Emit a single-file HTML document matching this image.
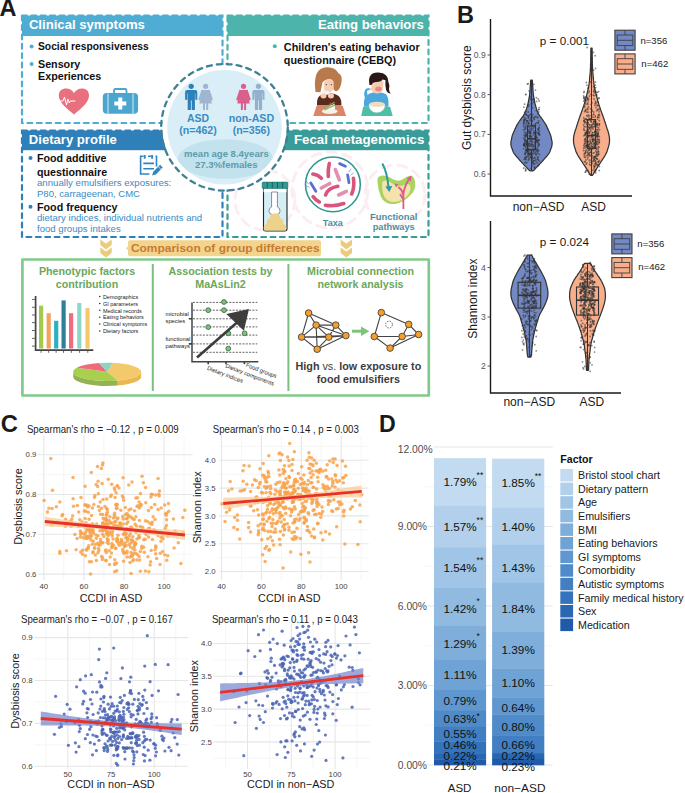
<!DOCTYPE html>
<html><head><meta charset="utf-8"><style>
html,body{margin:0;padding:0;background:#fff;}
svg{display:block;font-family:"Liberation Sans", sans-serif;}
</style></head><body>
<svg width="685" height="793" viewBox="0 0 685 793">
<rect width="685" height="793" fill="#fff"/>
<text x="-0.5" y="15.8" font-size="23.5" fill="#1a1a1a" font-weight="bold" text-anchor="start">A</text>
<rect x="22" y="15.5" width="200.5" height="20.5" fill="#4facd3"/>
<rect x="22" y="15.5" width="200.5" height="107.5" fill="none" stroke="#4facd3" stroke-width="2.2" stroke-dasharray="4.8 4.6" stroke-linecap="round"/>
<text x="28.9" y="29.2" font-size="13.1" fill="#fff" font-weight="bold" text-anchor="start" textLength="116.0" lengthAdjust="spacingAndGlyphs">Clinical symptoms</text>
<rect x="227.5" y="15.5" width="201" height="20.5" fill="#4cb4ab"/>
<rect x="227.5" y="15.5" width="201" height="107.5" fill="none" stroke="#4cb4ab" stroke-width="2.2" stroke-dasharray="4.8 4.6" stroke-linecap="round"/>
<text x="423.8" y="29.4" font-size="13.1" fill="#fff" font-weight="bold" text-anchor="end" textLength="105.8" lengthAdjust="spacingAndGlyphs">Eating behaviors</text>
<rect x="22" y="130.5" width="200.5" height="106.5" fill="none" stroke="#2f7fb8" stroke-width="2.2" stroke-dasharray="4.8 4.6" stroke-linecap="round"/>
<rect x="22" y="130.5" width="150" height="19.7" fill="#2f7fb8"/>
<text x="28.8" y="143.6" font-size="13.1" fill="#fff" font-weight="bold" text-anchor="start" textLength="88.0" lengthAdjust="spacingAndGlyphs">Dietary profile</text>
<rect x="227.5" y="130.5" width="201" height="106.5" fill="none" stroke="#3a9c98" stroke-width="2.2" stroke-dasharray="4.8 4.6" stroke-linecap="round"/>
<rect x="278" y="130.5" width="150.5" height="19.7" fill="#3a9c98"/>
<text x="424.3" y="144.0" font-size="13.1" fill="#fff" font-weight="bold" text-anchor="end" textLength="130.3" lengthAdjust="spacingAndGlyphs">Fecal metagenomics</text>
<clipPath id="fc"><rect x="229" y="151" width="198" height="85"/></clipPath><g fill="none" stroke="#fcedf1" stroke-width="3" stroke-linecap="round" stroke-dasharray="9 7" clip-path="url(#fc)"><circle cx="265" cy="200" r="30"/><circle cx="330" cy="190" r="38"/><circle cx="395" cy="195" r="30"/></g>
<circle cx="224.5" cy="127.3" r="62.3" fill="#fff"/>
<circle cx="224.5" cy="127.3" r="63.3" fill="none" stroke="#3f8095" stroke-width="2.3" stroke-dasharray="5 5" stroke-linecap="round"/>
<circle cx="224.5" cy="127.3" r="57.2" fill="#d9eef6"/>
<clipPath id="cc"><circle cx="224.5" cy="127.3" r="57.2"/></clipPath>
<ellipse cx="225.4" cy="159" rx="47.5" ry="19.8" fill="#c2e2ed" clip-path="url(#cc)"/>
<g fill="#2e80ba"><circle cx="191.2" cy="86.3" r="2.6"/><path d="M185.1,99.7 V92 q0,-2.1 2.1,-2.1 h8 q2.1,0 2.1,2.1 V99.7 h-2 V93.5 h-0.4 V110 h-3.2 V100.5 h-0.8 V110 h-3.2 V93.5 h-0.4 V99.7z"/></g>
<g fill="#9eb6d0"><circle cx="205.6" cy="86.3" r="2.6"/><path d="M201.7,89.9 h7.8 l2.3,13.6 h-12.4z"/><path d="M203.0,103 h2 v7 h-2z M206.2,103 h2 v7 h-2z"/><path d="M202.2,90.8 l-2.8,8.6 M209.0,90.8 l2.8,8.6" stroke="#9eb6d0" stroke-width="1.9" stroke-linecap="round"/></g>
<g fill="#da5f8a"><circle cx="243.5" cy="86.3" r="2.6"/><path d="M239.6,89.9 h7.8 l2.3,13.6 h-12.4z"/><path d="M240.9,103 h2 v7 h-2z M244.1,103 h2 v7 h-2z"/><path d="M240.1,90.8 l-2.8,8.6 M246.9,90.8 l2.8,8.6" stroke="#da5f8a" stroke-width="1.9" stroke-linecap="round"/></g>
<g fill="#94b0cd"><circle cx="258.4" cy="86.3" r="2.6"/><path d="M252.29999999999998,99.7 V92 q0,-2.1 2.1,-2.1 h8 q2.1,0 2.1,2.1 V99.7 h-2 V93.5 h-0.4 V110 h-3.2 V100.5 h-0.8 V110 h-3.2 V93.5 h-0.4 V99.7z"/></g>
<text x="198.0" y="121.9" font-size="10.4" fill="#3a8cc4" font-weight="bold" text-anchor="middle" textLength="22.1" lengthAdjust="spacingAndGlyphs">ASD</text>
<text x="198.0" y="133.5" font-size="10.6" fill="#3a8cc4" font-weight="bold" text-anchor="middle" textLength="37.7" lengthAdjust="spacingAndGlyphs">(n=462)</text>
<text x="251.4" y="121.9" font-size="10.6" fill="#3a8cc4" font-weight="bold" text-anchor="middle" textLength="45.5" lengthAdjust="spacingAndGlyphs">non-ASD</text>
<text x="251.3" y="133.5" font-size="10.6" fill="#3a8cc4" font-weight="bold" text-anchor="middle" textLength="37.3" lengthAdjust="spacingAndGlyphs">(n=356)</text>
<text x="226.4" y="157.2" font-size="9.6" fill="#5d9cae" font-weight="bold" text-anchor="middle" textLength="84.6" lengthAdjust="spacingAndGlyphs">mean age 8.4years</text>
<text x="226.2" y="168.1" font-size="9.6" fill="#5d9cae" font-weight="bold" text-anchor="middle" textLength="62.6" lengthAdjust="spacingAndGlyphs">27.3%females</text>
<circle cx="31.6" cy="46.6" r="2" fill="#4facd3"/><circle cx="31.6" cy="64" r="2" fill="#4facd3"/>
<text x="38.0" y="50.3" font-size="10.5" fill="#111" font-weight="bold" text-anchor="start" textLength="110.8" lengthAdjust="spacingAndGlyphs">Social responsiveness</text>
<text x="38.0" y="67.7" font-size="10.6" fill="#111" font-weight="bold" text-anchor="start" textLength="42.3" lengthAdjust="spacingAndGlyphs">Sensory</text>
<text x="38.0" y="80.3" font-size="10.6" fill="#111" font-weight="bold" text-anchor="start" textLength="63.3" lengthAdjust="spacingAndGlyphs">Experiences</text>
<path d="M74,114.5 C66,108 58.8,102 58.8,95.5 C58.8,91 62,88.5 66,88.5 C69.5,88.5 72.5,90.5 74,93 C75.5,90.5 78.5,88.5 82,88.5 C86,88.5 89,91 89,95.5 C89,102 82,108 74,114.5Z" fill="#e8707f"/>
<path d="M59,101 h4 l1.5,-4 l2,8 l1.5,-6 l1.3,4 l1,-2 h5" fill="none" stroke="#fff" stroke-width="1"/>
<path d="M114,93 v-2.5 q0,-1.5 1.5,-1.5 h9.5 q1.5,0 1.5,1.5 v2.5" fill="none" stroke="#4aa6cf" stroke-width="1.8"/>
<rect x="102.8" y="93" width="35.3" height="20.7" rx="4" fill="#4aa6cf"/>
<path d="M108,93.5 v20 M133,93.5 v20" stroke="#fff" stroke-width="0.8"/>
<path d="M118.3,97.5 h4 v4 h4 v4 h-4 v4 h-4 v-4 h-4 v-4 h4z" fill="#fff"/>
<circle cx="274.8" cy="46.2" r="2" fill="#4cb4ab"/>
<text x="283.8" y="50.9" font-size="10.6" fill="#111" font-weight="bold" text-anchor="start" textLength="135.9" lengthAdjust="spacingAndGlyphs">Children's eating behavior</text>
<text x="283.8" y="63.6" font-size="10.6" fill="#111" font-weight="bold" text-anchor="start" textLength="112.2" lengthAdjust="spacingAndGlyphs">questionnaire (CEBQ)</text>
<g><path d="M317,105.5 q-1,-9 5,-11 q4,-1.5 7,-1 q4,-0.5 7,1 q6,2 5.5,11z" fill="#5b2a1f"/><path d="M315.5,92 q-1.5,-12 1,-18 q3,-7 11,-6.8 q8,0.2 11,6 q4,1.5 3,9 q-1,7 -5,9 q-2,0 -3,-2 l-1,-8 q-6,-4 -10,1 l-2,10 z" fill="#b87a4b"/><path d="M323.8,84 q1,-5 5.5,-5.3 q4.5,0.5 4.5,5 l-0.4,5.5 q-1.8,3 -4.8,3 q-3.6,0 -4.6,-3.5z" fill="#f6cdb0"/><path d="M323,82 q3,-6 10,-3 l-1,-3 q-6,-3 -9.5,2z" fill="#b87a4b"/><circle cx="326.3" cy="84.6" r="0.6" fill="#3a2a2a"/><circle cx="331.3" cy="84.6" r="0.6" fill="#3a2a2a"/><rect x="322.5" y="90.5" width="7.2" height="4.3" rx="1.5" fill="#f2f2f2" stroke="#ccc" stroke-width="0.3"/><ellipse cx="323.5" cy="96" rx="3" ry="2.4" fill="#f6cdb0"/><ellipse cx="331" cy="96" rx="3" ry="2.4" fill="#f6cdb0"/><path d="M316.5,106 h26.3 l3.3,9.9 h-32.8z" fill="#d98669"/><ellipse cx="329.7" cy="111.3" rx="7.9" ry="2.7" fill="#f4f0ea"/><path d="M324,110 l10.5,-6.5 l0.5,5.5z" fill="#fbfaf5"/><path d="M324,108.3 l10.5,-6 M324.5,110 l10.5,-5" stroke="#7ab55c" stroke-width="1.3"/><circle cx="330.5" cy="103.4" r="1" fill="#d23a3a"/></g>
<g><path d="M364,106.7 q-1,-10 5,-13 q5,-2 9,-1.5 q5,0 8,2 q3,3 2.5,12.5z" fill="#4aa8dc"/><path d="M366,100 q-3,-5 -1,-10 q2,-3 6,-1.5 l-1.5,2 q-2,-1 -2.5,1 q0,3 2,7z" fill="#4aa8dc"/><path d="M371.5,82 q0,-3 5,-3.5 q6,0 7,4 l-0.5,7 q-2,4 -6,4 q-4,0 -5.5,-4z" fill="#f6cdb0"/><path d="M369.5,85 q-2.5,-13 9,-12.5 q10,0.5 10,10 q-3,-3 -6,-3 q-1,2 -6,2.5 q-4,0 -5,3z" fill="#2a1818"/><path d="M385.5,80 q5,2 3.5,9 q0,3 2,4.5 q-4,0 -5,-4 q-1,-5 -0.5,-9.5z" fill="#2a1818"/><ellipse cx="378.5" cy="89" rx="3.3" ry="2.5" fill="#e98a86"/><ellipse cx="371" cy="89" rx="2" ry="1.3" fill="#f6cdb0"/><path d="M363.2,106.7 h26.9 l2.6,9.2 h-31.5z" fill="#4dbfa6"/><path d="M369,104.4 h15.9 q0,7.5 -8,8.2 q-7.9,-0.7 -7.9,-8.2z" fill="#fff" stroke="#e8e0d0" stroke-width="0.4"/><ellipse cx="377" cy="104.4" rx="7.9" ry="2.6" fill="#f0dcc0"/></g>
<circle cx="30.5" cy="158" r="2" fill="#2f7fb8"/><circle cx="30.5" cy="206.8" r="2" fill="#2f7fb8"/>
<text x="37.0" y="162.3" font-size="10.7" fill="#111" font-weight="bold" text-anchor="start" textLength="69.5" lengthAdjust="spacingAndGlyphs">Food additive</text>
<text x="37.0" y="175.5" font-size="10.7" fill="#111" font-weight="bold" text-anchor="start" textLength="70.1" lengthAdjust="spacingAndGlyphs">questionnaire</text>
<text x="37.0" y="186.4" font-size="9.6" fill="#3a8cc4" text-anchor="start" textLength="134.3" lengthAdjust="spacingAndGlyphs">annually emulsifiers exposures:</text>
<text x="37.0" y="196.5" font-size="9.6" fill="#3a8cc4" text-anchor="start" textLength="103.0" lengthAdjust="spacingAndGlyphs">P80, carrageenan, CMC</text>
<text x="37.0" y="210.5" font-size="10.7" fill="#111" font-weight="bold" text-anchor="start" textLength="80.4" lengthAdjust="spacingAndGlyphs">Food frequency</text>
<text x="37.0" y="221.0" font-size="9.6" fill="#3a8cc4" text-anchor="start" textLength="165.2" lengthAdjust="spacingAndGlyphs">dietary indices, individual nutrients and</text>
<text x="37.0" y="231.5" font-size="9.6" fill="#3a8cc4" text-anchor="start" textLength="83.7" lengthAdjust="spacingAndGlyphs">food groups intakes</text>
<g fill="none" stroke="#2f86c0" stroke-width="1.6"><path d="M143.5,156.2 H140.6 V174 H149.4 M148,156.2 h3 M155.5,156.2 h1 V166.4"/><path d="M144.7,155 v3.7 M152.1,155 v3.7" stroke-width="1.9"/><path d="M143.3,163.4 H154 M143.3,168.8 H154"/></g>
<path d="M152.1,175.6 l1.2,-3.8 l6.8,-7 l2.6,2.6 l-6.8,7z" fill="#2f86c0"/>
<path d="M158.3,166.6 l2.6,2.6" stroke="#fff" stroke-width="0.7"/>
<g><rect x="263.5" y="187" width="23.5" height="44" rx="2.2" fill="#d5edf5" stroke="#222" stroke-width="1.1"/><rect x="263.5" y="189.2" width="23" height="3" fill="#fff"/><path d="M271.6,192 V207 q-3,1 -2.6,4.5 q0.5,3 3.5,3 h4 q3,0 3.5,-3 q0.4,-3.5 -2.6,-4.5 V192z" fill="#fff" stroke="#444" stroke-width="0.6"/><path d="M264,230.6 q-1.5,-5.5 3,-6.8 q-1.5,-4.5 3,-5.5 q-0.5,-4.5 5,-5 q5.5,0.5 5,5 q4.5,1 3,5.5 q4.5,1.3 3,6.8z" fill="#edd28a"/><rect x="262.1" y="182.1" width="25.8" height="6.3" rx="1.2" fill="#2e9c94" stroke="#1f5e5a" stroke-width="0.5"/><path d="M267.2,182.3 v6 M272.3,182.3 v6 M277.5,182.3 v6 M282.6,182.3 v6" stroke="#174542" stroke-width="0.7"/></g>
<circle cx="332.9" cy="184.4" r="27.4" fill="#fff" stroke="#2e9a94" stroke-width="1.6"/>
<g fill="none" stroke-linecap="round" stroke-width="3.6"><path d="M329.3,163.6 q-1.5,6 -1,12.8" stroke="#d8557e"/><path d="M312.8,174 q5,0.5 8.6,4.3" stroke="#d8557e"/><path d="M335.3,169.5 l4,10.3" stroke="#e48fb1"/><path d="M321.3,188 l8.5,-4.5" stroke="#e48fb1"/><path d="M325.6,195 q2,-7 12.2,-8.8" stroke="#d8557e"/><path d="M353.4,178.3 q1.5,8 -1.7,15.7" stroke="#d8557e"/><path d="M338.7,195 l7.7,-3.6" stroke="#e48fb1"/><path d="M313.1,196.7 q3,4 6.2,5.3" stroke="#d8557e"/><path d="M325.4,205.2 q9,1.5 18.4,-1.7" stroke="#d8557e"/></g>
<g fill="none" stroke-linecap="round" stroke="#5a6fd0"><path d="M339.6,163.6 l5.8,2.6" stroke-width="2.8"/><path d="M347.6,174.8 l1.4,7.9" stroke-width="2.8"/><path d="M310.8,183 l5,8.2" stroke-width="2.8"/><path d="M349,172 l2,-3 M351,175 l2.5,-2 M308.5,184 l-2,-2.5 M309,187 l-2.5,-1" stroke-width="0.6"/></g>
<text x="332.9" y="225.6" font-size="9.7" fill="#4b8fa0" font-weight="bold" text-anchor="middle" textLength="20.1" lengthAdjust="spacingAndGlyphs">Taxa</text>
<path d="M377.5,182 q-1,-7 6,-6.5 q6,1 10,4 q6,3 12,-2 q8,-5 9.5,4 q1.5,9 -6,15 q-6,6 -14,7.5 q-10,1 -14,-7 q-3,-7 -3.5,-15z" fill="#a9d45e"/>
<path d="M382,184 q0,-4 4,-3.5 q5,1.5 8,4 q6,3 11,0 q5,-2 5.5,3 q0,6 -5,10 q-5,4 -11,4.5 q-7,0 -10,-5 q-2.5,-5 -2.5,-13z" fill="#f4e4ac"/>
<path d="M382.3,163.4 q5,9 6.2,24" fill="none" stroke="#2a9aa2" stroke-width="2"/><path d="M385.3,186.5 l4,5.5 l3,-6z" fill="#2a9aa2"/>
<path d="M403.4,209 v-14 q0,-6 5,-15 M403.4,195 q-1,-5 -5,-8 M403,199 l-3,-5" fill="none" stroke="#d95c8f" stroke-width="1.8"/>
<path d="M406.5,178.5 l5,-3 l-0.5,6z M396,187.5 l-1.5,-4 l4,1z" fill="#d95c8f"/>
<text x="393.7" y="220.0" font-size="9.4" fill="#4b8fa0" font-weight="bold" text-anchor="middle" textLength="47.4" lengthAdjust="spacingAndGlyphs">Functional</text>
<text x="393.7" y="230.0" font-size="9.4" fill="#4b8fa0" font-weight="bold" text-anchor="middle" textLength="42.1" lengthAdjust="spacingAndGlyphs">pathways</text>
<path d="M100.3,239.6 l5.7,4 l5.7,-4 v5.5 l-5.7,4.5 l-5.7,-4.5z" fill="#eccc7c"/>
<path d="M100.3,247.6 l5.7,4 l5.7,-4 v5.5 l-5.7,4.5 l-5.7,-4.5z" fill="#eccc7c"/>
<path d="M340.6,239.6 l5.7,4 l5.7,-4 v5.5 l-5.7,4.5 l-5.7,-4.5z" fill="#eccc7c"/>
<path d="M340.6,247.6 l5.7,4 l5.7,-4 v5.5 l-5.7,4.5 l-5.7,-4.5z" fill="#eccc7c"/>
<path d="M130,240.2 h189 q2,0 2,2 v12.1 q0,2 -2,2 h-189 q-2,0 -2,-2 v-4 l-2,-2 l2,-2 v-4 q0,-2 2,-2z" fill="#f3d48d"/>
<text x="130.9" y="251.5" font-size="10.8" fill="#c87a34" font-weight="bold" text-anchor="start" textLength="188.8" lengthAdjust="spacingAndGlyphs">Comparison of group differences</text>
<rect x="22.4" y="259.5" width="406.4" height="136" fill="none" stroke="#82ca8b" stroke-width="2.7" stroke-linejoin="round"/>
<path d="M152.8,264 V391 M288.4,264 V391" stroke="#7cc080" stroke-width="2"/>
<text x="87.0" y="275.4" font-size="10.7" fill="#6aa85a" font-weight="bold" text-anchor="middle">Phenotypic factors</text>
<text x="87.0" y="287.7" font-size="10.7" fill="#6aa85a" font-weight="bold" text-anchor="middle">contribution</text>
<text x="220.5" y="275.4" font-size="10.7" fill="#6aa85a" font-weight="bold" text-anchor="middle">Association tests by</text>
<text x="220.5" y="287.7" font-size="10.7" fill="#6aa85a" font-weight="bold" text-anchor="middle">MaAsLin2</text>
<text x="360.5" y="274.7" font-size="10.7" fill="#6aa85a" font-weight="bold" text-anchor="middle">Microbial connection</text>
<text x="360.5" y="287.8" font-size="10.7" fill="#6aa85a" font-weight="bold" text-anchor="middle">network analysis</text>
<rect x="39" y="305.7" width="4.2" height="42.8" fill="#a5c94a"/>
<rect x="46.6" y="313.2" width="4.2" height="35.3" fill="#f4a261"/>
<rect x="54.1" y="320.8" width="4.2" height="27.7" fill="#2bb0c4"/>
<rect x="61.5" y="300.4" width="4.2" height="48.1" fill="#2d7f9a"/>
<rect x="69" y="313.2" width="4.2" height="35.3" fill="#ef6b7d"/>
<rect x="77.2" y="303" width="4.2" height="45.5" fill="#8fd6c8"/>
<rect x="85.4" y="308.1" width="4.2" height="40.4" fill="#f5c96b"/>
<path d="M35.6,296 V350.2 H93.3" fill="none" stroke="#444" stroke-width="1.7"/>
<path d="M32,299.4 h3.6 M32,307.3 h3.6 M32,315.0 h3.6 M32,322.6 h3.6 M32,330.5 h3.6 M32,338.4 h3.6 M32,346.1 h3.6 M41.1,350.2 v2.6 M48.7,350.2 v2.6 M56.1,350.2 v2.6 M63.5,350.2 v2.6 M71.4,350.2 v2.6 M79.6,350.2 v2.6 M87.8,350.2 v2.6 " stroke="#555" stroke-width="0.9"/>
<circle cx="99.8" cy="296.6" r="0.75" fill="#222"/>
<text x="102.9" y="298.8" font-size="5.5" fill="#222" text-anchor="start">Demographics</text>
<circle cx="99.8" cy="303.5" r="0.75" fill="#222"/>
<text x="102.9" y="305.7" font-size="5.5" fill="#222" text-anchor="start">GI parameters</text>
<circle cx="99.8" cy="310.3" r="0.75" fill="#222"/>
<text x="102.9" y="312.5" font-size="5.5" fill="#222" text-anchor="start">Medical records</text>
<circle cx="99.8" cy="317.2" r="0.75" fill="#222"/>
<text x="102.9" y="319.4" font-size="5.5" fill="#222" text-anchor="start">Eating behaviors</text>
<circle cx="99.8" cy="324.1" r="0.75" fill="#222"/>
<text x="102.9" y="326.3" font-size="5.5" fill="#222" text-anchor="start">Clinical symptoms</text>
<circle cx="99.8" cy="331.0" r="0.75" fill="#222"/>
<text x="102.9" y="333.2" font-size="5.5" fill="#222" text-anchor="start">Dietary factors</text>
<path d="M141.20,371.85 A34,9.15 0 0 1 117.71,380.55 v5 A34,9.15 0 0 0 141.20,376.85 z" fill="#e9b853"/><path d="M117.71,380.55 A34,9.15 0 0 1 73.20,371.85 v5 A34,9.15 0 0 0 117.71,385.55 z" fill="#93b352"/><path d="M107.2,371.85 L112.81,362.83 A34,9.15 0 0 1 117.71,380.55 z" fill="#f3c96b"/><path d="M107.2,371.85 L117.71,380.55 A34,9.15 0 0 1 76.80,367.75 z" fill="#a8cf4e"/><path d="M107.2,371.85 L76.80,367.75 A34,9.15 0 0 1 99.09,362.96 z" fill="#ee6b7c"/><path d="M107.2,371.85 L99.09,362.96 A34,9.15 0 0 1 112.81,362.83 z" fill="#8dd3c4"/>
<path d="M192,302.4 V361.7 H258.3" fill="none" stroke="#444" stroke-width="1.5"/>
<path d="M193,302.4 H257.3 M193,310.2 H257.3 M193,318.8 H257.3 M193,326.9 H257.3 M193,335.1 H257.3 M193,343.9 H257.3 M193,352.3 H257.3 " stroke="#3a3a3a" stroke-width="0.8" stroke-dasharray="2 1.3"/>
<path d="M188.8,318.8 H192 M188.8,343.9 H192 M208.2,361.7 v2.6 M226,361.7 v2.6 M244.4,361.7 v2.6" stroke="#3d3d3d" stroke-width="1.6"/>
<circle cx="224" cy="302" r="2.4" fill="#7cc47a" stroke="#3f5a3f" stroke-width="0.8"/>
<circle cx="208.2" cy="310.2" r="2.4" fill="#7cc47a" stroke="#3f5a3f" stroke-width="0.8"/>
<circle cx="224" cy="310.2" r="2.4" fill="#7cc47a" stroke="#3f5a3f" stroke-width="0.8"/>
<circle cx="208.2" cy="327.1" r="2.4" fill="#7cc47a" stroke="#3f5a3f" stroke-width="0.8"/>
<circle cx="228.3" cy="333.3" r="2.4" fill="#7cc47a" stroke="#3f5a3f" stroke-width="0.8"/>
<circle cx="244.6" cy="333.3" r="2.4" fill="#7cc47a" stroke="#3f5a3f" stroke-width="0.8"/>
<circle cx="228.3" cy="348.6" r="2.4" fill="#7cc47a" stroke="#3f5a3f" stroke-width="0.8"/>
<path d="M197,357.5 L237,322.5" stroke="#3d3d3d" stroke-width="2.6"/>
<path d="M226.4,314 L249,308.9 L243.9,330.8z" fill="#3d3d3d"/>
<text x="165.5" y="316.2" font-size="5.8" fill="#222" text-anchor="start">microbial</text>
<text x="165.5" y="323.0" font-size="5.8" fill="#222" text-anchor="start">species</text>
<text x="165.5" y="341.4" font-size="5.8" fill="#222" text-anchor="start">functional</text>
<text x="165.5" y="348.3" font-size="5.8" fill="#222" text-anchor="start">pathways</text>
<text x="206.7" y="369.5" font-size="5.8" fill="#222" text-anchor="start" transform="rotate(21 206.7 369.5)">Dietary indices</text>
<text x="225.0" y="367.3" font-size="5.8" fill="#222" text-anchor="start" transform="rotate(21 225 367.3)">Dietary components</text>
<text x="245.4" y="366.5" font-size="5.8" fill="#222" text-anchor="start" transform="rotate(21 245.4 366.5)">Food groups</text>
<path d="M308.6,313 L316.1,325.1 M308.6,313 L335.8,325.1 M308.6,313 L301.6,337.1 M316.1,325.1 L335.8,325.1 M316.1,325.1 L301.6,337.1 M316.1,325.1 L328.8,337.1 M316.1,325.1 L317.2,349.2 M316.1,325.1 L345.9,335.6 M335.8,325.1 L328.8,337.1 M335.8,325.1 L345.9,335.6 M301.6,337.1 L328.8,337.1 M301.6,337.1 L317.2,349.2 M328.8,337.1 L317.2,349.2 M328.8,337.1 L345.9,335.6 M317.2,349.2 L345.9,335.6 M301.6,337.1 L345.9,335.6 " stroke="#444" stroke-width="1.1"/>
<circle cx="308.6" cy="313" r="3.3" fill="#f5a02a" stroke="#444" stroke-width="0.9"/>
<circle cx="316.1" cy="325.1" r="3.3" fill="#f5a02a" stroke="#444" stroke-width="0.9"/>
<circle cx="335.8" cy="325.1" r="3.3" fill="#f5a02a" stroke="#444" stroke-width="0.9"/>
<circle cx="301.6" cy="337.1" r="3.3" fill="#f5a02a" stroke="#444" stroke-width="0.9"/>
<circle cx="328.8" cy="337.1" r="3.3" fill="#f5a02a" stroke="#444" stroke-width="0.9"/>
<circle cx="345.9" cy="335.6" r="3.3" fill="#f5a02a" stroke="#444" stroke-width="0.9"/>
<circle cx="317.2" cy="349.2" r="3.3" fill="#f5a02a" stroke="#444" stroke-width="0.9"/>
<path d="M381.3,312.6 L374.3,336.5 M381.3,312.6 L408.7,324.4 M374.3,336.5 L402.1,336.5 M374.3,336.5 L390.1,348.1 M402.1,336.5 L408.7,324.4 M408.7,324.4 L418.6,334.5 M402.1,336.5 L418.6,334.5 M390.1,348.1 L402.1,336.5 M390.1,348.1 L418.6,334.5 " stroke="#444" stroke-width="1.1"/>
<circle cx="381.3" cy="312.6" r="3.3" fill="#f5a02a" stroke="#444" stroke-width="0.9"/>
<circle cx="408.7" cy="324.4" r="3.3" fill="#f5a02a" stroke="#444" stroke-width="0.9"/>
<circle cx="374.3" cy="336.5" r="3.3" fill="#f5a02a" stroke="#444" stroke-width="0.9"/>
<circle cx="402.1" cy="336.5" r="3.3" fill="#f5a02a" stroke="#444" stroke-width="0.9"/>
<circle cx="418.6" cy="334.5" r="3.3" fill="#f5a02a" stroke="#444" stroke-width="0.9"/>
<circle cx="390.1" cy="348.1" r="3.3" fill="#f5a02a" stroke="#444" stroke-width="0.9"/>
<circle cx="389" cy="324.6" r="3.4" fill="none" stroke="#444" stroke-width="0.8" stroke-dasharray="1.5 1.2"/>
<path d="M352,331.2 h10" stroke="#7cc47a" stroke-width="3"/><path d="M361,326.5 l8.3,4.7 l-8.3,4.7z" fill="#7cc47a"/>
<text x="358.4" y="370.2" font-size="10.8" fill="#3d3d3d" font-weight="bold" text-anchor="middle" textLength="125.7" lengthAdjust="spacingAndGlyphs">High <tspan font-weight="normal">vs.</tspan> low exposure to</text>
<text x="358.4" y="382.6" font-size="10.8" fill="#3d3d3d" font-weight="bold" text-anchor="middle" textLength="83.3" lengthAdjust="spacingAndGlyphs">food emulsifiers</text>
<text x="457.0" y="22.8" font-size="23.5" fill="#1a1a1a" font-weight="bold" text-anchor="start">B</text>
<path d="M490.5,19 V196 H632" fill="none" stroke="#1a1a1a" stroke-width="1.4"/>
<path d="M487.5,55 H490.5" stroke="#333" stroke-width="0.8"/>
<text x="485.8" y="58.0" font-size="8.6" fill="#555" text-anchor="end">0.9</text>
<path d="M487.5,94.6 H490.5" stroke="#333" stroke-width="0.8"/>
<text x="485.8" y="97.6" font-size="8.6" fill="#555" text-anchor="end">0.8</text>
<path d="M487.5,134.4 H490.5" stroke="#333" stroke-width="0.8"/>
<text x="485.8" y="137.4" font-size="8.6" fill="#555" text-anchor="end">0.7</text>
<path d="M487.5,174 H490.5" stroke="#333" stroke-width="0.8"/>
<text x="485.8" y="177.0" font-size="8.6" fill="#555" text-anchor="end">0.6</text>
<text x="470.7" y="97.7" font-size="12" fill="#1a1a1a" text-anchor="middle" transform="rotate(-90 470.7 97.7)">Gut dysbiosis score</text>
<text x="564.4" y="45.4" font-size="11.7" fill="#1a1a1a" text-anchor="middle">p = 0.001</text>
<path d="M530.7,80.2 530.6,81.3 530.5,82.5 530.5,83.6 530.4,84.8 530.3,85.9 530.2,87.1 530.1,88.2 530.1,89.4 530.0,90.5 529.9,91.7 529.8,92.8 529.7,94.0 529.6,95.1 529.4,96.3 529.2,97.4 529.0,98.5 528.8,99.7 528.6,100.8 528.4,102.0 528.1,103.1 527.8,104.3 527.5,105.4 527.2,106.6 526.8,107.7 526.5,108.9 526.1,110.0 525.7,111.2 525.2,112.3 524.7,113.5 524.0,114.6 523.3,115.8 522.5,116.9 521.6,118.0 520.8,119.2 520.0,120.3 519.2,121.5 518.4,122.6 517.7,123.8 517.0,124.9 516.4,126.1 515.9,127.2 515.4,128.4 514.8,129.5 514.3,130.7 513.8,131.8 513.3,133.0 512.8,134.1 512.4,135.2 512.1,136.4 511.8,137.5 511.6,138.7 511.4,139.8 511.1,141.0 510.9,142.1 510.9,143.3 510.9,144.4 511.1,145.6 511.3,146.7 511.8,147.9 512.2,149.0 512.6,150.2 513.0,151.3 513.5,152.5 514.2,153.6 515.0,154.7 515.9,155.9 516.9,157.0 518.0,158.2 519.0,159.3 520.0,160.5 521.0,161.6 522.1,162.8 523.2,163.9 524.2,165.1 525.3,166.2 526.4,167.4 527.6,168.5 528.5,169.7 530.0,170.8 L533.0,170.8 534.5,169.7 535.4,168.5 536.6,167.4 537.7,166.2 538.8,165.1 539.8,163.9 540.9,162.8 542.0,161.6 543.0,160.5 544.0,159.3 545.0,158.2 546.1,157.0 547.1,155.9 548.0,154.7 548.8,153.6 549.5,152.5 550.0,151.3 550.4,150.2 550.8,149.0 551.2,147.9 551.7,146.7 551.9,145.6 552.1,144.4 552.1,143.3 552.1,142.1 551.9,141.0 551.6,139.8 551.4,138.7 551.2,137.5 550.9,136.4 550.6,135.2 550.2,134.1 549.7,133.0 549.2,131.8 548.7,130.7 548.2,129.5 547.6,128.4 547.1,127.2 546.6,126.1 546.0,124.9 545.3,123.8 544.6,122.6 543.8,121.5 543.0,120.3 542.2,119.2 541.4,118.0 540.5,116.9 539.7,115.8 539.0,114.6 538.3,113.5 537.8,112.3 537.3,111.2 536.9,110.0 536.5,108.9 536.2,107.7 535.8,106.6 535.5,105.4 535.2,104.3 534.9,103.1 534.6,102.0 534.4,100.8 534.2,99.7 534.0,98.5 533.8,97.4 533.6,96.3 533.4,95.1 533.3,94.0 533.2,92.8 533.1,91.7 533.0,90.5 532.9,89.4 532.9,88.2 532.8,87.1 532.7,85.9 532.6,84.8 532.5,83.6 532.5,82.5 532.4,81.3 532.3,80.2Z" fill="#7389c4" stroke="#333" stroke-width="1.25" stroke-linejoin="round"/>
<g fill="#333" fill-opacity="0.58"><circle cx="532.2" cy="145.2" r="0.9"/><circle cx="535.2" cy="158.1" r="0.9"/><circle cx="529.9" cy="150.6" r="0.9"/><circle cx="527.8" cy="125.3" r="0.9"/><circle cx="529.5" cy="127.8" r="0.9"/><circle cx="532.2" cy="157.1" r="0.9"/><circle cx="533.8" cy="84.3" r="0.9"/><circle cx="532.4" cy="153.6" r="0.9"/><circle cx="525.2" cy="152.7" r="0.9"/><circle cx="536.6" cy="137.6" r="0.9"/><circle cx="538.3" cy="129.3" r="0.9"/><circle cx="525.1" cy="127.9" r="0.9"/><circle cx="527.5" cy="126.9" r="0.9"/><circle cx="526.3" cy="135.7" r="0.9"/><circle cx="537.1" cy="137.9" r="0.9"/><circle cx="538.1" cy="140.1" r="0.9"/><circle cx="525.5" cy="170.8" r="0.9"/><circle cx="528.8" cy="153.5" r="0.9"/><circle cx="526.6" cy="143.8" r="0.9"/><circle cx="531.0" cy="168.4" r="0.9"/><circle cx="538.2" cy="123.1" r="0.9"/><circle cx="524.6" cy="119.2" r="0.9"/><circle cx="526.2" cy="144.4" r="0.9"/><circle cx="531.3" cy="104.1" r="0.9"/><circle cx="531.9" cy="99.8" r="0.9"/><circle cx="535.4" cy="139.4" r="0.9"/><circle cx="530.5" cy="137.8" r="0.9"/><circle cx="525.8" cy="159.5" r="0.9"/><circle cx="529.2" cy="143.8" r="0.9"/><circle cx="539.2" cy="139.8" r="0.9"/><circle cx="535.5" cy="139.6" r="0.9"/><circle cx="525.4" cy="126.7" r="0.9"/><circle cx="535.5" cy="90.1" r="0.9"/><circle cx="528.5" cy="123.2" r="0.9"/><circle cx="536.0" cy="148.3" r="0.9"/><circle cx="523.7" cy="123.4" r="0.9"/><circle cx="537.4" cy="133.4" r="0.9"/><circle cx="527.4" cy="84.2" r="0.9"/><circle cx="530.8" cy="154.3" r="0.9"/><circle cx="534.1" cy="118.4" r="0.9"/><circle cx="531.6" cy="127.8" r="0.9"/><circle cx="526.1" cy="156.3" r="0.9"/><circle cx="525.7" cy="140.8" r="0.9"/><circle cx="528.1" cy="156.1" r="0.9"/><circle cx="524.3" cy="145.2" r="0.9"/><circle cx="527.0" cy="151.2" r="0.9"/><circle cx="525.6" cy="111.5" r="0.9"/><circle cx="530.9" cy="141.0" r="0.9"/><circle cx="529.2" cy="137.8" r="0.9"/><circle cx="532.9" cy="158.1" r="0.9"/><circle cx="528.0" cy="132.0" r="0.9"/><circle cx="524.0" cy="144.0" r="0.9"/><circle cx="528.8" cy="106.1" r="0.9"/><circle cx="535.6" cy="134.8" r="0.9"/><circle cx="527.6" cy="131.1" r="0.9"/><circle cx="530.0" cy="119.5" r="0.9"/><circle cx="535.6" cy="154.6" r="0.9"/><circle cx="530.0" cy="132.8" r="0.9"/><circle cx="537.7" cy="166.0" r="0.9"/><circle cx="538.2" cy="143.7" r="0.9"/><circle cx="528.5" cy="144.0" r="0.9"/><circle cx="535.3" cy="145.2" r="0.9"/><circle cx="527.5" cy="147.1" r="0.9"/><circle cx="525.7" cy="118.5" r="0.9"/><circle cx="530.5" cy="136.5" r="0.9"/><circle cx="533.1" cy="125.5" r="0.9"/><circle cx="538.5" cy="133.1" r="0.9"/><circle cx="525.8" cy="114.0" r="0.9"/><circle cx="534.9" cy="164.0" r="0.9"/><circle cx="531.1" cy="124.8" r="0.9"/><circle cx="525.6" cy="146.6" r="0.9"/><circle cx="539.1" cy="128.2" r="0.9"/><circle cx="534.6" cy="157.5" r="0.9"/><circle cx="525.6" cy="146.8" r="0.9"/><circle cx="538.0" cy="117.4" r="0.9"/><circle cx="525.1" cy="153.8" r="0.9"/><circle cx="525.0" cy="162.9" r="0.9"/><circle cx="528.8" cy="159.5" r="0.9"/><circle cx="538.5" cy="143.1" r="0.9"/><circle cx="524.0" cy="117.0" r="0.9"/><circle cx="538.2" cy="122.5" r="0.9"/><circle cx="533.3" cy="160.8" r="0.9"/><circle cx="524.6" cy="141.1" r="0.9"/><circle cx="532.6" cy="120.5" r="0.9"/><circle cx="530.8" cy="157.3" r="0.9"/><circle cx="532.5" cy="144.9" r="0.9"/><circle cx="535.3" cy="141.4" r="0.9"/><circle cx="534.4" cy="133.8" r="0.9"/><circle cx="539.5" cy="134.6" r="0.9"/><circle cx="526.0" cy="124.8" r="0.9"/><circle cx="536.5" cy="101.4" r="0.9"/><circle cx="530.1" cy="157.5" r="0.9"/><circle cx="536.0" cy="137.7" r="0.9"/><circle cx="537.8" cy="141.7" r="0.9"/><circle cx="539.4" cy="130.6" r="0.9"/><circle cx="527.8" cy="150.4" r="0.9"/><circle cx="530.8" cy="97.0" r="0.9"/><circle cx="538.6" cy="133.4" r="0.9"/><circle cx="538.2" cy="98.9" r="0.9"/><circle cx="529.5" cy="115.5" r="0.9"/><circle cx="538.5" cy="165.2" r="0.9"/><circle cx="530.0" cy="145.3" r="0.9"/><circle cx="529.5" cy="135.8" r="0.9"/><circle cx="535.6" cy="139.6" r="0.9"/><circle cx="531.0" cy="157.0" r="0.9"/><circle cx="530.7" cy="132.4" r="0.9"/><circle cx="529.7" cy="143.3" r="0.9"/><circle cx="530.4" cy="146.3" r="0.9"/><circle cx="525.7" cy="132.6" r="0.9"/><circle cx="524.5" cy="139.6" r="0.9"/><circle cx="535.6" cy="152.1" r="0.9"/><circle cx="532.5" cy="160.0" r="0.9"/><circle cx="534.3" cy="119.1" r="0.9"/><circle cx="536.3" cy="162.1" r="0.9"/><circle cx="528.2" cy="83.7" r="0.9"/><circle cx="527.2" cy="149.9" r="0.9"/><circle cx="527.9" cy="154.4" r="0.9"/><circle cx="528.4" cy="118.2" r="0.9"/><circle cx="535.7" cy="135.4" r="0.9"/><circle cx="529.5" cy="154.0" r="0.9"/><circle cx="529.2" cy="90.9" r="0.9"/><circle cx="533.7" cy="144.6" r="0.9"/><circle cx="526.5" cy="152.3" r="0.9"/><circle cx="525.2" cy="139.1" r="0.9"/><circle cx="534.7" cy="148.5" r="0.9"/><circle cx="535.6" cy="124.5" r="0.9"/><circle cx="528.2" cy="122.5" r="0.9"/><circle cx="533.7" cy="133.0" r="0.9"/><circle cx="524.0" cy="121.1" r="0.9"/><circle cx="530.0" cy="131.7" r="0.9"/><circle cx="532.7" cy="162.5" r="0.9"/><circle cx="527.6" cy="142.3" r="0.9"/><circle cx="529.1" cy="131.7" r="0.9"/><circle cx="533.3" cy="128.1" r="0.9"/><circle cx="532.9" cy="162.5" r="0.9"/><circle cx="526.0" cy="135.9" r="0.9"/><circle cx="534.8" cy="167.1" r="0.9"/><circle cx="524.8" cy="139.8" r="0.9"/><circle cx="539.0" cy="140.3" r="0.9"/><circle cx="526.7" cy="157.2" r="0.9"/><circle cx="527.6" cy="151.0" r="0.9"/><circle cx="526.7" cy="141.7" r="0.9"/><circle cx="539.4" cy="135.2" r="0.9"/><circle cx="528.1" cy="156.3" r="0.9"/><circle cx="533.2" cy="135.1" r="0.9"/><circle cx="539.4" cy="161.2" r="0.9"/><circle cx="538.7" cy="109.6" r="0.9"/><circle cx="524.2" cy="135.2" r="0.9"/><circle cx="531.8" cy="140.4" r="0.9"/><circle cx="533.1" cy="162.7" r="0.9"/><circle cx="534.7" cy="125.8" r="0.9"/><circle cx="528.9" cy="153.7" r="0.9"/><circle cx="528.7" cy="146.0" r="0.9"/><circle cx="523.6" cy="148.6" r="0.9"/><circle cx="524.1" cy="144.9" r="0.9"/><circle cx="532.3" cy="165.7" r="0.9"/><circle cx="524.7" cy="129.6" r="0.9"/><circle cx="526.7" cy="134.6" r="0.9"/><circle cx="528.8" cy="123.4" r="0.9"/><circle cx="524.6" cy="104.2" r="0.9"/><circle cx="524.0" cy="122.8" r="0.9"/><circle cx="538.3" cy="159.8" r="0.9"/><circle cx="530.5" cy="154.2" r="0.9"/><circle cx="526.8" cy="114.9" r="0.9"/><circle cx="534.8" cy="143.0" r="0.9"/><circle cx="523.7" cy="137.9" r="0.9"/><circle cx="527.4" cy="142.7" r="0.9"/><circle cx="538.9" cy="145.5" r="0.9"/><circle cx="537.9" cy="129.6" r="0.9"/><circle cx="533.7" cy="164.2" r="0.9"/><circle cx="525.0" cy="136.9" r="0.9"/><circle cx="528.6" cy="145.5" r="0.9"/><circle cx="523.9" cy="143.9" r="0.9"/><circle cx="527.0" cy="121.0" r="0.9"/><circle cx="523.9" cy="107.2" r="0.9"/><circle cx="525.5" cy="134.3" r="0.9"/><circle cx="533.6" cy="151.1" r="0.9"/><circle cx="525.1" cy="154.2" r="0.9"/><circle cx="526.0" cy="149.5" r="0.9"/><circle cx="537.9" cy="113.9" r="0.9"/><circle cx="528.9" cy="158.5" r="0.9"/><circle cx="528.8" cy="152.0" r="0.9"/><circle cx="524.9" cy="157.7" r="0.9"/><circle cx="536.2" cy="139.8" r="0.9"/><circle cx="534.3" cy="160.3" r="0.9"/><circle cx="532.3" cy="103.5" r="0.9"/><circle cx="533.3" cy="98.8" r="0.9"/><circle cx="526.0" cy="94.6" r="0.9"/><circle cx="527.7" cy="126.6" r="0.9"/><circle cx="532.8" cy="125.7" r="0.9"/><circle cx="538.7" cy="120.9" r="0.9"/><circle cx="536.6" cy="142.0" r="0.9"/><circle cx="533.8" cy="102.0" r="0.9"/><circle cx="531.8" cy="142.5" r="0.9"/><circle cx="523.7" cy="120.2" r="0.9"/><circle cx="537.8" cy="147.0" r="0.9"/><circle cx="525.6" cy="94.3" r="0.9"/><circle cx="525.6" cy="128.7" r="0.9"/><circle cx="534.6" cy="160.9" r="0.9"/><circle cx="536.5" cy="140.5" r="0.9"/><circle cx="536.1" cy="154.7" r="0.9"/><circle cx="530.7" cy="144.5" r="0.9"/><circle cx="526.3" cy="143.7" r="0.9"/><circle cx="524.1" cy="121.9" r="0.9"/><circle cx="537.1" cy="142.1" r="0.9"/><circle cx="539.1" cy="100.9" r="0.9"/><circle cx="527.4" cy="152.4" r="0.9"/><circle cx="537.4" cy="163.1" r="0.9"/><circle cx="529.9" cy="155.4" r="0.9"/><circle cx="528.5" cy="105.0" r="0.9"/><circle cx="531.6" cy="129.9" r="0.9"/><circle cx="523.6" cy="129.8" r="0.9"/><circle cx="530.6" cy="114.4" r="0.9"/><circle cx="526.7" cy="144.2" r="0.9"/><circle cx="534.9" cy="153.2" r="0.9"/><circle cx="531.5" cy="128.7" r="0.9"/><circle cx="537.4" cy="156.9" r="0.9"/><circle cx="537.8" cy="153.4" r="0.9"/><circle cx="528.6" cy="117.3" r="0.9"/><circle cx="528.0" cy="150.3" r="0.9"/><circle cx="538.5" cy="157.4" r="0.9"/><circle cx="531.6" cy="122.9" r="0.9"/><circle cx="525.0" cy="142.8" r="0.9"/><circle cx="524.2" cy="144.9" r="0.9"/><circle cx="539.3" cy="144.3" r="0.9"/><circle cx="532.8" cy="114.3" r="0.9"/><circle cx="524.4" cy="144.7" r="0.9"/><circle cx="531.7" cy="144.0" r="0.9"/><circle cx="531.6" cy="152.5" r="0.9"/><circle cx="530.5" cy="153.2" r="0.9"/><circle cx="538.7" cy="131.6" r="0.9"/><circle cx="538.7" cy="150.1" r="0.9"/><circle cx="525.5" cy="157.3" r="0.9"/><circle cx="525.9" cy="158.6" r="0.9"/><circle cx="530.0" cy="120.7" r="0.9"/><circle cx="536.4" cy="97.6" r="0.9"/><circle cx="533.5" cy="146.6" r="0.9"/><circle cx="535.2" cy="124.0" r="0.9"/><circle cx="532.7" cy="141.8" r="0.9"/><circle cx="526.9" cy="162.8" r="0.9"/><circle cx="536.6" cy="131.9" r="0.9"/><circle cx="523.7" cy="126.6" r="0.9"/><circle cx="534.7" cy="136.8" r="0.9"/><circle cx="526.6" cy="145.4" r="0.9"/><circle cx="531.0" cy="114.3" r="0.9"/><circle cx="539.1" cy="133.5" r="0.9"/><circle cx="532.1" cy="116.5" r="0.9"/><circle cx="524.4" cy="145.7" r="0.9"/><circle cx="530.4" cy="153.9" r="0.9"/><circle cx="534.1" cy="132.2" r="0.9"/><circle cx="524.4" cy="132.5" r="0.9"/><circle cx="527.5" cy="140.9" r="0.9"/><circle cx="523.8" cy="124.8" r="0.9"/><circle cx="532.1" cy="125.6" r="0.9"/><circle cx="529.6" cy="131.6" r="0.9"/><circle cx="531.6" cy="136.8" r="0.9"/><circle cx="528.2" cy="112.0" r="0.9"/><circle cx="534.0" cy="149.9" r="0.9"/><circle cx="526.3" cy="141.0" r="0.9"/><circle cx="538.0" cy="129.0" r="0.9"/><circle cx="538.9" cy="109.4" r="0.9"/><circle cx="531.4" cy="150.5" r="0.9"/><circle cx="530.9" cy="117.6" r="0.9"/><circle cx="537.3" cy="117.3" r="0.9"/><circle cx="528.1" cy="116.2" r="0.9"/><circle cx="536.3" cy="110.6" r="0.9"/><circle cx="528.1" cy="160.3" r="0.9"/><circle cx="535.0" cy="126.7" r="0.9"/><circle cx="528.8" cy="130.0" r="0.9"/><circle cx="533.1" cy="153.9" r="0.9"/><circle cx="538.3" cy="145.1" r="0.9"/><circle cx="524.4" cy="120.6" r="0.9"/><circle cx="536.4" cy="136.4" r="0.9"/><circle cx="532.2" cy="156.0" r="0.9"/><circle cx="529.6" cy="133.1" r="0.9"/><circle cx="529.1" cy="148.7" r="0.9"/><circle cx="524.6" cy="112.5" r="0.9"/><circle cx="527.6" cy="148.5" r="0.9"/><circle cx="533.5" cy="151.9" r="0.9"/><circle cx="525.1" cy="153.8" r="0.9"/><circle cx="534.2" cy="146.3" r="0.9"/><circle cx="538.9" cy="133.3" r="0.9"/><circle cx="539.2" cy="107.6" r="0.9"/><circle cx="537.7" cy="140.7" r="0.9"/><circle cx="536.4" cy="149.7" r="0.9"/><circle cx="526.3" cy="123.2" r="0.9"/><circle cx="539.0" cy="127.5" r="0.9"/><circle cx="526.7" cy="141.5" r="0.9"/><circle cx="537.4" cy="149.9" r="0.9"/><circle cx="537.5" cy="158.7" r="0.9"/><circle cx="533.5" cy="117.4" r="0.9"/><circle cx="531.8" cy="121.2" r="0.9"/><circle cx="526.7" cy="151.4" r="0.9"/><circle cx="531.8" cy="146.6" r="0.9"/><circle cx="528.1" cy="149.5" r="0.9"/><circle cx="525.5" cy="169.0" r="0.9"/><circle cx="525.6" cy="162.2" r="0.9"/><circle cx="536.3" cy="154.2" r="0.9"/><circle cx="538.3" cy="151.2" r="0.9"/><circle cx="525.8" cy="134.9" r="0.9"/><circle cx="523.7" cy="145.5" r="0.9"/><circle cx="527.7" cy="121.0" r="0.9"/><circle cx="525.7" cy="150.9" r="0.9"/><circle cx="526.5" cy="149.2" r="0.9"/><circle cx="532.8" cy="148.4" r="0.9"/><circle cx="530.3" cy="135.9" r="0.9"/><circle cx="530.4" cy="132.2" r="0.9"/><circle cx="526.8" cy="134.2" r="0.9"/><circle cx="534.0" cy="99.6" r="0.9"/><circle cx="528.1" cy="154.1" r="0.9"/><circle cx="529.9" cy="141.5" r="0.9"/><circle cx="530.9" cy="133.9" r="0.9"/><circle cx="538.0" cy="140.5" r="0.9"/><circle cx="527.4" cy="149.2" r="0.9"/><circle cx="535.0" cy="133.0" r="0.9"/><circle cx="528.4" cy="153.8" r="0.9"/><circle cx="537.8" cy="159.6" r="0.9"/><circle cx="529.8" cy="133.8" r="0.9"/><circle cx="531.6" cy="118.0" r="0.9"/><circle cx="537.5" cy="152.0" r="0.9"/><circle cx="534.3" cy="167.5" r="0.9"/><circle cx="525.0" cy="119.4" r="0.9"/><circle cx="525.7" cy="149.8" r="0.9"/><circle cx="539.4" cy="154.4" r="0.9"/><circle cx="524.0" cy="159.3" r="0.9"/><circle cx="528.3" cy="115.8" r="0.9"/><circle cx="538.8" cy="112.0" r="0.9"/><circle cx="523.7" cy="168.0" r="0.9"/><circle cx="526.1" cy="114.8" r="0.9"/><circle cx="526.9" cy="120.9" r="0.9"/><circle cx="524.9" cy="142.8" r="0.9"/><circle cx="531.1" cy="136.3" r="0.9"/><circle cx="533.0" cy="150.0" r="0.9"/><circle cx="528.6" cy="123.7" r="0.9"/><circle cx="525.2" cy="158.9" r="0.9"/><circle cx="536.5" cy="122.7" r="0.9"/><circle cx="536.4" cy="151.1" r="0.9"/><circle cx="532.5" cy="108.1" r="0.9"/><circle cx="525.7" cy="136.6" r="0.9"/><circle cx="532.1" cy="99.9" r="0.9"/><circle cx="533.6" cy="130.6" r="0.9"/><circle cx="530.4" cy="129.7" r="0.9"/><circle cx="537.3" cy="149.3" r="0.9"/><circle cx="529.7" cy="136.0" r="0.9"/><circle cx="531.7" cy="106.7" r="0.9"/><circle cx="525.9" cy="170.2" r="0.9"/><circle cx="532.5" cy="158.4" r="0.9"/><circle cx="535.8" cy="160.0" r="0.9"/><circle cx="535.2" cy="126.2" r="0.9"/><circle cx="527.6" cy="133.4" r="0.9"/><circle cx="539.4" cy="125.1" r="0.9"/><circle cx="535.0" cy="116.9" r="0.9"/><circle cx="530.3" cy="98.9" r="0.9"/><circle cx="530.1" cy="139.0" r="0.9"/><circle cx="536.0" cy="116.5" r="0.9"/><circle cx="526.3" cy="120.6" r="0.9"/></g>
<path d="M531.5,80.2 V126 M531.5,149.7 V170.8" stroke="#333" stroke-width="1"/>
<rect x="527.5" y="126" width="8" height="23.7" fill="none" stroke="#333" stroke-width="1.1"/>
<path d="M527.5,138.8 h8" stroke="#333" stroke-width="1.6"/>
<path d="M590.9,48.2 590.9,49.8 590.8,51.4 590.8,53.0 590.8,54.6 590.8,56.3 590.7,57.9 590.7,59.5 590.7,61.1 590.7,62.7 590.6,64.3 590.6,65.9 590.5,67.5 590.4,69.1 590.3,70.7 590.2,72.4 590.0,74.0 589.9,75.6 589.7,77.2 589.6,78.8 589.5,80.4 589.3,82.0 589.1,83.6 588.9,85.2 588.6,86.8 588.3,88.5 587.9,90.1 587.5,91.7 587.1,93.3 586.7,94.9 586.3,96.5 585.9,98.1 585.5,99.7 585.1,101.3 584.6,102.9 584.1,104.6 583.6,106.2 583.0,107.8 582.5,109.4 581.9,111.0 581.3,112.6 580.7,114.2 580.1,115.8 579.6,117.4 579.0,119.0 578.5,120.7 577.9,122.3 577.4,123.9 576.9,125.5 576.4,127.1 575.9,128.7 575.3,130.3 574.8,131.9 574.4,133.5 574.0,135.1 573.7,136.8 573.5,138.4 573.5,140.0 573.5,141.6 573.7,143.2 574.0,144.8 574.4,146.4 574.9,148.0 575.4,149.6 575.9,151.2 576.6,152.9 577.4,154.5 578.3,156.1 579.3,157.7 580.4,159.3 581.4,160.9 582.5,162.5 583.5,164.1 584.6,165.7 585.6,167.3 586.7,169.0 587.7,170.6 588.7,172.2 589.5,173.8 590.7,175.4 L592.3,175.4 593.5,173.8 594.3,172.2 595.3,170.6 596.3,169.0 597.4,167.3 598.4,165.7 599.5,164.1 600.5,162.5 601.6,160.9 602.6,159.3 603.7,157.7 604.7,156.1 605.6,154.5 606.4,152.9 607.1,151.2 607.6,149.6 608.1,148.0 608.6,146.4 609.0,144.8 609.3,143.2 609.5,141.6 609.5,140.0 609.5,138.4 609.3,136.8 609.0,135.1 608.6,133.5 608.2,131.9 607.7,130.3 607.1,128.7 606.6,127.1 606.1,125.5 605.6,123.9 605.1,122.3 604.5,120.7 604.0,119.0 603.4,117.4 602.9,115.8 602.3,114.2 601.7,112.6 601.1,111.0 600.5,109.4 600.0,107.8 599.4,106.2 598.9,104.6 598.4,102.9 597.9,101.3 597.5,99.7 597.1,98.1 596.7,96.5 596.3,94.9 595.9,93.3 595.5,91.7 595.1,90.1 594.7,88.5 594.4,86.8 594.1,85.2 593.9,83.6 593.7,82.0 593.5,80.4 593.4,78.8 593.3,77.2 593.1,75.6 593.0,74.0 592.8,72.4 592.7,70.7 592.6,69.1 592.5,67.5 592.4,65.9 592.4,64.3 592.3,62.7 592.3,61.1 592.3,59.5 592.3,57.9 592.2,56.3 592.2,54.6 592.2,53.0 592.2,51.4 592.1,49.8 592.1,48.2Z" fill="#f8ae8b" stroke="#333" stroke-width="1.25" stroke-linejoin="round"/>
<g fill="#333" fill-opacity="0.58"><circle cx="592.7" cy="141.3" r="0.9"/><circle cx="594.7" cy="146.9" r="0.9"/><circle cx="595.9" cy="135.8" r="0.9"/><circle cx="589.6" cy="155.9" r="0.9"/><circle cx="587.0" cy="130.9" r="0.9"/><circle cx="597.1" cy="133.4" r="0.9"/><circle cx="585.5" cy="118.9" r="0.9"/><circle cx="584.5" cy="161.6" r="0.9"/><circle cx="587.2" cy="122.4" r="0.9"/><circle cx="591.4" cy="143.5" r="0.9"/><circle cx="598.6" cy="127.9" r="0.9"/><circle cx="595.2" cy="161.1" r="0.9"/><circle cx="592.5" cy="163.1" r="0.9"/><circle cx="591.8" cy="77.8" r="0.9"/><circle cx="594.6" cy="171.9" r="0.9"/><circle cx="593.5" cy="139.4" r="0.9"/><circle cx="588.9" cy="92.8" r="0.9"/><circle cx="585.0" cy="134.6" r="0.9"/><circle cx="587.0" cy="85.3" r="0.9"/><circle cx="596.0" cy="135.5" r="0.9"/><circle cx="593.7" cy="112.0" r="0.9"/><circle cx="596.3" cy="125.6" r="0.9"/><circle cx="584.2" cy="120.5" r="0.9"/><circle cx="597.9" cy="139.2" r="0.9"/><circle cx="589.6" cy="153.0" r="0.9"/><circle cx="598.3" cy="161.6" r="0.9"/><circle cx="593.0" cy="123.4" r="0.9"/><circle cx="592.3" cy="139.4" r="0.9"/><circle cx="595.1" cy="55.7" r="0.9"/><circle cx="593.5" cy="124.0" r="0.9"/><circle cx="594.3" cy="167.0" r="0.9"/><circle cx="586.0" cy="100.7" r="0.9"/><circle cx="593.2" cy="156.6" r="0.9"/><circle cx="589.2" cy="144.4" r="0.9"/><circle cx="584.7" cy="121.6" r="0.9"/><circle cx="585.6" cy="150.8" r="0.9"/><circle cx="591.2" cy="119.0" r="0.9"/><circle cx="587.7" cy="158.8" r="0.9"/><circle cx="595.7" cy="94.8" r="0.9"/><circle cx="585.5" cy="100.6" r="0.9"/><circle cx="583.7" cy="148.0" r="0.9"/><circle cx="599.5" cy="129.8" r="0.9"/><circle cx="588.5" cy="107.0" r="0.9"/><circle cx="591.7" cy="136.2" r="0.9"/><circle cx="586.9" cy="119.5" r="0.9"/><circle cx="586.8" cy="135.7" r="0.9"/><circle cx="589.9" cy="147.7" r="0.9"/><circle cx="596.1" cy="156.0" r="0.9"/><circle cx="584.1" cy="91.5" r="0.9"/><circle cx="596.9" cy="141.4" r="0.9"/><circle cx="599.3" cy="170.5" r="0.9"/><circle cx="592.4" cy="132.7" r="0.9"/><circle cx="589.3" cy="150.2" r="0.9"/><circle cx="587.2" cy="97.4" r="0.9"/><circle cx="586.4" cy="155.7" r="0.9"/><circle cx="588.7" cy="136.8" r="0.9"/><circle cx="597.1" cy="158.8" r="0.9"/><circle cx="583.6" cy="150.5" r="0.9"/><circle cx="596.1" cy="154.7" r="0.9"/><circle cx="594.2" cy="89.5" r="0.9"/><circle cx="583.8" cy="145.8" r="0.9"/><circle cx="584.6" cy="111.7" r="0.9"/><circle cx="595.3" cy="115.8" r="0.9"/><circle cx="594.3" cy="121.4" r="0.9"/><circle cx="588.5" cy="141.3" r="0.9"/><circle cx="597.3" cy="142.7" r="0.9"/><circle cx="586.9" cy="162.9" r="0.9"/><circle cx="590.6" cy="64.5" r="0.9"/><circle cx="585.3" cy="110.1" r="0.9"/><circle cx="593.8" cy="126.7" r="0.9"/><circle cx="584.9" cy="153.7" r="0.9"/><circle cx="586.4" cy="136.8" r="0.9"/><circle cx="595.8" cy="134.1" r="0.9"/><circle cx="591.5" cy="148.7" r="0.9"/><circle cx="594.1" cy="142.8" r="0.9"/><circle cx="595.2" cy="120.1" r="0.9"/><circle cx="593.2" cy="95.1" r="0.9"/><circle cx="586.7" cy="131.6" r="0.9"/><circle cx="594.7" cy="157.5" r="0.9"/><circle cx="585.4" cy="139.3" r="0.9"/><circle cx="587.8" cy="88.1" r="0.9"/><circle cx="590.7" cy="129.8" r="0.9"/><circle cx="585.3" cy="126.7" r="0.9"/><circle cx="585.2" cy="138.8" r="0.9"/><circle cx="593.9" cy="138.4" r="0.9"/><circle cx="595.4" cy="163.2" r="0.9"/><circle cx="589.4" cy="124.8" r="0.9"/><circle cx="589.7" cy="128.7" r="0.9"/><circle cx="586.8" cy="139.8" r="0.9"/><circle cx="591.8" cy="158.4" r="0.9"/><circle cx="592.8" cy="147.2" r="0.9"/><circle cx="598.4" cy="133.1" r="0.9"/><circle cx="584.1" cy="153.9" r="0.9"/><circle cx="598.0" cy="134.1" r="0.9"/><circle cx="599.4" cy="166.5" r="0.9"/><circle cx="589.0" cy="117.9" r="0.9"/><circle cx="595.1" cy="103.6" r="0.9"/><circle cx="596.7" cy="152.1" r="0.9"/><circle cx="593.9" cy="119.9" r="0.9"/><circle cx="588.1" cy="153.2" r="0.9"/><circle cx="593.5" cy="139.6" r="0.9"/><circle cx="597.5" cy="133.6" r="0.9"/><circle cx="585.2" cy="97.0" r="0.9"/><circle cx="591.2" cy="152.0" r="0.9"/><circle cx="583.9" cy="92.6" r="0.9"/><circle cx="597.0" cy="164.5" r="0.9"/><circle cx="596.0" cy="158.1" r="0.9"/><circle cx="584.2" cy="121.7" r="0.9"/><circle cx="595.4" cy="101.5" r="0.9"/><circle cx="594.6" cy="156.7" r="0.9"/><circle cx="585.5" cy="132.8" r="0.9"/><circle cx="591.9" cy="102.8" r="0.9"/><circle cx="594.5" cy="132.5" r="0.9"/><circle cx="588.9" cy="116.0" r="0.9"/><circle cx="591.6" cy="128.2" r="0.9"/><circle cx="599.1" cy="142.1" r="0.9"/><circle cx="593.7" cy="161.0" r="0.9"/><circle cx="591.5" cy="151.8" r="0.9"/><circle cx="584.6" cy="107.0" r="0.9"/><circle cx="585.4" cy="132.6" r="0.9"/><circle cx="597.1" cy="134.3" r="0.9"/><circle cx="595.4" cy="171.3" r="0.9"/><circle cx="596.9" cy="95.1" r="0.9"/><circle cx="592.7" cy="136.6" r="0.9"/><circle cx="592.7" cy="161.2" r="0.9"/><circle cx="592.0" cy="126.4" r="0.9"/><circle cx="595.3" cy="117.2" r="0.9"/><circle cx="588.8" cy="136.8" r="0.9"/><circle cx="591.4" cy="122.3" r="0.9"/><circle cx="591.0" cy="160.1" r="0.9"/><circle cx="594.1" cy="95.7" r="0.9"/><circle cx="587.0" cy="112.2" r="0.9"/><circle cx="583.9" cy="97.4" r="0.9"/><circle cx="584.9" cy="146.2" r="0.9"/><circle cx="586.4" cy="119.2" r="0.9"/><circle cx="597.2" cy="159.1" r="0.9"/><circle cx="595.0" cy="156.7" r="0.9"/><circle cx="595.5" cy="160.9" r="0.9"/><circle cx="590.6" cy="119.0" r="0.9"/><circle cx="587.1" cy="47.5" r="0.9"/><circle cx="590.9" cy="127.2" r="0.9"/><circle cx="597.3" cy="165.3" r="0.9"/><circle cx="591.6" cy="148.2" r="0.9"/><circle cx="593.6" cy="91.4" r="0.9"/><circle cx="589.5" cy="146.2" r="0.9"/><circle cx="585.9" cy="159.9" r="0.9"/><circle cx="593.5" cy="165.5" r="0.9"/><circle cx="591.3" cy="146.0" r="0.9"/><circle cx="589.0" cy="155.0" r="0.9"/><circle cx="587.6" cy="155.0" r="0.9"/><circle cx="594.6" cy="126.4" r="0.9"/><circle cx="588.6" cy="99.0" r="0.9"/><circle cx="592.7" cy="147.0" r="0.9"/><circle cx="587.7" cy="103.0" r="0.9"/><circle cx="595.6" cy="126.2" r="0.9"/><circle cx="589.8" cy="173.8" r="0.9"/><circle cx="591.2" cy="137.4" r="0.9"/><circle cx="598.3" cy="134.8" r="0.9"/><circle cx="595.0" cy="164.0" r="0.9"/><circle cx="595.3" cy="120.1" r="0.9"/><circle cx="589.3" cy="173.9" r="0.9"/><circle cx="596.9" cy="158.6" r="0.9"/><circle cx="589.7" cy="124.8" r="0.9"/><circle cx="599.3" cy="123.9" r="0.9"/><circle cx="597.8" cy="102.1" r="0.9"/><circle cx="594.0" cy="159.5" r="0.9"/><circle cx="596.8" cy="110.7" r="0.9"/><circle cx="592.0" cy="61.6" r="0.9"/><circle cx="595.2" cy="156.6" r="0.9"/><circle cx="585.5" cy="141.1" r="0.9"/><circle cx="599.3" cy="142.2" r="0.9"/><circle cx="596.3" cy="148.7" r="0.9"/><circle cx="586.3" cy="82.5" r="0.9"/><circle cx="587.4" cy="99.3" r="0.9"/><circle cx="592.7" cy="132.6" r="0.9"/><circle cx="595.7" cy="87.6" r="0.9"/><circle cx="585.9" cy="134.6" r="0.9"/><circle cx="598.9" cy="147.2" r="0.9"/><circle cx="589.0" cy="141.9" r="0.9"/><circle cx="599.4" cy="140.3" r="0.9"/><circle cx="595.3" cy="85.2" r="0.9"/><circle cx="591.3" cy="115.8" r="0.9"/><circle cx="589.3" cy="160.2" r="0.9"/><circle cx="585.0" cy="102.8" r="0.9"/><circle cx="584.9" cy="135.1" r="0.9"/><circle cx="593.5" cy="86.8" r="0.9"/><circle cx="595.9" cy="162.4" r="0.9"/><circle cx="598.0" cy="109.1" r="0.9"/><circle cx="589.3" cy="127.6" r="0.9"/><circle cx="598.5" cy="136.1" r="0.9"/><circle cx="588.3" cy="145.7" r="0.9"/><circle cx="598.5" cy="161.7" r="0.9"/><circle cx="598.2" cy="148.9" r="0.9"/><circle cx="586.0" cy="122.6" r="0.9"/><circle cx="597.3" cy="92.3" r="0.9"/><circle cx="594.8" cy="146.5" r="0.9"/><circle cx="594.7" cy="166.7" r="0.9"/><circle cx="595.6" cy="68.3" r="0.9"/><circle cx="592.1" cy="149.2" r="0.9"/><circle cx="591.6" cy="109.4" r="0.9"/><circle cx="589.4" cy="132.5" r="0.9"/><circle cx="597.3" cy="136.7" r="0.9"/><circle cx="597.9" cy="141.1" r="0.9"/><circle cx="586.1" cy="170.3" r="0.9"/><circle cx="595.9" cy="144.7" r="0.9"/><circle cx="587.9" cy="126.8" r="0.9"/><circle cx="586.4" cy="145.6" r="0.9"/><circle cx="586.7" cy="133.4" r="0.9"/><circle cx="592.7" cy="127.3" r="0.9"/><circle cx="588.0" cy="124.5" r="0.9"/><circle cx="587.4" cy="134.1" r="0.9"/><circle cx="585.1" cy="119.3" r="0.9"/><circle cx="588.7" cy="115.1" r="0.9"/><circle cx="595.9" cy="107.6" r="0.9"/><circle cx="583.8" cy="130.0" r="0.9"/><circle cx="591.2" cy="121.0" r="0.9"/><circle cx="593.1" cy="153.2" r="0.9"/><circle cx="584.3" cy="155.7" r="0.9"/><circle cx="588.2" cy="122.6" r="0.9"/><circle cx="598.0" cy="139.6" r="0.9"/><circle cx="599.4" cy="160.5" r="0.9"/><circle cx="597.1" cy="126.9" r="0.9"/><circle cx="586.2" cy="138.1" r="0.9"/><circle cx="595.7" cy="131.4" r="0.9"/><circle cx="590.7" cy="142.3" r="0.9"/><circle cx="586.2" cy="164.2" r="0.9"/><circle cx="591.2" cy="104.4" r="0.9"/><circle cx="598.3" cy="164.3" r="0.9"/><circle cx="597.5" cy="144.7" r="0.9"/><circle cx="589.8" cy="149.7" r="0.9"/><circle cx="584.5" cy="141.0" r="0.9"/><circle cx="597.9" cy="155.1" r="0.9"/><circle cx="599.3" cy="120.7" r="0.9"/><circle cx="591.7" cy="146.4" r="0.9"/><circle cx="587.1" cy="116.1" r="0.9"/><circle cx="592.2" cy="136.4" r="0.9"/><circle cx="594.6" cy="145.4" r="0.9"/><circle cx="591.2" cy="112.2" r="0.9"/><circle cx="589.1" cy="91.2" r="0.9"/><circle cx="587.5" cy="152.2" r="0.9"/><circle cx="588.2" cy="150.7" r="0.9"/><circle cx="584.3" cy="144.3" r="0.9"/><circle cx="587.6" cy="123.6" r="0.9"/><circle cx="598.8" cy="143.6" r="0.9"/><circle cx="583.6" cy="96.0" r="0.9"/><circle cx="595.1" cy="144.5" r="0.9"/><circle cx="596.1" cy="139.8" r="0.9"/><circle cx="590.0" cy="139.5" r="0.9"/><circle cx="593.0" cy="129.0" r="0.9"/><circle cx="587.0" cy="115.4" r="0.9"/><circle cx="594.2" cy="146.9" r="0.9"/><circle cx="594.8" cy="131.1" r="0.9"/><circle cx="595.3" cy="148.2" r="0.9"/><circle cx="591.4" cy="124.9" r="0.9"/><circle cx="599.0" cy="97.9" r="0.9"/><circle cx="597.4" cy="136.2" r="0.9"/><circle cx="592.7" cy="140.6" r="0.9"/><circle cx="594.4" cy="159.4" r="0.9"/><circle cx="587.9" cy="157.2" r="0.9"/><circle cx="598.6" cy="91.6" r="0.9"/><circle cx="593.8" cy="148.7" r="0.9"/><circle cx="597.8" cy="117.3" r="0.9"/><circle cx="588.1" cy="146.3" r="0.9"/><circle cx="599.2" cy="125.5" r="0.9"/><circle cx="585.2" cy="121.6" r="0.9"/><circle cx="592.0" cy="134.6" r="0.9"/><circle cx="585.3" cy="133.8" r="0.9"/><circle cx="586.5" cy="146.2" r="0.9"/><circle cx="595.7" cy="142.7" r="0.9"/><circle cx="584.6" cy="143.7" r="0.9"/><circle cx="589.6" cy="127.4" r="0.9"/><circle cx="586.6" cy="145.0" r="0.9"/><circle cx="597.1" cy="124.5" r="0.9"/><circle cx="584.8" cy="139.4" r="0.9"/><circle cx="588.9" cy="131.6" r="0.9"/><circle cx="597.2" cy="137.5" r="0.9"/><circle cx="593.8" cy="70.1" r="0.9"/><circle cx="594.8" cy="132.5" r="0.9"/><circle cx="599.4" cy="115.5" r="0.9"/><circle cx="583.9" cy="128.3" r="0.9"/><circle cx="594.1" cy="92.8" r="0.9"/><circle cx="595.4" cy="143.8" r="0.9"/><circle cx="595.5" cy="157.7" r="0.9"/><circle cx="594.9" cy="124.8" r="0.9"/><circle cx="584.7" cy="99.2" r="0.9"/><circle cx="584.8" cy="143.1" r="0.9"/><circle cx="595.9" cy="102.4" r="0.9"/><circle cx="593.3" cy="157.9" r="0.9"/><circle cx="587.7" cy="104.4" r="0.9"/><circle cx="583.6" cy="124.8" r="0.9"/><circle cx="592.0" cy="134.5" r="0.9"/><circle cx="584.9" cy="100.1" r="0.9"/><circle cx="595.5" cy="123.0" r="0.9"/><circle cx="589.0" cy="120.0" r="0.9"/><circle cx="596.4" cy="147.5" r="0.9"/><circle cx="585.2" cy="172.1" r="0.9"/><circle cx="591.4" cy="126.2" r="0.9"/><circle cx="585.1" cy="152.8" r="0.9"/><circle cx="596.0" cy="103.8" r="0.9"/><circle cx="592.5" cy="138.4" r="0.9"/><circle cx="587.3" cy="129.4" r="0.9"/><circle cx="598.9" cy="117.7" r="0.9"/><circle cx="594.4" cy="152.7" r="0.9"/><circle cx="588.9" cy="148.7" r="0.9"/><circle cx="597.2" cy="105.5" r="0.9"/><circle cx="589.6" cy="119.1" r="0.9"/><circle cx="598.6" cy="154.3" r="0.9"/><circle cx="588.3" cy="171.4" r="0.9"/><circle cx="599.2" cy="139.3" r="0.9"/><circle cx="584.5" cy="157.1" r="0.9"/><circle cx="595.3" cy="170.2" r="0.9"/><circle cx="588.2" cy="148.8" r="0.9"/><circle cx="590.3" cy="141.0" r="0.9"/><circle cx="593.7" cy="114.1" r="0.9"/><circle cx="584.2" cy="126.6" r="0.9"/><circle cx="587.1" cy="141.1" r="0.9"/><circle cx="585.2" cy="161.9" r="0.9"/><circle cx="595.3" cy="121.6" r="0.9"/><circle cx="587.0" cy="127.0" r="0.9"/><circle cx="591.5" cy="75.2" r="0.9"/><circle cx="588.8" cy="144.4" r="0.9"/><circle cx="587.3" cy="131.1" r="0.9"/><circle cx="598.5" cy="151.7" r="0.9"/><circle cx="591.6" cy="115.3" r="0.9"/><circle cx="593.9" cy="143.3" r="0.9"/><circle cx="594.8" cy="143.5" r="0.9"/><circle cx="596.6" cy="132.0" r="0.9"/><circle cx="587.7" cy="109.7" r="0.9"/><circle cx="584.8" cy="130.3" r="0.9"/><circle cx="591.0" cy="149.5" r="0.9"/><circle cx="586.2" cy="109.5" r="0.9"/><circle cx="583.8" cy="97.9" r="0.9"/><circle cx="598.2" cy="132.0" r="0.9"/><circle cx="593.5" cy="114.6" r="0.9"/><circle cx="590.1" cy="152.3" r="0.9"/><circle cx="585.7" cy="152.6" r="0.9"/><circle cx="595.7" cy="164.8" r="0.9"/><circle cx="592.0" cy="155.5" r="0.9"/><circle cx="586.3" cy="141.7" r="0.9"/><circle cx="599.2" cy="109.5" r="0.9"/><circle cx="598.7" cy="153.9" r="0.9"/><circle cx="598.3" cy="147.0" r="0.9"/><circle cx="596.7" cy="149.3" r="0.9"/><circle cx="592.0" cy="144.1" r="0.9"/><circle cx="588.3" cy="153.8" r="0.9"/><circle cx="593.9" cy="121.9" r="0.9"/><circle cx="585.9" cy="142.7" r="0.9"/><circle cx="593.4" cy="134.9" r="0.9"/><circle cx="584.6" cy="123.3" r="0.9"/><circle cx="583.7" cy="120.7" r="0.9"/><circle cx="594.9" cy="105.3" r="0.9"/><circle cx="589.0" cy="133.0" r="0.9"/><circle cx="594.7" cy="124.2" r="0.9"/><circle cx="596.0" cy="129.6" r="0.9"/><circle cx="596.9" cy="154.2" r="0.9"/><circle cx="593.4" cy="145.0" r="0.9"/><circle cx="597.0" cy="144.1" r="0.9"/><circle cx="594.0" cy="168.5" r="0.9"/><circle cx="598.3" cy="115.0" r="0.9"/><circle cx="597.8" cy="135.0" r="0.9"/><circle cx="584.2" cy="98.4" r="0.9"/><circle cx="587.8" cy="126.8" r="0.9"/><circle cx="589.7" cy="164.3" r="0.9"/><circle cx="587.5" cy="97.8" r="0.9"/><circle cx="586.3" cy="147.3" r="0.9"/><circle cx="597.5" cy="156.1" r="0.9"/><circle cx="583.9" cy="135.7" r="0.9"/><circle cx="586.4" cy="149.9" r="0.9"/><circle cx="595.7" cy="131.8" r="0.9"/><circle cx="587.1" cy="123.9" r="0.9"/><circle cx="587.6" cy="132.7" r="0.9"/><circle cx="599.0" cy="111.8" r="0.9"/><circle cx="595.7" cy="121.7" r="0.9"/><circle cx="590.7" cy="121.1" r="0.9"/><circle cx="585.7" cy="171.9" r="0.9"/><circle cx="587.8" cy="122.6" r="0.9"/><circle cx="599.2" cy="114.3" r="0.9"/><circle cx="596.2" cy="163.3" r="0.9"/><circle cx="584.6" cy="105.9" r="0.9"/><circle cx="594.8" cy="166.2" r="0.9"/><circle cx="589.5" cy="154.8" r="0.9"/><circle cx="595.0" cy="141.2" r="0.9"/><circle cx="588.2" cy="130.5" r="0.9"/><circle cx="585.6" cy="111.2" r="0.9"/><circle cx="583.8" cy="101.0" r="0.9"/><circle cx="588.2" cy="100.8" r="0.9"/><circle cx="597.3" cy="124.6" r="0.9"/><circle cx="597.8" cy="130.1" r="0.9"/><circle cx="594.4" cy="159.5" r="0.9"/><circle cx="595.5" cy="137.6" r="0.9"/><circle cx="586.6" cy="170.5" r="0.9"/><circle cx="589.2" cy="147.2" r="0.9"/><circle cx="597.9" cy="105.5" r="0.9"/><circle cx="599.3" cy="136.7" r="0.9"/><circle cx="590.6" cy="108.8" r="0.9"/><circle cx="595.5" cy="82.1" r="0.9"/><circle cx="598.4" cy="161.8" r="0.9"/><circle cx="599.5" cy="123.8" r="0.9"/><circle cx="588.2" cy="112.1" r="0.9"/><circle cx="594.0" cy="99.0" r="0.9"/><circle cx="589.7" cy="144.2" r="0.9"/><circle cx="590.9" cy="131.1" r="0.9"/><circle cx="591.1" cy="63.7" r="0.9"/><circle cx="588.0" cy="146.6" r="0.9"/><circle cx="583.8" cy="117.9" r="0.9"/><circle cx="595.8" cy="150.9" r="0.9"/><circle cx="594.6" cy="134.8" r="0.9"/><circle cx="596.9" cy="136.0" r="0.9"/><circle cx="586.0" cy="132.7" r="0.9"/><circle cx="587.3" cy="143.6" r="0.9"/><circle cx="593.0" cy="170.2" r="0.9"/><circle cx="598.5" cy="152.1" r="0.9"/><circle cx="591.0" cy="94.6" r="0.9"/><circle cx="586.7" cy="133.5" r="0.9"/><circle cx="593.0" cy="117.2" r="0.9"/><circle cx="598.8" cy="98.5" r="0.9"/><circle cx="597.4" cy="109.9" r="0.9"/><circle cx="597.9" cy="116.7" r="0.9"/><circle cx="590.1" cy="165.1" r="0.9"/><circle cx="587.7" cy="148.3" r="0.9"/><circle cx="597.4" cy="154.5" r="0.9"/><circle cx="596.1" cy="143.7" r="0.9"/><circle cx="597.1" cy="123.1" r="0.9"/><circle cx="589.8" cy="127.9" r="0.9"/><circle cx="588.1" cy="129.2" r="0.9"/><circle cx="587.3" cy="119.9" r="0.9"/><circle cx="597.4" cy="129.7" r="0.9"/><circle cx="598.2" cy="151.0" r="0.9"/><circle cx="589.4" cy="96.1" r="0.9"/><circle cx="597.5" cy="119.1" r="0.9"/><circle cx="589.6" cy="133.1" r="0.9"/><circle cx="590.7" cy="143.0" r="0.9"/><circle cx="592.6" cy="140.5" r="0.9"/><circle cx="587.0" cy="146.4" r="0.9"/><circle cx="587.8" cy="98.9" r="0.9"/><circle cx="587.8" cy="108.3" r="0.9"/><circle cx="587.7" cy="120.3" r="0.9"/><circle cx="591.7" cy="117.6" r="0.9"/><circle cx="585.1" cy="147.9" r="0.9"/><circle cx="595.7" cy="172.8" r="0.9"/><circle cx="586.3" cy="145.3" r="0.9"/><circle cx="590.7" cy="81.9" r="0.9"/><circle cx="593.8" cy="121.9" r="0.9"/><circle cx="585.7" cy="151.7" r="0.9"/><circle cx="590.0" cy="162.2" r="0.9"/><circle cx="592.5" cy="139.8" r="0.9"/><circle cx="592.3" cy="124.8" r="0.9"/><circle cx="597.8" cy="124.8" r="0.9"/><circle cx="596.1" cy="141.7" r="0.9"/><circle cx="585.4" cy="157.6" r="0.9"/><circle cx="596.8" cy="124.2" r="0.9"/><circle cx="592.3" cy="111.0" r="0.9"/><circle cx="593.5" cy="52.3" r="0.9"/><circle cx="586.1" cy="104.0" r="0.9"/><circle cx="591.1" cy="155.5" r="0.9"/><circle cx="594.7" cy="140.0" r="0.9"/><circle cx="596.3" cy="169.7" r="0.9"/><circle cx="596.4" cy="92.2" r="0.9"/><circle cx="587.0" cy="124.7" r="0.9"/><circle cx="596.8" cy="152.7" r="0.9"/><circle cx="592.6" cy="141.7" r="0.9"/><circle cx="594.2" cy="91.0" r="0.9"/></g>
<path d="M591.5,48.2 V119.6 M591.5,148.3 V175.4" stroke="#333" stroke-width="1"/>
<rect x="587.5" y="119.6" width="8" height="28.7" fill="none" stroke="#333" stroke-width="1.1"/>
<path d="M587.5,135.5 h8" stroke="#333" stroke-width="1.6"/>
<rect x="614.9" y="30.2" width="20.2" height="20" fill="#7389c4" stroke="#404040" stroke-width="1.1"/>
<rect x="617.1999999999999" y="35.0" width="15.6" height="10.6" fill="#7389c4" stroke="#404040" stroke-width="0.9"/>
<path d="M625.0,30.2 v4.8 M625.0,45.6 v4.6 M617.1999999999999,40.3 h15.6" stroke="#404040" stroke-width="0.9"/>
<text x="640.4" y="43.5" font-size="9.6" fill="#1a1a1a" text-anchor="start">n=356</text>
<rect x="614.9" y="53.9" width="20.2" height="20" fill="#f8ae8b" stroke="#404040" stroke-width="1.1"/>
<rect x="617.1999999999999" y="58.7" width="15.6" height="10.6" fill="#f8ae8b" stroke="#404040" stroke-width="0.9"/>
<path d="M625.0,53.9 v4.8 M625.0,69.3 v4.6 M617.1999999999999,64.0 h15.6" stroke="#404040" stroke-width="0.9"/>
<text x="641.3" y="66.5" font-size="9.6" fill="#1a1a1a" text-anchor="start">n=462</text>
<text x="538.5" y="210.6" font-size="12" fill="#1a1a1a" text-anchor="middle">non−ASD</text>
<text x="593.5" y="210.6" font-size="12" fill="#1a1a1a" text-anchor="middle">ASD</text>
<path d="M490.5,221 V393 H621" fill="none" stroke="#1a1a1a" stroke-width="1.4"/>
<path d="M487.5,267.5 H490.5" stroke="#333" stroke-width="0.8"/>
<text x="485.8" y="270.5" font-size="8.6" fill="#555" text-anchor="end">4</text>
<path d="M487.5,317 H490.5" stroke="#333" stroke-width="0.8"/>
<text x="485.8" y="320.0" font-size="8.6" fill="#555" text-anchor="end">3</text>
<path d="M487.5,366 H490.5" stroke="#333" stroke-width="0.8"/>
<text x="485.8" y="369.0" font-size="8.6" fill="#555" text-anchor="end">2</text>
<text x="477.1" y="298.6" font-size="12" fill="#1a1a1a" text-anchor="middle" transform="rotate(-90 477.1 298.6)">Shannon index</text>
<text x="564.4" y="245.8" font-size="11.7" fill="#1a1a1a" text-anchor="middle">p = 0.024</text>
<path d="M527.2,255.2 526.3,256.5 525.8,257.8 525.0,259.1 524.3,260.4 523.6,261.6 522.8,262.9 522.1,264.2 521.3,265.5 520.5,266.8 519.7,268.1 519.0,269.4 518.2,270.7 517.5,272.0 516.8,273.3 516.2,274.5 515.5,275.8 514.9,277.1 514.3,278.4 513.7,279.7 513.2,281.0 512.8,282.3 512.5,283.6 512.2,284.9 511.9,286.2 511.6,287.4 511.3,288.7 511.1,290.0 510.9,291.3 510.9,292.6 510.9,293.9 510.9,295.2 511.1,296.5 511.3,297.8 511.7,299.1 512.1,300.3 512.6,301.6 513.1,302.9 513.7,304.2 514.3,305.5 514.9,306.8 515.6,308.1 516.3,309.4 517.0,310.7 517.7,312.0 518.4,313.2 519.1,314.5 519.6,315.8 520.1,317.1 520.5,318.4 520.9,319.7 521.3,321.0 521.7,322.3 522.1,323.6 522.5,324.9 522.8,326.1 523.2,327.4 523.5,328.7 523.9,330.0 524.2,331.3 524.5,332.6 524.8,333.9 525.1,335.2 525.3,336.5 525.6,337.8 525.8,339.0 526.1,340.3 526.2,341.6 526.4,342.9 526.5,344.2 526.6,345.5 526.7,346.8 526.8,348.1 526.9,349.4 527.0,350.7 527.1,351.9 527.2,353.2 527.4,354.5 527.6,355.8 527.9,357.1 L530.9,357.1 531.2,355.8 531.4,354.5 531.6,353.2 531.7,351.9 531.8,350.7 531.9,349.4 532.0,348.1 532.1,346.8 532.2,345.5 532.3,344.2 532.4,342.9 532.6,341.6 532.7,340.3 533.0,339.0 533.2,337.8 533.5,336.5 533.7,335.2 534.0,333.9 534.3,332.6 534.6,331.3 534.9,330.0 535.3,328.7 535.6,327.4 536.0,326.1 536.3,324.9 536.7,323.6 537.1,322.3 537.5,321.0 537.9,319.7 538.3,318.4 538.7,317.1 539.2,315.8 539.7,314.5 540.4,313.2 541.1,312.0 541.8,310.7 542.5,309.4 543.2,308.1 543.9,306.8 544.5,305.5 545.1,304.2 545.7,302.9 546.2,301.6 546.7,300.3 547.1,299.1 547.5,297.8 547.7,296.5 547.9,295.2 547.9,293.9 547.9,292.6 547.9,291.3 547.7,290.0 547.5,288.7 547.2,287.4 546.9,286.2 546.6,284.9 546.3,283.6 546.0,282.3 545.6,281.0 545.1,279.7 544.5,278.4 543.9,277.1 543.3,275.8 542.6,274.5 542.0,273.3 541.3,272.0 540.6,270.7 539.8,269.4 539.1,268.1 538.3,266.8 537.5,265.5 536.7,264.2 536.0,262.9 535.2,261.6 534.5,260.4 533.8,259.1 533.0,257.8 532.5,256.5 531.6,255.2Z" fill="#7389c4" stroke="#333" stroke-width="1.25" stroke-linejoin="round"/>
<g fill="#333" fill-opacity="0.58"><circle cx="535.1" cy="320.7" r="0.9"/><circle cx="526.7" cy="289.4" r="0.9"/><circle cx="536.9" cy="330.7" r="0.9"/><circle cx="534.2" cy="324.2" r="0.9"/><circle cx="534.6" cy="314.8" r="0.9"/><circle cx="525.3" cy="288.9" r="0.9"/><circle cx="525.2" cy="296.3" r="0.9"/><circle cx="533.2" cy="276.4" r="0.9"/><circle cx="534.3" cy="312.3" r="0.9"/><circle cx="525.3" cy="327.3" r="0.9"/><circle cx="525.0" cy="275.4" r="0.9"/><circle cx="525.6" cy="311.7" r="0.9"/><circle cx="524.0" cy="306.5" r="0.9"/><circle cx="528.2" cy="263.4" r="0.9"/><circle cx="529.4" cy="332.1" r="0.9"/><circle cx="531.3" cy="293.6" r="0.9"/><circle cx="522.7" cy="282.1" r="0.9"/><circle cx="524.8" cy="262.0" r="0.9"/><circle cx="523.7" cy="312.2" r="0.9"/><circle cx="526.0" cy="286.2" r="0.9"/><circle cx="524.7" cy="295.4" r="0.9"/><circle cx="535.9" cy="276.4" r="0.9"/><circle cx="527.5" cy="302.0" r="0.9"/><circle cx="524.0" cy="291.2" r="0.9"/><circle cx="531.9" cy="317.1" r="0.9"/><circle cx="536.5" cy="303.6" r="0.9"/><circle cx="533.8" cy="307.2" r="0.9"/><circle cx="531.6" cy="281.0" r="0.9"/><circle cx="527.6" cy="266.7" r="0.9"/><circle cx="527.9" cy="324.5" r="0.9"/><circle cx="526.4" cy="335.9" r="0.9"/><circle cx="534.0" cy="303.5" r="0.9"/><circle cx="534.0" cy="331.5" r="0.9"/><circle cx="529.2" cy="308.4" r="0.9"/><circle cx="534.8" cy="301.8" r="0.9"/><circle cx="531.7" cy="291.8" r="0.9"/><circle cx="532.2" cy="288.6" r="0.9"/><circle cx="525.9" cy="296.3" r="0.9"/><circle cx="525.5" cy="280.9" r="0.9"/><circle cx="525.3" cy="292.2" r="0.9"/><circle cx="535.6" cy="294.2" r="0.9"/><circle cx="533.9" cy="261.5" r="0.9"/><circle cx="535.4" cy="290.8" r="0.9"/><circle cx="534.2" cy="283.0" r="0.9"/><circle cx="534.0" cy="303.2" r="0.9"/><circle cx="528.4" cy="316.0" r="0.9"/><circle cx="533.4" cy="300.9" r="0.9"/><circle cx="524.4" cy="304.0" r="0.9"/><circle cx="531.7" cy="300.5" r="0.9"/><circle cx="522.5" cy="280.8" r="0.9"/><circle cx="536.4" cy="288.0" r="0.9"/><circle cx="535.1" cy="320.6" r="0.9"/><circle cx="524.4" cy="337.3" r="0.9"/><circle cx="533.4" cy="276.8" r="0.9"/><circle cx="534.3" cy="258.6" r="0.9"/><circle cx="522.5" cy="341.8" r="0.9"/><circle cx="530.4" cy="321.1" r="0.9"/><circle cx="528.2" cy="300.9" r="0.9"/><circle cx="531.2" cy="317.4" r="0.9"/><circle cx="535.2" cy="299.6" r="0.9"/><circle cx="532.7" cy="328.1" r="0.9"/><circle cx="525.1" cy="281.3" r="0.9"/><circle cx="530.2" cy="292.6" r="0.9"/><circle cx="530.3" cy="304.9" r="0.9"/><circle cx="522.1" cy="278.6" r="0.9"/><circle cx="523.9" cy="308.4" r="0.9"/><circle cx="527.3" cy="281.1" r="0.9"/><circle cx="524.6" cy="307.5" r="0.9"/><circle cx="525.5" cy="315.3" r="0.9"/><circle cx="532.0" cy="292.3" r="0.9"/><circle cx="536.2" cy="350.8" r="0.9"/><circle cx="528.8" cy="302.5" r="0.9"/><circle cx="531.6" cy="311.2" r="0.9"/><circle cx="533.3" cy="260.9" r="0.9"/><circle cx="532.0" cy="272.8" r="0.9"/><circle cx="531.8" cy="306.9" r="0.9"/><circle cx="521.9" cy="337.4" r="0.9"/><circle cx="534.9" cy="303.4" r="0.9"/><circle cx="524.3" cy="329.3" r="0.9"/><circle cx="524.6" cy="266.6" r="0.9"/><circle cx="529.5" cy="325.6" r="0.9"/><circle cx="530.7" cy="325.6" r="0.9"/><circle cx="533.2" cy="301.8" r="0.9"/><circle cx="526.3" cy="291.2" r="0.9"/><circle cx="536.1" cy="306.8" r="0.9"/><circle cx="531.3" cy="282.0" r="0.9"/><circle cx="534.6" cy="306.4" r="0.9"/><circle cx="529.1" cy="306.9" r="0.9"/><circle cx="523.0" cy="296.6" r="0.9"/><circle cx="522.1" cy="282.1" r="0.9"/><circle cx="531.4" cy="254.9" r="0.9"/><circle cx="528.3" cy="278.4" r="0.9"/><circle cx="528.5" cy="318.9" r="0.9"/><circle cx="526.8" cy="278.2" r="0.9"/><circle cx="524.6" cy="267.7" r="0.9"/><circle cx="529.0" cy="281.7" r="0.9"/><circle cx="525.7" cy="295.4" r="0.9"/><circle cx="535.3" cy="301.2" r="0.9"/><circle cx="524.6" cy="325.3" r="0.9"/><circle cx="536.4" cy="320.8" r="0.9"/><circle cx="534.8" cy="344.7" r="0.9"/><circle cx="527.7" cy="324.6" r="0.9"/><circle cx="533.5" cy="291.7" r="0.9"/><circle cx="530.6" cy="273.0" r="0.9"/><circle cx="528.9" cy="339.2" r="0.9"/><circle cx="534.1" cy="278.6" r="0.9"/><circle cx="534.4" cy="301.5" r="0.9"/><circle cx="524.9" cy="283.1" r="0.9"/><circle cx="535.5" cy="316.3" r="0.9"/><circle cx="522.4" cy="278.4" r="0.9"/><circle cx="522.0" cy="292.6" r="0.9"/><circle cx="529.2" cy="280.6" r="0.9"/><circle cx="526.4" cy="323.3" r="0.9"/><circle cx="528.2" cy="302.1" r="0.9"/><circle cx="529.1" cy="303.2" r="0.9"/><circle cx="528.9" cy="285.1" r="0.9"/><circle cx="535.5" cy="276.1" r="0.9"/><circle cx="535.7" cy="322.2" r="0.9"/><circle cx="527.1" cy="311.6" r="0.9"/><circle cx="526.2" cy="308.7" r="0.9"/><circle cx="531.5" cy="354.7" r="0.9"/><circle cx="524.9" cy="298.7" r="0.9"/><circle cx="527.9" cy="277.8" r="0.9"/><circle cx="532.7" cy="301.8" r="0.9"/><circle cx="522.0" cy="282.7" r="0.9"/><circle cx="533.5" cy="297.3" r="0.9"/><circle cx="532.9" cy="291.4" r="0.9"/><circle cx="527.7" cy="300.2" r="0.9"/><circle cx="525.6" cy="331.7" r="0.9"/><circle cx="530.0" cy="316.0" r="0.9"/><circle cx="526.3" cy="289.8" r="0.9"/><circle cx="534.2" cy="318.0" r="0.9"/><circle cx="530.8" cy="321.0" r="0.9"/><circle cx="526.5" cy="312.0" r="0.9"/><circle cx="534.0" cy="297.8" r="0.9"/><circle cx="531.0" cy="326.9" r="0.9"/><circle cx="523.9" cy="294.9" r="0.9"/><circle cx="528.1" cy="270.8" r="0.9"/><circle cx="529.2" cy="281.1" r="0.9"/><circle cx="536.1" cy="305.5" r="0.9"/><circle cx="526.7" cy="289.2" r="0.9"/><circle cx="528.6" cy="290.3" r="0.9"/><circle cx="536.6" cy="290.6" r="0.9"/><circle cx="528.3" cy="277.2" r="0.9"/><circle cx="534.3" cy="269.9" r="0.9"/><circle cx="523.4" cy="264.8" r="0.9"/><circle cx="527.8" cy="306.8" r="0.9"/><circle cx="524.7" cy="285.2" r="0.9"/><circle cx="535.2" cy="293.9" r="0.9"/><circle cx="530.2" cy="335.1" r="0.9"/><circle cx="525.2" cy="302.2" r="0.9"/><circle cx="523.3" cy="315.5" r="0.9"/><circle cx="528.2" cy="311.6" r="0.9"/><circle cx="523.3" cy="340.1" r="0.9"/><circle cx="529.2" cy="266.9" r="0.9"/><circle cx="532.8" cy="287.6" r="0.9"/><circle cx="526.6" cy="338.3" r="0.9"/><circle cx="524.4" cy="293.9" r="0.9"/><circle cx="527.3" cy="338.6" r="0.9"/><circle cx="524.4" cy="276.0" r="0.9"/><circle cx="534.6" cy="267.8" r="0.9"/><circle cx="523.3" cy="328.4" r="0.9"/><circle cx="533.0" cy="288.8" r="0.9"/><circle cx="526.9" cy="295.1" r="0.9"/><circle cx="532.8" cy="334.2" r="0.9"/><circle cx="533.5" cy="279.8" r="0.9"/><circle cx="523.9" cy="343.1" r="0.9"/><circle cx="533.2" cy="291.0" r="0.9"/><circle cx="536.1" cy="280.2" r="0.9"/><circle cx="530.4" cy="280.1" r="0.9"/><circle cx="531.6" cy="296.9" r="0.9"/><circle cx="526.7" cy="293.4" r="0.9"/><circle cx="524.5" cy="325.4" r="0.9"/><circle cx="533.1" cy="266.6" r="0.9"/><circle cx="534.2" cy="263.0" r="0.9"/><circle cx="525.0" cy="273.9" r="0.9"/><circle cx="523.6" cy="301.2" r="0.9"/><circle cx="527.2" cy="313.5" r="0.9"/><circle cx="531.3" cy="293.6" r="0.9"/><circle cx="527.4" cy="300.6" r="0.9"/><circle cx="536.4" cy="303.1" r="0.9"/><circle cx="533.8" cy="260.9" r="0.9"/><circle cx="535.6" cy="281.5" r="0.9"/><circle cx="530.8" cy="355.8" r="0.9"/><circle cx="533.2" cy="285.7" r="0.9"/><circle cx="536.2" cy="336.5" r="0.9"/><circle cx="522.4" cy="295.3" r="0.9"/><circle cx="530.5" cy="280.0" r="0.9"/><circle cx="524.9" cy="255.0" r="0.9"/><circle cx="533.8" cy="280.9" r="0.9"/><circle cx="525.4" cy="284.1" r="0.9"/><circle cx="533.0" cy="292.1" r="0.9"/><circle cx="526.9" cy="293.2" r="0.9"/><circle cx="531.7" cy="298.8" r="0.9"/><circle cx="532.1" cy="295.0" r="0.9"/><circle cx="535.5" cy="262.3" r="0.9"/><circle cx="535.0" cy="283.4" r="0.9"/><circle cx="528.5" cy="341.4" r="0.9"/><circle cx="532.2" cy="262.1" r="0.9"/><circle cx="524.6" cy="310.5" r="0.9"/><circle cx="523.4" cy="294.1" r="0.9"/><circle cx="532.6" cy="308.3" r="0.9"/><circle cx="535.5" cy="285.0" r="0.9"/><circle cx="533.1" cy="289.0" r="0.9"/><circle cx="529.7" cy="295.8" r="0.9"/><circle cx="531.3" cy="329.7" r="0.9"/><circle cx="532.9" cy="285.8" r="0.9"/><circle cx="530.4" cy="270.6" r="0.9"/><circle cx="527.3" cy="263.3" r="0.9"/><circle cx="534.7" cy="325.4" r="0.9"/><circle cx="527.4" cy="284.0" r="0.9"/><circle cx="535.5" cy="271.5" r="0.9"/><circle cx="533.9" cy="301.3" r="0.9"/><circle cx="533.8" cy="318.7" r="0.9"/><circle cx="534.4" cy="301.5" r="0.9"/><circle cx="536.7" cy="274.4" r="0.9"/><circle cx="536.7" cy="289.7" r="0.9"/><circle cx="529.4" cy="282.3" r="0.9"/><circle cx="527.6" cy="258.9" r="0.9"/><circle cx="532.9" cy="342.8" r="0.9"/><circle cx="536.4" cy="292.4" r="0.9"/><circle cx="531.4" cy="273.8" r="0.9"/><circle cx="522.3" cy="325.6" r="0.9"/><circle cx="522.5" cy="349.8" r="0.9"/><circle cx="528.9" cy="316.9" r="0.9"/><circle cx="533.7" cy="279.9" r="0.9"/><circle cx="535.2" cy="277.0" r="0.9"/><circle cx="527.5" cy="296.5" r="0.9"/><circle cx="529.7" cy="301.1" r="0.9"/><circle cx="529.6" cy="323.8" r="0.9"/><circle cx="523.3" cy="343.9" r="0.9"/><circle cx="521.9" cy="330.7" r="0.9"/><circle cx="529.8" cy="285.7" r="0.9"/><circle cx="529.5" cy="301.2" r="0.9"/><circle cx="534.9" cy="272.5" r="0.9"/><circle cx="524.6" cy="295.3" r="0.9"/><circle cx="534.7" cy="266.5" r="0.9"/><circle cx="526.0" cy="271.4" r="0.9"/><circle cx="530.0" cy="272.0" r="0.9"/><circle cx="532.5" cy="285.3" r="0.9"/><circle cx="524.1" cy="286.1" r="0.9"/><circle cx="536.1" cy="307.2" r="0.9"/><circle cx="536.3" cy="268.2" r="0.9"/><circle cx="536.4" cy="271.6" r="0.9"/><circle cx="521.9" cy="304.0" r="0.9"/><circle cx="531.6" cy="304.2" r="0.9"/><circle cx="532.0" cy="307.5" r="0.9"/><circle cx="535.1" cy="308.3" r="0.9"/><circle cx="524.9" cy="305.4" r="0.9"/><circle cx="523.8" cy="298.0" r="0.9"/><circle cx="534.0" cy="310.1" r="0.9"/><circle cx="525.8" cy="269.4" r="0.9"/><circle cx="522.9" cy="278.2" r="0.9"/><circle cx="523.3" cy="310.0" r="0.9"/><circle cx="531.6" cy="277.3" r="0.9"/><circle cx="529.9" cy="296.1" r="0.9"/><circle cx="533.1" cy="281.3" r="0.9"/><circle cx="534.0" cy="291.9" r="0.9"/><circle cx="521.9" cy="318.9" r="0.9"/><circle cx="535.9" cy="305.4" r="0.9"/><circle cx="535.1" cy="291.7" r="0.9"/><circle cx="535.9" cy="283.3" r="0.9"/><circle cx="533.4" cy="316.6" r="0.9"/><circle cx="527.7" cy="303.6" r="0.9"/><circle cx="525.6" cy="291.3" r="0.9"/><circle cx="535.6" cy="323.9" r="0.9"/><circle cx="528.2" cy="306.3" r="0.9"/><circle cx="529.2" cy="347.1" r="0.9"/><circle cx="532.4" cy="305.1" r="0.9"/><circle cx="532.2" cy="326.6" r="0.9"/><circle cx="532.3" cy="297.7" r="0.9"/><circle cx="531.3" cy="307.9" r="0.9"/><circle cx="529.5" cy="320.7" r="0.9"/><circle cx="533.4" cy="269.5" r="0.9"/><circle cx="527.8" cy="293.7" r="0.9"/><circle cx="525.8" cy="302.9" r="0.9"/><circle cx="535.5" cy="265.1" r="0.9"/><circle cx="534.6" cy="315.1" r="0.9"/><circle cx="532.7" cy="307.4" r="0.9"/><circle cx="524.4" cy="335.8" r="0.9"/><circle cx="522.6" cy="289.4" r="0.9"/><circle cx="535.7" cy="294.7" r="0.9"/><circle cx="536.0" cy="330.0" r="0.9"/><circle cx="526.0" cy="289.3" r="0.9"/><circle cx="531.3" cy="318.7" r="0.9"/><circle cx="522.2" cy="292.4" r="0.9"/><circle cx="527.8" cy="285.7" r="0.9"/><circle cx="532.5" cy="281.0" r="0.9"/><circle cx="527.3" cy="277.6" r="0.9"/><circle cx="534.0" cy="292.4" r="0.9"/><circle cx="535.6" cy="274.6" r="0.9"/><circle cx="524.0" cy="317.3" r="0.9"/><circle cx="532.2" cy="345.7" r="0.9"/><circle cx="527.5" cy="271.7" r="0.9"/><circle cx="524.5" cy="265.2" r="0.9"/><circle cx="527.1" cy="257.0" r="0.9"/><circle cx="529.1" cy="334.4" r="0.9"/><circle cx="535.3" cy="267.9" r="0.9"/><circle cx="533.4" cy="306.1" r="0.9"/><circle cx="522.0" cy="284.8" r="0.9"/><circle cx="522.7" cy="278.5" r="0.9"/><circle cx="536.8" cy="280.5" r="0.9"/><circle cx="530.2" cy="305.5" r="0.9"/><circle cx="531.1" cy="260.6" r="0.9"/><circle cx="527.2" cy="321.7" r="0.9"/><circle cx="534.4" cy="298.5" r="0.9"/><circle cx="530.3" cy="280.7" r="0.9"/><circle cx="530.8" cy="278.1" r="0.9"/><circle cx="525.6" cy="303.2" r="0.9"/><circle cx="533.6" cy="303.3" r="0.9"/><circle cx="525.1" cy="285.0" r="0.9"/><circle cx="524.0" cy="285.0" r="0.9"/><circle cx="530.9" cy="292.2" r="0.9"/><circle cx="534.4" cy="330.3" r="0.9"/><circle cx="526.3" cy="297.2" r="0.9"/><circle cx="526.4" cy="320.9" r="0.9"/><circle cx="524.1" cy="303.7" r="0.9"/><circle cx="530.9" cy="299.1" r="0.9"/><circle cx="533.5" cy="296.3" r="0.9"/><circle cx="523.8" cy="304.3" r="0.9"/><circle cx="529.9" cy="294.5" r="0.9"/><circle cx="530.0" cy="310.4" r="0.9"/><circle cx="523.5" cy="277.2" r="0.9"/><circle cx="529.9" cy="284.0" r="0.9"/><circle cx="526.0" cy="323.7" r="0.9"/><circle cx="524.9" cy="290.6" r="0.9"/><circle cx="536.7" cy="320.0" r="0.9"/><circle cx="523.3" cy="334.0" r="0.9"/><circle cx="527.1" cy="297.9" r="0.9"/><circle cx="531.2" cy="270.4" r="0.9"/><circle cx="528.0" cy="310.7" r="0.9"/><circle cx="522.2" cy="303.1" r="0.9"/><circle cx="534.9" cy="283.9" r="0.9"/><circle cx="525.5" cy="322.1" r="0.9"/><circle cx="528.1" cy="292.8" r="0.9"/><circle cx="535.5" cy="266.5" r="0.9"/><circle cx="536.4" cy="266.5" r="0.9"/><circle cx="535.6" cy="280.7" r="0.9"/><circle cx="528.1" cy="301.9" r="0.9"/><circle cx="533.1" cy="317.4" r="0.9"/><circle cx="534.6" cy="270.5" r="0.9"/><circle cx="524.9" cy="260.8" r="0.9"/><circle cx="536.4" cy="301.0" r="0.9"/><circle cx="523.4" cy="289.4" r="0.9"/><circle cx="531.8" cy="293.6" r="0.9"/><circle cx="525.5" cy="316.3" r="0.9"/><circle cx="525.1" cy="331.0" r="0.9"/><circle cx="524.0" cy="344.8" r="0.9"/><circle cx="536.0" cy="312.8" r="0.9"/><circle cx="523.8" cy="256.1" r="0.9"/><circle cx="535.6" cy="275.6" r="0.9"/><circle cx="524.4" cy="299.6" r="0.9"/><circle cx="526.8" cy="339.7" r="0.9"/><circle cx="525.1" cy="269.1" r="0.9"/><circle cx="536.7" cy="295.9" r="0.9"/><circle cx="523.3" cy="289.6" r="0.9"/></g>
<path d="M529.4,255.2 V282.3 M529.4,308.1 V357.1" stroke="#333" stroke-width="1"/>
<rect x="518.1" y="282.3" width="22.6" height="25.8" fill="none" stroke="#333" stroke-width="1.1"/>
<path d="M518.1,295.3 h22.6" stroke="#333" stroke-width="1.6"/>
<path d="M584.5,263.4 583.6,264.8 583.0,266.1 582.2,267.5 581.5,268.8 580.7,270.2 579.8,271.5 578.9,272.9 578.0,274.2 577.1,275.6 576.1,276.9 575.2,278.3 574.3,279.6 573.6,281.0 572.9,282.3 572.3,283.7 571.7,285.1 571.1,286.4 570.6,287.8 570.2,289.1 570.0,290.5 569.8,291.8 569.7,293.2 569.6,294.5 569.6,295.9 569.6,297.2 569.7,298.6 569.9,299.9 570.2,301.3 570.5,302.6 570.8,304.0 571.2,305.3 571.6,306.7 572.0,308.1 572.5,309.4 573.0,310.8 573.5,312.1 574.0,313.5 574.5,314.8 575.0,316.2 575.6,317.5 576.1,318.9 576.7,320.2 577.2,321.6 577.7,322.9 578.2,324.3 578.7,325.6 579.2,327.0 579.7,328.4 580.1,329.7 580.6,331.1 581.0,332.4 581.4,333.8 581.8,335.1 582.2,336.5 582.5,337.8 582.9,339.2 583.3,340.5 583.6,341.9 583.9,343.2 584.2,344.6 584.4,345.9 584.5,347.3 584.7,348.6 584.9,350.0 585.0,351.4 585.2,352.7 585.4,354.1 585.6,355.4 585.7,356.8 585.9,358.1 586.0,359.5 586.1,360.8 586.1,362.2 586.2,363.5 586.3,364.9 586.3,366.2 586.4,367.6 586.4,368.9 586.5,370.3 L588.5,370.3 588.6,368.9 588.6,367.6 588.7,366.2 588.7,364.9 588.8,363.5 588.9,362.2 588.9,360.8 589.0,359.5 589.1,358.1 589.3,356.8 589.4,355.4 589.6,354.1 589.8,352.7 590.0,351.4 590.1,350.0 590.3,348.6 590.5,347.3 590.6,345.9 590.8,344.6 591.1,343.2 591.4,341.9 591.7,340.5 592.1,339.2 592.5,337.8 592.8,336.5 593.2,335.1 593.6,333.8 594.0,332.4 594.4,331.1 594.9,329.7 595.3,328.4 595.8,327.0 596.3,325.6 596.8,324.3 597.3,322.9 597.8,321.6 598.3,320.2 598.9,318.9 599.4,317.5 600.0,316.2 600.5,314.8 601.0,313.5 601.5,312.1 602.0,310.8 602.5,309.4 603.0,308.1 603.4,306.7 603.8,305.3 604.2,304.0 604.5,302.6 604.8,301.3 605.1,299.9 605.3,298.6 605.4,297.2 605.4,295.9 605.4,294.5 605.3,293.2 605.2,291.8 605.0,290.5 604.8,289.1 604.4,287.8 603.9,286.4 603.3,285.1 602.7,283.7 602.1,282.3 601.4,281.0 600.7,279.6 599.8,278.3 598.9,276.9 597.9,275.6 597.0,274.2 596.1,272.9 595.2,271.5 594.3,270.2 593.5,268.8 592.8,267.5 592.0,266.1 591.4,264.8 590.5,263.4Z" fill="#f8ae8b" stroke="#333" stroke-width="1.25" stroke-linejoin="round"/>
<g fill="#333" fill-opacity="0.58"><circle cx="584.7" cy="327.8" r="0.9"/><circle cx="594.0" cy="289.8" r="0.9"/><circle cx="588.8" cy="345.0" r="0.9"/><circle cx="588.6" cy="317.1" r="0.9"/><circle cx="583.3" cy="287.1" r="0.9"/><circle cx="589.6" cy="301.3" r="0.9"/><circle cx="585.7" cy="282.1" r="0.9"/><circle cx="588.2" cy="297.1" r="0.9"/><circle cx="586.0" cy="267.9" r="0.9"/><circle cx="581.2" cy="312.3" r="0.9"/><circle cx="593.2" cy="307.2" r="0.9"/><circle cx="590.4" cy="288.2" r="0.9"/><circle cx="594.4" cy="266.2" r="0.9"/><circle cx="584.6" cy="341.1" r="0.9"/><circle cx="584.2" cy="279.3" r="0.9"/><circle cx="582.0" cy="291.3" r="0.9"/><circle cx="584.6" cy="269.7" r="0.9"/><circle cx="584.9" cy="293.8" r="0.9"/><circle cx="582.8" cy="296.0" r="0.9"/><circle cx="584.0" cy="302.9" r="0.9"/><circle cx="584.4" cy="291.4" r="0.9"/><circle cx="592.9" cy="288.9" r="0.9"/><circle cx="586.7" cy="319.8" r="0.9"/><circle cx="592.3" cy="288.6" r="0.9"/><circle cx="580.7" cy="292.3" r="0.9"/><circle cx="582.8" cy="299.9" r="0.9"/><circle cx="594.3" cy="289.7" r="0.9"/><circle cx="580.8" cy="315.2" r="0.9"/><circle cx="581.0" cy="274.6" r="0.9"/><circle cx="587.8" cy="292.5" r="0.9"/><circle cx="584.3" cy="296.9" r="0.9"/><circle cx="582.9" cy="288.7" r="0.9"/><circle cx="589.1" cy="324.9" r="0.9"/><circle cx="589.1" cy="292.5" r="0.9"/><circle cx="582.8" cy="298.2" r="0.9"/><circle cx="588.1" cy="299.6" r="0.9"/><circle cx="586.8" cy="323.2" r="0.9"/><circle cx="592.7" cy="284.3" r="0.9"/><circle cx="581.0" cy="325.0" r="0.9"/><circle cx="583.5" cy="344.0" r="0.9"/><circle cx="588.5" cy="287.9" r="0.9"/><circle cx="580.5" cy="283.2" r="0.9"/><circle cx="592.7" cy="320.5" r="0.9"/><circle cx="594.5" cy="291.1" r="0.9"/><circle cx="584.9" cy="287.7" r="0.9"/><circle cx="591.6" cy="275.0" r="0.9"/><circle cx="583.7" cy="309.1" r="0.9"/><circle cx="594.2" cy="342.0" r="0.9"/><circle cx="583.2" cy="330.3" r="0.9"/><circle cx="580.1" cy="305.7" r="0.9"/><circle cx="581.0" cy="296.8" r="0.9"/><circle cx="586.9" cy="353.1" r="0.9"/><circle cx="580.6" cy="311.5" r="0.9"/><circle cx="594.7" cy="347.5" r="0.9"/><circle cx="589.5" cy="310.9" r="0.9"/><circle cx="588.5" cy="314.5" r="0.9"/><circle cx="589.4" cy="313.7" r="0.9"/><circle cx="586.3" cy="279.5" r="0.9"/><circle cx="593.3" cy="286.8" r="0.9"/><circle cx="590.7" cy="274.1" r="0.9"/><circle cx="586.5" cy="341.7" r="0.9"/><circle cx="584.8" cy="366.5" r="0.9"/><circle cx="582.2" cy="306.6" r="0.9"/><circle cx="584.7" cy="281.3" r="0.9"/><circle cx="585.3" cy="279.8" r="0.9"/><circle cx="581.2" cy="298.9" r="0.9"/><circle cx="593.9" cy="293.7" r="0.9"/><circle cx="583.9" cy="282.7" r="0.9"/><circle cx="588.1" cy="274.3" r="0.9"/><circle cx="581.0" cy="310.3" r="0.9"/><circle cx="588.3" cy="320.2" r="0.9"/><circle cx="589.7" cy="272.2" r="0.9"/><circle cx="581.2" cy="290.7" r="0.9"/><circle cx="594.6" cy="290.5" r="0.9"/><circle cx="582.4" cy="305.1" r="0.9"/><circle cx="583.9" cy="305.9" r="0.9"/><circle cx="591.0" cy="294.8" r="0.9"/><circle cx="585.1" cy="328.8" r="0.9"/><circle cx="593.2" cy="294.5" r="0.9"/><circle cx="583.6" cy="289.9" r="0.9"/><circle cx="584.7" cy="318.8" r="0.9"/><circle cx="590.4" cy="326.2" r="0.9"/><circle cx="592.9" cy="330.6" r="0.9"/><circle cx="593.3" cy="282.8" r="0.9"/><circle cx="584.3" cy="282.4" r="0.9"/><circle cx="588.0" cy="298.7" r="0.9"/><circle cx="586.2" cy="352.5" r="0.9"/><circle cx="590.1" cy="309.2" r="0.9"/><circle cx="583.4" cy="308.2" r="0.9"/><circle cx="592.6" cy="293.1" r="0.9"/><circle cx="590.2" cy="362.8" r="0.9"/><circle cx="582.6" cy="283.1" r="0.9"/><circle cx="584.7" cy="303.9" r="0.9"/><circle cx="585.0" cy="312.1" r="0.9"/><circle cx="594.0" cy="323.8" r="0.9"/><circle cx="586.8" cy="322.8" r="0.9"/><circle cx="589.2" cy="293.3" r="0.9"/><circle cx="594.0" cy="289.7" r="0.9"/><circle cx="586.1" cy="356.0" r="0.9"/><circle cx="594.2" cy="305.0" r="0.9"/><circle cx="584.4" cy="288.3" r="0.9"/><circle cx="580.2" cy="279.1" r="0.9"/><circle cx="581.5" cy="320.6" r="0.9"/><circle cx="590.4" cy="326.5" r="0.9"/><circle cx="585.7" cy="305.6" r="0.9"/><circle cx="592.5" cy="293.9" r="0.9"/><circle cx="588.0" cy="309.5" r="0.9"/><circle cx="590.0" cy="357.0" r="0.9"/><circle cx="585.3" cy="306.0" r="0.9"/><circle cx="588.8" cy="319.2" r="0.9"/><circle cx="590.5" cy="330.9" r="0.9"/><circle cx="585.7" cy="316.4" r="0.9"/><circle cx="587.4" cy="298.6" r="0.9"/><circle cx="592.7" cy="282.0" r="0.9"/><circle cx="593.9" cy="312.9" r="0.9"/><circle cx="585.3" cy="326.7" r="0.9"/><circle cx="581.0" cy="347.3" r="0.9"/><circle cx="592.6" cy="281.4" r="0.9"/><circle cx="586.7" cy="278.9" r="0.9"/><circle cx="594.5" cy="309.2" r="0.9"/><circle cx="591.4" cy="324.3" r="0.9"/><circle cx="585.5" cy="273.5" r="0.9"/><circle cx="592.8" cy="307.4" r="0.9"/><circle cx="588.2" cy="286.5" r="0.9"/><circle cx="590.1" cy="371.4" r="0.9"/><circle cx="593.3" cy="291.9" r="0.9"/><circle cx="588.7" cy="274.6" r="0.9"/><circle cx="594.2" cy="320.8" r="0.9"/><circle cx="586.0" cy="290.3" r="0.9"/><circle cx="585.7" cy="297.3" r="0.9"/><circle cx="589.6" cy="279.1" r="0.9"/><circle cx="586.1" cy="290.9" r="0.9"/><circle cx="590.6" cy="280.4" r="0.9"/><circle cx="588.0" cy="286.7" r="0.9"/><circle cx="591.1" cy="304.8" r="0.9"/><circle cx="592.4" cy="291.1" r="0.9"/><circle cx="588.5" cy="310.2" r="0.9"/><circle cx="593.7" cy="335.0" r="0.9"/><circle cx="591.7" cy="304.5" r="0.9"/><circle cx="592.9" cy="268.9" r="0.9"/><circle cx="580.3" cy="347.4" r="0.9"/><circle cx="580.2" cy="283.7" r="0.9"/><circle cx="589.5" cy="293.9" r="0.9"/><circle cx="585.0" cy="301.4" r="0.9"/><circle cx="593.1" cy="308.2" r="0.9"/><circle cx="585.9" cy="292.6" r="0.9"/><circle cx="591.2" cy="296.0" r="0.9"/><circle cx="583.7" cy="308.2" r="0.9"/><circle cx="589.4" cy="298.4" r="0.9"/><circle cx="593.5" cy="288.9" r="0.9"/><circle cx="592.9" cy="296.0" r="0.9"/><circle cx="585.5" cy="294.9" r="0.9"/><circle cx="587.2" cy="289.7" r="0.9"/><circle cx="588.0" cy="307.8" r="0.9"/><circle cx="585.2" cy="301.7" r="0.9"/><circle cx="587.3" cy="297.2" r="0.9"/><circle cx="594.5" cy="315.3" r="0.9"/><circle cx="593.2" cy="322.3" r="0.9"/><circle cx="584.7" cy="308.5" r="0.9"/><circle cx="590.3" cy="290.7" r="0.9"/><circle cx="594.2" cy="341.3" r="0.9"/><circle cx="585.4" cy="275.9" r="0.9"/><circle cx="592.7" cy="323.4" r="0.9"/><circle cx="592.0" cy="297.7" r="0.9"/><circle cx="593.3" cy="296.2" r="0.9"/><circle cx="581.3" cy="326.7" r="0.9"/><circle cx="593.8" cy="310.7" r="0.9"/><circle cx="594.6" cy="352.1" r="0.9"/><circle cx="583.6" cy="332.2" r="0.9"/><circle cx="589.5" cy="277.0" r="0.9"/><circle cx="581.4" cy="300.8" r="0.9"/><circle cx="589.0" cy="319.1" r="0.9"/><circle cx="590.6" cy="274.7" r="0.9"/><circle cx="591.2" cy="305.0" r="0.9"/><circle cx="592.0" cy="364.8" r="0.9"/><circle cx="584.4" cy="286.1" r="0.9"/><circle cx="581.7" cy="277.1" r="0.9"/><circle cx="592.3" cy="288.5" r="0.9"/><circle cx="580.4" cy="293.4" r="0.9"/><circle cx="583.5" cy="288.5" r="0.9"/><circle cx="583.6" cy="296.0" r="0.9"/><circle cx="591.6" cy="325.9" r="0.9"/><circle cx="586.6" cy="302.1" r="0.9"/><circle cx="592.6" cy="307.6" r="0.9"/><circle cx="590.0" cy="278.8" r="0.9"/><circle cx="592.6" cy="274.8" r="0.9"/><circle cx="591.8" cy="345.6" r="0.9"/><circle cx="593.2" cy="294.0" r="0.9"/><circle cx="584.1" cy="344.1" r="0.9"/><circle cx="585.3" cy="292.0" r="0.9"/><circle cx="589.4" cy="308.8" r="0.9"/><circle cx="588.7" cy="310.0" r="0.9"/><circle cx="591.7" cy="274.8" r="0.9"/><circle cx="592.1" cy="273.2" r="0.9"/><circle cx="584.6" cy="296.5" r="0.9"/><circle cx="581.8" cy="278.9" r="0.9"/><circle cx="591.1" cy="290.9" r="0.9"/><circle cx="590.3" cy="283.0" r="0.9"/><circle cx="584.2" cy="289.2" r="0.9"/><circle cx="580.9" cy="298.4" r="0.9"/><circle cx="580.3" cy="289.7" r="0.9"/><circle cx="583.7" cy="292.3" r="0.9"/><circle cx="584.1" cy="299.2" r="0.9"/><circle cx="583.1" cy="312.3" r="0.9"/><circle cx="580.8" cy="270.6" r="0.9"/><circle cx="583.5" cy="368.9" r="0.9"/><circle cx="585.2" cy="298.2" r="0.9"/><circle cx="581.4" cy="337.3" r="0.9"/><circle cx="583.1" cy="264.8" r="0.9"/><circle cx="586.6" cy="272.7" r="0.9"/><circle cx="592.7" cy="275.8" r="0.9"/><circle cx="593.1" cy="335.2" r="0.9"/><circle cx="586.1" cy="296.8" r="0.9"/><circle cx="581.9" cy="326.6" r="0.9"/><circle cx="584.0" cy="314.0" r="0.9"/><circle cx="590.1" cy="275.3" r="0.9"/><circle cx="586.1" cy="294.1" r="0.9"/><circle cx="588.6" cy="291.0" r="0.9"/><circle cx="591.1" cy="298.5" r="0.9"/><circle cx="589.9" cy="317.7" r="0.9"/><circle cx="592.9" cy="276.4" r="0.9"/><circle cx="581.3" cy="337.9" r="0.9"/><circle cx="584.5" cy="299.6" r="0.9"/><circle cx="580.5" cy="293.1" r="0.9"/><circle cx="587.8" cy="313.7" r="0.9"/><circle cx="589.2" cy="288.1" r="0.9"/><circle cx="583.8" cy="314.9" r="0.9"/><circle cx="580.8" cy="296.4" r="0.9"/><circle cx="587.0" cy="300.6" r="0.9"/><circle cx="582.5" cy="283.0" r="0.9"/><circle cx="582.9" cy="284.9" r="0.9"/><circle cx="585.7" cy="327.8" r="0.9"/><circle cx="594.2" cy="305.0" r="0.9"/><circle cx="585.4" cy="296.9" r="0.9"/><circle cx="590.6" cy="321.4" r="0.9"/><circle cx="585.6" cy="335.2" r="0.9"/><circle cx="586.1" cy="282.2" r="0.9"/><circle cx="583.1" cy="367.7" r="0.9"/><circle cx="582.8" cy="265.0" r="0.9"/><circle cx="591.6" cy="307.3" r="0.9"/><circle cx="586.4" cy="287.2" r="0.9"/><circle cx="584.3" cy="288.7" r="0.9"/><circle cx="594.8" cy="302.2" r="0.9"/><circle cx="593.2" cy="307.9" r="0.9"/><circle cx="584.0" cy="296.9" r="0.9"/><circle cx="586.5" cy="313.5" r="0.9"/><circle cx="588.5" cy="344.9" r="0.9"/><circle cx="582.5" cy="283.4" r="0.9"/><circle cx="586.4" cy="285.3" r="0.9"/><circle cx="584.3" cy="308.9" r="0.9"/><circle cx="592.2" cy="294.5" r="0.9"/><circle cx="581.4" cy="291.1" r="0.9"/><circle cx="594.9" cy="301.3" r="0.9"/><circle cx="583.5" cy="314.6" r="0.9"/><circle cx="585.0" cy="336.1" r="0.9"/><circle cx="581.1" cy="340.7" r="0.9"/><circle cx="593.7" cy="324.3" r="0.9"/><circle cx="592.4" cy="292.5" r="0.9"/><circle cx="581.0" cy="330.9" r="0.9"/><circle cx="587.9" cy="313.6" r="0.9"/><circle cx="585.9" cy="282.0" r="0.9"/><circle cx="589.1" cy="345.7" r="0.9"/><circle cx="585.0" cy="285.1" r="0.9"/><circle cx="594.3" cy="312.0" r="0.9"/><circle cx="583.3" cy="314.5" r="0.9"/><circle cx="592.3" cy="333.9" r="0.9"/><circle cx="584.0" cy="312.0" r="0.9"/><circle cx="589.5" cy="358.1" r="0.9"/><circle cx="586.4" cy="272.1" r="0.9"/><circle cx="587.9" cy="271.4" r="0.9"/><circle cx="587.8" cy="283.6" r="0.9"/><circle cx="589.4" cy="305.2" r="0.9"/><circle cx="581.0" cy="296.9" r="0.9"/><circle cx="580.9" cy="276.6" r="0.9"/><circle cx="594.6" cy="282.7" r="0.9"/><circle cx="583.8" cy="304.6" r="0.9"/><circle cx="585.4" cy="295.3" r="0.9"/><circle cx="583.6" cy="317.7" r="0.9"/><circle cx="589.7" cy="299.5" r="0.9"/><circle cx="594.8" cy="331.0" r="0.9"/><circle cx="586.0" cy="317.8" r="0.9"/><circle cx="584.8" cy="302.3" r="0.9"/><circle cx="585.2" cy="293.2" r="0.9"/><circle cx="580.4" cy="284.4" r="0.9"/><circle cx="581.3" cy="289.2" r="0.9"/><circle cx="580.7" cy="293.2" r="0.9"/><circle cx="584.9" cy="292.6" r="0.9"/><circle cx="594.8" cy="281.6" r="0.9"/><circle cx="582.1" cy="299.6" r="0.9"/><circle cx="588.2" cy="278.9" r="0.9"/><circle cx="583.1" cy="328.8" r="0.9"/><circle cx="580.6" cy="305.3" r="0.9"/><circle cx="592.6" cy="276.2" r="0.9"/><circle cx="581.9" cy="291.2" r="0.9"/><circle cx="582.0" cy="286.7" r="0.9"/><circle cx="592.3" cy="280.7" r="0.9"/><circle cx="583.7" cy="299.6" r="0.9"/><circle cx="583.0" cy="284.2" r="0.9"/><circle cx="594.1" cy="282.1" r="0.9"/><circle cx="582.9" cy="312.8" r="0.9"/><circle cx="592.5" cy="298.1" r="0.9"/><circle cx="584.6" cy="311.6" r="0.9"/><circle cx="588.5" cy="299.7" r="0.9"/><circle cx="584.7" cy="300.3" r="0.9"/><circle cx="585.1" cy="291.5" r="0.9"/><circle cx="594.0" cy="296.9" r="0.9"/><circle cx="593.6" cy="300.5" r="0.9"/><circle cx="582.6" cy="290.5" r="0.9"/><circle cx="590.9" cy="324.8" r="0.9"/><circle cx="582.1" cy="285.7" r="0.9"/><circle cx="584.5" cy="284.9" r="0.9"/><circle cx="581.1" cy="293.6" r="0.9"/><circle cx="589.7" cy="319.3" r="0.9"/><circle cx="590.9" cy="327.1" r="0.9"/><circle cx="591.2" cy="306.3" r="0.9"/><circle cx="591.6" cy="292.3" r="0.9"/><circle cx="585.9" cy="309.3" r="0.9"/><circle cx="582.7" cy="323.4" r="0.9"/><circle cx="580.1" cy="285.4" r="0.9"/><circle cx="586.6" cy="310.7" r="0.9"/><circle cx="594.0" cy="314.7" r="0.9"/><circle cx="586.7" cy="294.9" r="0.9"/><circle cx="589.2" cy="282.0" r="0.9"/><circle cx="593.8" cy="308.6" r="0.9"/><circle cx="592.9" cy="284.6" r="0.9"/><circle cx="591.1" cy="293.1" r="0.9"/><circle cx="588.9" cy="304.5" r="0.9"/><circle cx="583.5" cy="349.6" r="0.9"/><circle cx="591.2" cy="281.5" r="0.9"/><circle cx="586.3" cy="274.2" r="0.9"/><circle cx="590.6" cy="301.6" r="0.9"/><circle cx="583.4" cy="344.2" r="0.9"/><circle cx="594.1" cy="270.9" r="0.9"/><circle cx="582.5" cy="309.2" r="0.9"/><circle cx="591.9" cy="269.9" r="0.9"/><circle cx="593.4" cy="303.2" r="0.9"/><circle cx="582.3" cy="279.4" r="0.9"/><circle cx="593.0" cy="310.0" r="0.9"/><circle cx="589.7" cy="292.1" r="0.9"/><circle cx="589.1" cy="310.8" r="0.9"/><circle cx="583.8" cy="288.6" r="0.9"/><circle cx="584.9" cy="274.0" r="0.9"/><circle cx="583.5" cy="284.6" r="0.9"/><circle cx="586.6" cy="288.8" r="0.9"/><circle cx="589.7" cy="283.2" r="0.9"/><circle cx="590.9" cy="282.6" r="0.9"/><circle cx="590.6" cy="303.4" r="0.9"/><circle cx="585.2" cy="296.2" r="0.9"/><circle cx="585.0" cy="324.9" r="0.9"/><circle cx="591.5" cy="301.2" r="0.9"/><circle cx="594.6" cy="304.4" r="0.9"/><circle cx="583.3" cy="314.1" r="0.9"/><circle cx="586.2" cy="327.6" r="0.9"/><circle cx="584.1" cy="308.0" r="0.9"/><circle cx="594.6" cy="269.0" r="0.9"/><circle cx="580.2" cy="298.1" r="0.9"/><circle cx="593.4" cy="271.2" r="0.9"/><circle cx="591.5" cy="307.7" r="0.9"/><circle cx="585.0" cy="275.2" r="0.9"/><circle cx="590.2" cy="303.3" r="0.9"/><circle cx="585.5" cy="281.2" r="0.9"/><circle cx="589.6" cy="327.2" r="0.9"/><circle cx="586.4" cy="276.7" r="0.9"/><circle cx="593.7" cy="311.0" r="0.9"/><circle cx="586.9" cy="312.8" r="0.9"/><circle cx="592.2" cy="288.9" r="0.9"/><circle cx="588.6" cy="306.3" r="0.9"/><circle cx="585.6" cy="290.7" r="0.9"/><circle cx="594.5" cy="286.6" r="0.9"/><circle cx="582.9" cy="288.5" r="0.9"/><circle cx="593.6" cy="266.1" r="0.9"/><circle cx="594.7" cy="313.4" r="0.9"/><circle cx="592.7" cy="275.3" r="0.9"/><circle cx="589.2" cy="285.0" r="0.9"/><circle cx="589.3" cy="276.4" r="0.9"/><circle cx="593.9" cy="321.6" r="0.9"/><circle cx="586.5" cy="301.6" r="0.9"/><circle cx="592.4" cy="299.4" r="0.9"/><circle cx="591.6" cy="304.5" r="0.9"/><circle cx="592.9" cy="321.7" r="0.9"/><circle cx="586.6" cy="309.2" r="0.9"/><circle cx="589.8" cy="302.4" r="0.9"/><circle cx="581.4" cy="291.2" r="0.9"/><circle cx="581.1" cy="302.0" r="0.9"/><circle cx="582.5" cy="361.8" r="0.9"/><circle cx="591.0" cy="306.2" r="0.9"/><circle cx="585.3" cy="299.5" r="0.9"/><circle cx="593.6" cy="331.4" r="0.9"/><circle cx="581.2" cy="271.9" r="0.9"/><circle cx="582.6" cy="272.6" r="0.9"/><circle cx="592.5" cy="321.1" r="0.9"/><circle cx="586.3" cy="342.1" r="0.9"/><circle cx="583.3" cy="271.3" r="0.9"/><circle cx="591.7" cy="268.4" r="0.9"/><circle cx="583.5" cy="267.2" r="0.9"/><circle cx="594.6" cy="304.4" r="0.9"/><circle cx="584.1" cy="280.1" r="0.9"/><circle cx="592.9" cy="303.5" r="0.9"/><circle cx="587.2" cy="311.2" r="0.9"/><circle cx="594.0" cy="267.0" r="0.9"/><circle cx="584.4" cy="330.6" r="0.9"/><circle cx="593.9" cy="288.7" r="0.9"/><circle cx="584.5" cy="303.4" r="0.9"/><circle cx="586.7" cy="292.6" r="0.9"/><circle cx="589.5" cy="290.8" r="0.9"/><circle cx="588.3" cy="295.2" r="0.9"/><circle cx="590.1" cy="262.4" r="0.9"/><circle cx="590.4" cy="298.0" r="0.9"/><circle cx="584.0" cy="286.5" r="0.9"/><circle cx="580.1" cy="292.3" r="0.9"/><circle cx="590.9" cy="283.1" r="0.9"/><circle cx="589.0" cy="292.5" r="0.9"/><circle cx="588.5" cy="314.7" r="0.9"/><circle cx="587.4" cy="357.8" r="0.9"/><circle cx="593.9" cy="282.5" r="0.9"/><circle cx="584.5" cy="330.5" r="0.9"/><circle cx="593.7" cy="307.5" r="0.9"/><circle cx="582.5" cy="277.7" r="0.9"/><circle cx="590.4" cy="264.8" r="0.9"/><circle cx="594.1" cy="329.8" r="0.9"/><circle cx="582.3" cy="286.7" r="0.9"/><circle cx="591.6" cy="277.4" r="0.9"/><circle cx="584.1" cy="310.9" r="0.9"/><circle cx="580.9" cy="313.6" r="0.9"/><circle cx="586.5" cy="334.0" r="0.9"/><circle cx="590.5" cy="300.3" r="0.9"/><circle cx="584.3" cy="289.3" r="0.9"/><circle cx="594.3" cy="290.1" r="0.9"/><circle cx="580.0" cy="285.2" r="0.9"/><circle cx="584.0" cy="308.7" r="0.9"/><circle cx="585.1" cy="342.4" r="0.9"/><circle cx="585.6" cy="275.4" r="0.9"/><circle cx="584.5" cy="294.3" r="0.9"/><circle cx="580.3" cy="292.5" r="0.9"/><circle cx="583.1" cy="276.7" r="0.9"/><circle cx="583.9" cy="307.9" r="0.9"/><circle cx="589.8" cy="356.9" r="0.9"/><circle cx="585.7" cy="289.1" r="0.9"/><circle cx="590.8" cy="315.5" r="0.9"/><circle cx="586.6" cy="333.3" r="0.9"/><circle cx="585.1" cy="286.5" r="0.9"/><circle cx="582.4" cy="336.7" r="0.9"/><circle cx="583.4" cy="316.3" r="0.9"/><circle cx="593.5" cy="308.4" r="0.9"/><circle cx="586.8" cy="284.1" r="0.9"/><circle cx="584.7" cy="288.0" r="0.9"/><circle cx="583.3" cy="278.0" r="0.9"/><circle cx="593.1" cy="334.6" r="0.9"/><circle cx="590.6" cy="322.3" r="0.9"/><circle cx="590.4" cy="276.1" r="0.9"/><circle cx="592.1" cy="303.9" r="0.9"/><circle cx="583.6" cy="284.0" r="0.9"/><circle cx="591.0" cy="319.0" r="0.9"/><circle cx="581.1" cy="305.3" r="0.9"/><circle cx="590.0" cy="342.7" r="0.9"/><circle cx="584.8" cy="315.6" r="0.9"/><circle cx="589.9" cy="275.8" r="0.9"/><circle cx="583.4" cy="294.9" r="0.9"/><circle cx="585.3" cy="304.5" r="0.9"/><circle cx="590.1" cy="336.3" r="0.9"/><circle cx="594.1" cy="295.7" r="0.9"/><circle cx="585.1" cy="283.3" r="0.9"/></g>
<path d="M587.5,263.4 V287 M587.5,315.1 V370.3" stroke="#333" stroke-width="1"/>
<rect x="576.5" y="287" width="22" height="28.1" fill="none" stroke="#333" stroke-width="1.1"/>
<path d="M576.5,300.2 h22" stroke="#333" stroke-width="1.6"/>
<rect x="611.8" y="233.9" width="20.2" height="20" fill="#7389c4" stroke="#404040" stroke-width="1.1"/>
<rect x="614.0999999999999" y="238.7" width="15.6" height="10.6" fill="#7389c4" stroke="#404040" stroke-width="0.9"/>
<path d="M621.9,233.9 v4.8 M621.9,249.3 v4.6 M614.0999999999999,244.0 h15.6" stroke="#404040" stroke-width="0.9"/>
<text x="637.3" y="247.2" font-size="9.6" fill="#1a1a1a" text-anchor="start">n=356</text>
<rect x="611.8" y="257.6" width="20.2" height="20" fill="#f8ae8b" stroke="#404040" stroke-width="1.1"/>
<rect x="614.0999999999999" y="262.4" width="15.6" height="10.6" fill="#f8ae8b" stroke="#404040" stroke-width="0.9"/>
<path d="M621.9,257.6 v4.8 M621.9,273.0 v4.6 M614.0999999999999,267.7 h15.6" stroke="#404040" stroke-width="0.9"/>
<text x="638.2" y="270.2" font-size="9.6" fill="#1a1a1a" text-anchor="start">n=462</text>
<text x="529.3" y="406.0" font-size="12" fill="#1a1a1a" text-anchor="middle">non−ASD</text>
<text x="591.9" y="406.0" font-size="12" fill="#1a1a1a" text-anchor="middle">ASD</text>
<text x="0.8" y="432.3" font-size="23.8" fill="#1a1a1a" font-weight="bold" text-anchor="start">C</text>
<path d="M63.8,435.3 V580 M103.9,435.3 V580 M144.1,435.3 V580 M184.1,435.3 V580 M37.7,554.2 H192.7 M37.7,514.4 H192.7 M37.7,474.6 H192.7 " stroke="#f2f2f2" stroke-width="0.7"/>
<path d="M43.8,435.3 V580 M83.9,435.3 V580 M124.0,435.3 V580 M164.1,435.3 V580 M37.7,574.1 H192.7 M37.7,534.3 H192.7 M37.7,494.5 H192.7 M37.7,454.7 H192.7 " stroke="#e6e6e6" stroke-width="1.1"/>
<g fill="#f7a34c" fill-opacity="0.85"><circle cx="136.4" cy="526.1" r="1.75"/><circle cx="124.5" cy="545.0" r="1.75"/><circle cx="120.2" cy="525.3" r="1.75"/><circle cx="86.8" cy="549.9" r="1.75"/><circle cx="97.5" cy="466.6" r="1.75"/><circle cx="135.1" cy="524.2" r="1.75"/><circle cx="117.3" cy="519.1" r="1.75"/><circle cx="168.8" cy="511.2" r="1.75"/><circle cx="103.0" cy="499.6" r="1.75"/><circle cx="103.0" cy="522.7" r="1.75"/><circle cx="121.4" cy="539.4" r="1.75"/><circle cx="124.6" cy="546.8" r="1.75"/><circle cx="115.1" cy="497.4" r="1.75"/><circle cx="88.3" cy="512.3" r="1.75"/><circle cx="158.1" cy="478.6" r="1.75"/><circle cx="93.1" cy="551.8" r="1.75"/><circle cx="134.5" cy="545.3" r="1.75"/><circle cx="104.5" cy="519.5" r="1.75"/><circle cx="77.1" cy="538.5" r="1.75"/><circle cx="155.7" cy="553.8" r="1.75"/><circle cx="87.5" cy="505.2" r="1.75"/><circle cx="126.2" cy="545.6" r="1.75"/><circle cx="102.4" cy="559.4" r="1.75"/><circle cx="135.8" cy="532.0" r="1.75"/><circle cx="110.2" cy="557.1" r="1.75"/><circle cx="99.6" cy="526.4" r="1.75"/><circle cx="178.3" cy="542.8" r="1.75"/><circle cx="106.6" cy="515.3" r="1.75"/><circle cx="108.5" cy="543.8" r="1.75"/><circle cx="80.7" cy="551.9" r="1.75"/><circle cx="90.8" cy="530.8" r="1.75"/><circle cx="132.8" cy="560.7" r="1.75"/><circle cx="130.3" cy="547.1" r="1.75"/><circle cx="113.4" cy="545.2" r="1.75"/><circle cx="92.2" cy="528.9" r="1.75"/><circle cx="134.0" cy="547.3" r="1.75"/><circle cx="62.1" cy="515.7" r="1.75"/><circle cx="103.1" cy="518.3" r="1.75"/><circle cx="105.8" cy="518.2" r="1.75"/><circle cx="87.9" cy="548.0" r="1.75"/><circle cx="118.0" cy="535.3" r="1.75"/><circle cx="93.3" cy="529.9" r="1.75"/><circle cx="89.3" cy="538.0" r="1.75"/><circle cx="167.7" cy="536.3" r="1.75"/><circle cx="135.8" cy="553.4" r="1.75"/><circle cx="149.6" cy="528.2" r="1.75"/><circle cx="115.1" cy="563.4" r="1.75"/><circle cx="142.5" cy="527.3" r="1.75"/><circle cx="137.0" cy="506.5" r="1.75"/><circle cx="150.1" cy="565.1" r="1.75"/><circle cx="184.8" cy="510.3" r="1.75"/><circle cx="106.8" cy="513.9" r="1.75"/><circle cx="121.4" cy="541.3" r="1.75"/><circle cx="112.1" cy="545.7" r="1.75"/><circle cx="71.7" cy="519.3" r="1.75"/><circle cx="114.3" cy="488.1" r="1.75"/><circle cx="132.8" cy="518.8" r="1.75"/><circle cx="96.4" cy="560.4" r="1.75"/><circle cx="147.9" cy="556.8" r="1.75"/><circle cx="152.4" cy="539.4" r="1.75"/><circle cx="101.3" cy="468.4" r="1.75"/><circle cx="156.6" cy="558.5" r="1.75"/><circle cx="166.5" cy="525.5" r="1.75"/><circle cx="127.8" cy="539.1" r="1.75"/><circle cx="84.3" cy="511.1" r="1.75"/><circle cx="158.0" cy="509.4" r="1.75"/><circle cx="108.9" cy="533.0" r="1.75"/><circle cx="102.5" cy="465.0" r="1.75"/><circle cx="117.4" cy="539.6" r="1.75"/><circle cx="97.7" cy="486.6" r="1.75"/><circle cx="146.2" cy="534.5" r="1.75"/><circle cx="137.3" cy="554.6" r="1.75"/><circle cx="150.6" cy="561.7" r="1.75"/><circle cx="131.4" cy="517.2" r="1.75"/><circle cx="90.1" cy="532.8" r="1.75"/><circle cx="109.2" cy="550.8" r="1.75"/><circle cx="140.3" cy="551.6" r="1.75"/><circle cx="101.7" cy="556.5" r="1.75"/><circle cx="106.7" cy="499.1" r="1.75"/><circle cx="96.3" cy="538.2" r="1.75"/><circle cx="148.5" cy="537.1" r="1.75"/><circle cx="136.5" cy="532.1" r="1.75"/><circle cx="113.1" cy="539.0" r="1.75"/><circle cx="107.1" cy="527.7" r="1.75"/><circle cx="126.8" cy="537.9" r="1.75"/><circle cx="139.1" cy="501.9" r="1.75"/><circle cx="136.9" cy="539.0" r="1.75"/><circle cx="104.9" cy="530.1" r="1.75"/><circle cx="127.0" cy="551.2" r="1.75"/><circle cx="139.4" cy="508.1" r="1.75"/><circle cx="137.0" cy="560.0" r="1.75"/><circle cx="87.2" cy="536.9" r="1.75"/><circle cx="90.6" cy="574.1" r="1.75"/><circle cx="107.0" cy="524.3" r="1.75"/><circle cx="119.4" cy="545.2" r="1.75"/><circle cx="141.7" cy="548.2" r="1.75"/><circle cx="132.6" cy="540.2" r="1.75"/><circle cx="110.2" cy="528.8" r="1.75"/><circle cx="114.7" cy="559.7" r="1.75"/><circle cx="166.9" cy="513.0" r="1.75"/><circle cx="95.5" cy="544.3" r="1.75"/><circle cx="123.1" cy="524.1" r="1.75"/><circle cx="161.1" cy="537.3" r="1.75"/><circle cx="124.4" cy="552.8" r="1.75"/><circle cx="52.5" cy="490.2" r="1.75"/><circle cx="125.3" cy="534.7" r="1.75"/><circle cx="102.3" cy="557.4" r="1.75"/><circle cx="110.6" cy="522.9" r="1.75"/><circle cx="145.6" cy="487.6" r="1.75"/><circle cx="128.1" cy="515.6" r="1.75"/><circle cx="106.0" cy="525.1" r="1.75"/><circle cx="140.8" cy="504.6" r="1.75"/><circle cx="127.1" cy="537.8" r="1.75"/><circle cx="117.1" cy="508.3" r="1.75"/><circle cx="123.0" cy="551.5" r="1.75"/><circle cx="121.6" cy="541.6" r="1.75"/><circle cx="103.8" cy="523.5" r="1.75"/><circle cx="100.2" cy="502.0" r="1.75"/><circle cx="114.7" cy="571.7" r="1.75"/><circle cx="85.3" cy="505.2" r="1.75"/><circle cx="76.1" cy="549.7" r="1.75"/><circle cx="153.1" cy="516.8" r="1.75"/><circle cx="106.8" cy="534.1" r="1.75"/><circle cx="113.3" cy="517.9" r="1.75"/><circle cx="109.9" cy="516.8" r="1.75"/><circle cx="114.7" cy="564.6" r="1.75"/><circle cx="114.7" cy="521.8" r="1.75"/><circle cx="115.9" cy="504.4" r="1.75"/><circle cx="89.8" cy="537.3" r="1.75"/><circle cx="142.0" cy="476.2" r="1.75"/><circle cx="93.2" cy="541.2" r="1.75"/><circle cx="145.1" cy="539.3" r="1.75"/><circle cx="56.3" cy="506.8" r="1.75"/><circle cx="82.0" cy="522.1" r="1.75"/><circle cx="143.8" cy="539.8" r="1.75"/><circle cx="109.5" cy="564.5" r="1.75"/><circle cx="93.8" cy="504.5" r="1.75"/><circle cx="125.3" cy="507.4" r="1.75"/><circle cx="82.5" cy="550.3" r="1.75"/><circle cx="116.3" cy="508.5" r="1.75"/><circle cx="47.4" cy="512.0" r="1.75"/><circle cx="100.4" cy="542.1" r="1.75"/><circle cx="94.4" cy="547.9" r="1.75"/><circle cx="130.2" cy="533.7" r="1.75"/><circle cx="140.3" cy="571.3" r="1.75"/><circle cx="88.3" cy="547.9" r="1.75"/><circle cx="162.4" cy="536.3" r="1.75"/><circle cx="96.2" cy="484.5" r="1.75"/><circle cx="52.1" cy="508.6" r="1.75"/><circle cx="160.3" cy="553.2" r="1.75"/><circle cx="111.3" cy="494.9" r="1.75"/><circle cx="94.5" cy="497.3" r="1.75"/><circle cx="91.5" cy="535.9" r="1.75"/><circle cx="81.1" cy="532.7" r="1.75"/><circle cx="154.6" cy="530.8" r="1.75"/><circle cx="111.5" cy="553.1" r="1.75"/><circle cx="167.8" cy="555.8" r="1.75"/><circle cx="108.0" cy="539.7" r="1.75"/><circle cx="139.4" cy="520.4" r="1.75"/><circle cx="102.9" cy="542.7" r="1.75"/><circle cx="106.8" cy="521.4" r="1.75"/><circle cx="161.1" cy="508.1" r="1.75"/><circle cx="106.1" cy="560.7" r="1.75"/><circle cx="148.9" cy="532.6" r="1.75"/><circle cx="113.8" cy="524.9" r="1.75"/><circle cx="91.4" cy="561.8" r="1.75"/><circle cx="129.2" cy="544.5" r="1.75"/><circle cx="95.9" cy="535.1" r="1.75"/><circle cx="150.9" cy="496.9" r="1.75"/><circle cx="142.8" cy="529.7" r="1.75"/><circle cx="115.9" cy="548.0" r="1.75"/><circle cx="132.3" cy="541.6" r="1.75"/><circle cx="131.0" cy="552.5" r="1.75"/><circle cx="105.7" cy="530.0" r="1.75"/><circle cx="140.9" cy="504.4" r="1.75"/><circle cx="107.1" cy="542.5" r="1.75"/><circle cx="132.5" cy="555.3" r="1.75"/><circle cx="85.4" cy="555.8" r="1.75"/><circle cx="117.0" cy="505.0" r="1.75"/><circle cx="126.5" cy="518.8" r="1.75"/><circle cx="90.3" cy="528.0" r="1.75"/><circle cx="101.5" cy="508.3" r="1.75"/><circle cx="98.0" cy="535.8" r="1.75"/><circle cx="135.9" cy="498.1" r="1.75"/><circle cx="92.4" cy="523.8" r="1.75"/><circle cx="127.3" cy="541.2" r="1.75"/><circle cx="160.0" cy="564.4" r="1.75"/><circle cx="124.8" cy="543.3" r="1.75"/><circle cx="65.6" cy="519.3" r="1.75"/><circle cx="117.9" cy="518.0" r="1.75"/><circle cx="145.5" cy="520.7" r="1.75"/><circle cx="105.6" cy="550.8" r="1.75"/><circle cx="147.5" cy="521.5" r="1.75"/><circle cx="132.8" cy="536.8" r="1.75"/><circle cx="126.9" cy="528.5" r="1.75"/><circle cx="106.3" cy="552.5" r="1.75"/><circle cx="98.8" cy="550.6" r="1.75"/><circle cx="106.5" cy="520.2" r="1.75"/><circle cx="116.1" cy="492.7" r="1.75"/><circle cx="130.0" cy="562.6" r="1.75"/><circle cx="126.9" cy="556.9" r="1.75"/><circle cx="105.2" cy="524.9" r="1.75"/><circle cx="116.2" cy="505.6" r="1.75"/><circle cx="125.9" cy="537.7" r="1.75"/><circle cx="65.4" cy="526.3" r="1.75"/><circle cx="91.2" cy="539.9" r="1.75"/><circle cx="90.3" cy="531.7" r="1.75"/><circle cx="108.2" cy="540.6" r="1.75"/><circle cx="106.1" cy="519.3" r="1.75"/><circle cx="106.6" cy="508.6" r="1.75"/><circle cx="88.1" cy="529.9" r="1.75"/><circle cx="134.6" cy="543.6" r="1.75"/><circle cx="122.7" cy="516.6" r="1.75"/><circle cx="65.0" cy="522.9" r="1.75"/><circle cx="114.8" cy="489.9" r="1.75"/><circle cx="80.5" cy="537.0" r="1.75"/><circle cx="165.6" cy="513.7" r="1.75"/><circle cx="100.7" cy="514.3" r="1.75"/><circle cx="102.6" cy="534.2" r="1.75"/><circle cx="117.0" cy="540.9" r="1.75"/><circle cx="108.4" cy="523.9" r="1.75"/><circle cx="112.7" cy="531.7" r="1.75"/><circle cx="161.0" cy="541.2" r="1.75"/><circle cx="121.3" cy="527.6" r="1.75"/><circle cx="139.6" cy="559.9" r="1.75"/><circle cx="148.4" cy="528.7" r="1.75"/><circle cx="85.2" cy="504.7" r="1.75"/><circle cx="165.3" cy="528.3" r="1.75"/><circle cx="135.2" cy="544.2" r="1.75"/><circle cx="143.3" cy="482.8" r="1.75"/><circle cx="88.5" cy="536.6" r="1.75"/><circle cx="139.1" cy="556.4" r="1.75"/><circle cx="126.9" cy="553.1" r="1.75"/><circle cx="98.4" cy="506.5" r="1.75"/><circle cx="183.2" cy="532.6" r="1.75"/><circle cx="131.6" cy="527.4" r="1.75"/><circle cx="107.3" cy="512.3" r="1.75"/><circle cx="120.4" cy="542.6" r="1.75"/><circle cx="141.9" cy="546.2" r="1.75"/><circle cx="148.5" cy="510.4" r="1.75"/><circle cx="132.0" cy="482.0" r="1.75"/><circle cx="151.2" cy="494.2" r="1.75"/><circle cx="158.8" cy="494.3" r="1.75"/><circle cx="77.4" cy="505.5" r="1.75"/><circle cx="99.9" cy="530.8" r="1.75"/><circle cx="86.3" cy="549.7" r="1.75"/><circle cx="117.5" cy="540.9" r="1.75"/><circle cx="158.0" cy="535.4" r="1.75"/><circle cx="134.2" cy="519.4" r="1.75"/><circle cx="83.1" cy="537.8" r="1.75"/><circle cx="105.7" cy="560.3" r="1.75"/><circle cx="145.5" cy="571.0" r="1.75"/><circle cx="98.6" cy="545.1" r="1.75"/><circle cx="111.7" cy="484.3" r="1.75"/><circle cx="123.7" cy="500.2" r="1.75"/><circle cx="59.8" cy="502.0" r="1.75"/><circle cx="138.0" cy="505.7" r="1.75"/><circle cx="124.9" cy="532.7" r="1.75"/><circle cx="131.7" cy="555.5" r="1.75"/><circle cx="85.1" cy="486.2" r="1.75"/><circle cx="91.5" cy="515.6" r="1.75"/><circle cx="96.6" cy="524.1" r="1.75"/><circle cx="122.1" cy="544.3" r="1.75"/><circle cx="116.7" cy="570.7" r="1.75"/><circle cx="118.4" cy="528.6" r="1.75"/><circle cx="168.5" cy="503.5" r="1.75"/><circle cx="153.8" cy="529.7" r="1.75"/><circle cx="93.0" cy="552.7" r="1.75"/><circle cx="94.9" cy="547.9" r="1.75"/><circle cx="166.2" cy="515.2" r="1.75"/><circle cx="105.0" cy="506.5" r="1.75"/><circle cx="156.0" cy="547.3" r="1.75"/><circle cx="162.7" cy="551.6" r="1.75"/><circle cx="98.3" cy="493.7" r="1.75"/><circle cx="106.5" cy="533.3" r="1.75"/><circle cx="117.1" cy="538.3" r="1.75"/><circle cx="88.6" cy="529.7" r="1.75"/><circle cx="85.2" cy="518.6" r="1.75"/><circle cx="102.5" cy="529.2" r="1.75"/><circle cx="140.2" cy="526.4" r="1.75"/><circle cx="101.1" cy="542.2" r="1.75"/><circle cx="108.4" cy="534.3" r="1.75"/><circle cx="100.6" cy="539.4" r="1.75"/><circle cx="73.5" cy="506.3" r="1.75"/><circle cx="159.2" cy="496.0" r="1.75"/><circle cx="44.1" cy="500.6" r="1.75"/><circle cx="94.9" cy="495.4" r="1.75"/><circle cx="131.4" cy="527.2" r="1.75"/><circle cx="72.6" cy="515.9" r="1.75"/><circle cx="132.8" cy="548.7" r="1.75"/><circle cx="152.2" cy="522.3" r="1.75"/><circle cx="88.7" cy="545.8" r="1.75"/><circle cx="120.8" cy="510.2" r="1.75"/><circle cx="81.2" cy="533.0" r="1.75"/><circle cx="129.8" cy="557.1" r="1.75"/><circle cx="117.2" cy="541.4" r="1.75"/><circle cx="121.0" cy="527.0" r="1.75"/><circle cx="155.6" cy="546.0" r="1.75"/><circle cx="128.7" cy="485.0" r="1.75"/><circle cx="155.0" cy="549.7" r="1.75"/><circle cx="133.6" cy="559.8" r="1.75"/><circle cx="78.5" cy="526.6" r="1.75"/><circle cx="122.4" cy="496.0" r="1.75"/><circle cx="129.3" cy="536.0" r="1.75"/><circle cx="71.1" cy="526.2" r="1.75"/><circle cx="154.7" cy="504.5" r="1.75"/><circle cx="116.6" cy="563.0" r="1.75"/><circle cx="125.6" cy="514.6" r="1.75"/><circle cx="87.6" cy="507.1" r="1.75"/><circle cx="116.7" cy="525.8" r="1.75"/><circle cx="123.6" cy="561.3" r="1.75"/><circle cx="104.7" cy="524.7" r="1.75"/><circle cx="117.0" cy="504.3" r="1.75"/><circle cx="50.8" cy="458.4" r="1.75"/><circle cx="155.5" cy="530.6" r="1.75"/><circle cx="81.0" cy="497.6" r="1.75"/><circle cx="48.9" cy="508.2" r="1.75"/><circle cx="85.7" cy="538.3" r="1.75"/><circle cx="89.4" cy="561.7" r="1.75"/><circle cx="130.9" cy="509.0" r="1.75"/><circle cx="87.1" cy="526.7" r="1.75"/><circle cx="123.1" cy="477.8" r="1.75"/><circle cx="85.7" cy="536.1" r="1.75"/><circle cx="180.9" cy="563.6" r="1.75"/><circle cx="130.9" cy="543.1" r="1.75"/><circle cx="173.4" cy="518.9" r="1.75"/><circle cx="84.0" cy="534.1" r="1.75"/><circle cx="134.5" cy="510.8" r="1.75"/><circle cx="85.8" cy="511.3" r="1.75"/><circle cx="131.9" cy="556.8" r="1.75"/><circle cx="134.9" cy="542.4" r="1.75"/><circle cx="66.5" cy="550.7" r="1.75"/><circle cx="80.3" cy="531.1" r="1.75"/><circle cx="79.4" cy="524.6" r="1.75"/><circle cx="69.3" cy="521.9" r="1.75"/><circle cx="92.5" cy="507.9" r="1.75"/><circle cx="85.6" cy="532.5" r="1.75"/><circle cx="71.0" cy="521.6" r="1.75"/><circle cx="117.4" cy="485.8" r="1.75"/><circle cx="130.8" cy="539.8" r="1.75"/><circle cx="74.9" cy="534.5" r="1.75"/><circle cx="97.7" cy="543.3" r="1.75"/><circle cx="114.6" cy="513.3" r="1.75"/><circle cx="107.4" cy="509.4" r="1.75"/><circle cx="93.3" cy="532.8" r="1.75"/><circle cx="138.7" cy="538.0" r="1.75"/><circle cx="139.8" cy="531.6" r="1.75"/><circle cx="134.8" cy="550.1" r="1.75"/><circle cx="108.1" cy="535.4" r="1.75"/><circle cx="174.1" cy="547.9" r="1.75"/><circle cx="166.7" cy="560.3" r="1.75"/><circle cx="102.2" cy="542.7" r="1.75"/><circle cx="110.7" cy="496.4" r="1.75"/><circle cx="150.1" cy="523.2" r="1.75"/><circle cx="90.3" cy="535.5" r="1.75"/><circle cx="126.3" cy="533.4" r="1.75"/><circle cx="115.7" cy="521.7" r="1.75"/><circle cx="93.1" cy="533.0" r="1.75"/><circle cx="107.3" cy="531.6" r="1.75"/><circle cx="67.0" cy="522.8" r="1.75"/><circle cx="98.0" cy="552.8" r="1.75"/><circle cx="54.3" cy="522.9" r="1.75"/><circle cx="182.8" cy="517.4" r="1.75"/><circle cx="159.5" cy="490.9" r="1.75"/><circle cx="151.2" cy="550.5" r="1.75"/><circle cx="123.3" cy="534.3" r="1.75"/><circle cx="144.3" cy="552.2" r="1.75"/><circle cx="152.5" cy="494.5" r="1.75"/><circle cx="144.8" cy="532.5" r="1.75"/><circle cx="141.8" cy="530.2" r="1.75"/><circle cx="86.8" cy="538.5" r="1.75"/><circle cx="127.1" cy="513.6" r="1.75"/><circle cx="98.1" cy="481.2" r="1.75"/><circle cx="78.7" cy="512.0" r="1.75"/><circle cx="79.8" cy="519.8" r="1.75"/><circle cx="127.0" cy="518.3" r="1.75"/><circle cx="145.8" cy="502.7" r="1.75"/><circle cx="73.0" cy="477.5" r="1.75"/><circle cx="166.6" cy="519.7" r="1.75"/><circle cx="158.3" cy="532.3" r="1.75"/><circle cx="102.7" cy="514.5" r="1.75"/><circle cx="100.2" cy="544.9" r="1.75"/><circle cx="111.9" cy="543.5" r="1.75"/><circle cx="143.6" cy="547.3" r="1.75"/><circle cx="102.6" cy="530.7" r="1.75"/><circle cx="80.8" cy="534.3" r="1.75"/><circle cx="124.4" cy="533.4" r="1.75"/><circle cx="51.9" cy="524.9" r="1.75"/><circle cx="118.3" cy="526.3" r="1.75"/><circle cx="148.9" cy="571.8" r="1.75"/><circle cx="123.2" cy="497.6" r="1.75"/><circle cx="137.5" cy="497.8" r="1.75"/><circle cx="128.9" cy="509.9" r="1.75"/><circle cx="135.9" cy="516.8" r="1.75"/><circle cx="118.4" cy="543.8" r="1.75"/><circle cx="89.0" cy="506.0" r="1.75"/><circle cx="107.2" cy="538.8" r="1.75"/><circle cx="111.8" cy="523.1" r="1.75"/><circle cx="151.8" cy="524.4" r="1.75"/><circle cx="162.9" cy="538.7" r="1.75"/><circle cx="126.6" cy="523.7" r="1.75"/><circle cx="91.3" cy="472.5" r="1.75"/><circle cx="92.0" cy="531.0" r="1.75"/><circle cx="108.3" cy="479.2" r="1.75"/><circle cx="155.7" cy="495.0" r="1.75"/><circle cx="124.0" cy="553.3" r="1.75"/><circle cx="112.3" cy="536.0" r="1.75"/><circle cx="91.0" cy="526.2" r="1.75"/><circle cx="140.5" cy="493.5" r="1.75"/><circle cx="122.7" cy="549.5" r="1.75"/><circle cx="112.4" cy="546.7" r="1.75"/><circle cx="117.1" cy="486.1" r="1.75"/><circle cx="164.7" cy="505.1" r="1.75"/><circle cx="109.2" cy="520.6" r="1.75"/><circle cx="164.8" cy="554.7" r="1.75"/><circle cx="151.3" cy="507.6" r="1.75"/><circle cx="115.5" cy="548.6" r="1.75"/><circle cx="140.6" cy="506.0" r="1.75"/><circle cx="110.3" cy="532.3" r="1.75"/><circle cx="89.1" cy="519.3" r="1.75"/><circle cx="105.9" cy="549.9" r="1.75"/><circle cx="86.7" cy="529.9" r="1.75"/><circle cx="129.4" cy="516.4" r="1.75"/><circle cx="114.4" cy="515.2" r="1.75"/><circle cx="131.1" cy="573.6" r="1.75"/><circle cx="138.8" cy="535.6" r="1.75"/><circle cx="123.3" cy="519.1" r="1.75"/><circle cx="59.8" cy="553.2" r="1.75"/><circle cx="119.0" cy="487.9" r="1.75"/><circle cx="87.6" cy="537.3" r="1.75"/><circle cx="117.1" cy="539.5" r="1.75"/><circle cx="155.0" cy="519.4" r="1.75"/><circle cx="62.6" cy="514.5" r="1.75"/><circle cx="119.7" cy="523.1" r="1.75"/><circle cx="111.6" cy="547.7" r="1.75"/><circle cx="57.1" cy="522.0" r="1.75"/><circle cx="133.5" cy="553.2" r="1.75"/><circle cx="115.0" cy="517.0" r="1.75"/><circle cx="98.7" cy="548.4" r="1.75"/><circle cx="92.3" cy="544.2" r="1.75"/><circle cx="102.1" cy="483.6" r="1.75"/><circle cx="59.8" cy="551.6" r="1.75"/><circle cx="86.0" cy="522.7" r="1.75"/><circle cx="102.9" cy="462.9" r="1.75"/><circle cx="102.4" cy="530.4" r="1.75"/><circle cx="111.6" cy="534.2" r="1.75"/><circle cx="82.5" cy="554.2" r="1.75"/><circle cx="130.3" cy="527.6" r="1.75"/><circle cx="99.4" cy="510.5" r="1.75"/><circle cx="73.1" cy="498.8" r="1.75"/><circle cx="89.4" cy="525.1" r="1.75"/><circle cx="102.4" cy="523.7" r="1.75"/><circle cx="139.5" cy="537.3" r="1.75"/><circle cx="128.5" cy="529.7" r="1.75"/><circle cx="103.8" cy="536.4" r="1.75"/><circle cx="114.6" cy="526.5" r="1.75"/><circle cx="120.4" cy="523.1" r="1.75"/><circle cx="175.3" cy="531.0" r="1.75"/><circle cx="95.4" cy="555.1" r="1.75"/><circle cx="128.0" cy="521.9" r="1.75"/><circle cx="135.8" cy="543.6" r="1.75"/><circle cx="85.3" cy="527.3" r="1.75"/></g>
<path d="M44.8,516.6 48.4,517.2 52.0,517.7 55.6,518.3 59.2,518.8 62.8,519.4 66.4,519.9 70.0,520.4 73.6,521.0 77.2,521.5 80.7,522.0 84.3,522.5 87.9,523.0 91.5,523.5 95.1,524.0 98.7,524.5 102.3,524.9 105.9,525.3 109.5,525.7 113.1,526.1 116.7,526.4 120.3,526.7 123.9,527.0 127.5,527.3 131.1,527.5 134.7,527.8 138.3,528.0 141.9,528.2 145.5,528.3 149.1,528.5 152.6,528.7 156.2,528.9 159.8,529.0 163.4,529.2 167.0,529.3 170.6,529.5 174.2,529.6 177.8,529.7 181.4,529.9 185.0,530.0 L185.0,540.0 181.4,539.4 177.8,538.9 174.2,538.3 170.6,537.8 167.0,537.2 163.4,536.7 159.8,536.1 156.2,535.6 152.6,535.1 149.1,534.6 145.5,534.0 141.9,533.5 138.3,533.0 134.7,532.6 131.1,532.1 127.5,531.6 123.9,531.2 120.3,530.8 116.7,530.4 113.1,530.1 109.5,529.8 105.9,529.5 102.3,529.2 98.7,528.9 95.1,528.7 91.5,528.5 87.9,528.3 84.3,528.1 80.7,527.9 77.2,527.7 73.6,527.6 70.0,527.4 66.4,527.2 62.8,527.1 59.2,527.0 55.6,526.8 52.0,526.7 48.4,526.5 44.8,526.4Z" fill="#fccf98" fill-opacity="0.75"/>
<path d="M44.8,521.5 L185,535" stroke="#e8312a" stroke-width="2.8"/>
<text x="36.4" y="576.7" font-size="7.8" fill="#444" text-anchor="end">0.6</text>
<text x="36.4" y="536.9" font-size="7.8" fill="#444" text-anchor="end">0.7</text>
<text x="36.4" y="497.1" font-size="7.8" fill="#444" text-anchor="end">0.8</text>
<text x="36.4" y="457.3" font-size="7.8" fill="#444" text-anchor="end">0.9</text>
<text x="43.8" y="589.2" font-size="7.8" fill="#444" text-anchor="middle">40</text>
<text x="83.9" y="589.2" font-size="7.8" fill="#444" text-anchor="middle">60</text>
<text x="124.0" y="589.2" font-size="7.8" fill="#444" text-anchor="middle">80</text>
<text x="164.1" y="589.2" font-size="7.8" fill="#444" text-anchor="middle">100</text>
<text x="102.8" y="432.5" font-size="10.4" fill="#1a1a1a" text-anchor="middle" textLength="151.7" lengthAdjust="spacingAndGlyphs">Spearman's rho = −0.12 , p = 0.009</text>
<text x="111.0" y="602.0" font-size="10.8" fill="#1a1a1a" text-anchor="middle">CCDI in ASD</text>
<text x="21.9" y="506.5" font-size="10.8" fill="#1a1a1a" text-anchor="middle" textLength="76.6" lengthAdjust="spacingAndGlyphs" transform="rotate(-90 21.9 506.5)">Dysbiosis score</text>
<path d="M241.4,435.3 V580 M281.4,435.3 V580 M321.2,435.3 V580 M361.1,435.3 V580 M219,557.6 H368.7 M219,529.8 H368.7 M219,502.0 H368.7 M219,474.2 H368.7 M219,446.4 H368.7 " stroke="#f2f2f2" stroke-width="0.7"/>
<path d="M221.5,435.3 V580 M261.4,435.3 V580 M301.3,435.3 V580 M341.2,435.3 V580 M219,571.5 H368.7 M219,543.7 H368.7 M219,515.9 H368.7 M219,488.1 H368.7 M219,460.3 H368.7 " stroke="#e6e6e6" stroke-width="1.1"/>
<g fill="#f7a34c" fill-opacity="0.85"><circle cx="313.7" cy="487.2" r="1.75"/><circle cx="301.8" cy="510.9" r="1.75"/><circle cx="297.5" cy="481.6" r="1.75"/><circle cx="264.3" cy="477.5" r="1.75"/><circle cx="274.9" cy="494.2" r="1.75"/><circle cx="312.4" cy="502.0" r="1.75"/><circle cx="294.6" cy="536.6" r="1.75"/><circle cx="345.9" cy="475.6" r="1.75"/><circle cx="280.4" cy="490.8" r="1.75"/><circle cx="280.4" cy="531.6" r="1.75"/><circle cx="298.8" cy="495.0" r="1.75"/><circle cx="301.9" cy="479.3" r="1.75"/><circle cx="292.5" cy="500.9" r="1.75"/><circle cx="265.8" cy="481.8" r="1.75"/><circle cx="335.3" cy="474.8" r="1.75"/><circle cx="270.6" cy="537.0" r="1.75"/><circle cx="311.8" cy="503.5" r="1.75"/><circle cx="281.9" cy="487.4" r="1.75"/><circle cx="254.6" cy="479.8" r="1.75"/><circle cx="332.9" cy="458.9" r="1.75"/><circle cx="265.0" cy="548.6" r="1.75"/><circle cx="303.5" cy="498.6" r="1.75"/><circle cx="279.9" cy="481.9" r="1.75"/><circle cx="313.0" cy="465.7" r="1.75"/><circle cx="287.6" cy="457.1" r="1.75"/><circle cx="277.0" cy="523.0" r="1.75"/><circle cx="355.3" cy="500.4" r="1.75"/><circle cx="284.0" cy="525.1" r="1.75"/><circle cx="285.9" cy="478.7" r="1.75"/><circle cx="258.2" cy="534.7" r="1.75"/><circle cx="268.2" cy="471.6" r="1.75"/><circle cx="310.1" cy="473.1" r="1.75"/><circle cx="307.5" cy="484.5" r="1.75"/><circle cx="290.7" cy="552.0" r="1.75"/><circle cx="269.7" cy="517.5" r="1.75"/><circle cx="311.2" cy="477.6" r="1.75"/><circle cx="239.7" cy="539.1" r="1.75"/><circle cx="280.5" cy="505.4" r="1.75"/><circle cx="283.2" cy="501.8" r="1.75"/><circle cx="265.4" cy="479.2" r="1.75"/><circle cx="295.3" cy="490.9" r="1.75"/><circle cx="270.8" cy="493.8" r="1.75"/><circle cx="266.7" cy="511.9" r="1.75"/><circle cx="344.8" cy="492.2" r="1.75"/><circle cx="313.0" cy="499.2" r="1.75"/><circle cx="326.7" cy="476.4" r="1.75"/><circle cx="292.4" cy="502.6" r="1.75"/><circle cx="319.8" cy="469.6" r="1.75"/><circle cx="314.3" cy="537.7" r="1.75"/><circle cx="327.2" cy="464.7" r="1.75"/><circle cx="361.8" cy="494.7" r="1.75"/><circle cx="284.2" cy="471.2" r="1.75"/><circle cx="298.7" cy="495.4" r="1.75"/><circle cx="289.4" cy="477.4" r="1.75"/><circle cx="249.2" cy="466.1" r="1.75"/><circle cx="291.6" cy="512.0" r="1.75"/><circle cx="310.0" cy="494.3" r="1.75"/><circle cx="273.8" cy="504.5" r="1.75"/><circle cx="325.1" cy="489.4" r="1.75"/><circle cx="329.5" cy="534.1" r="1.75"/><circle cx="278.8" cy="504.0" r="1.75"/><circle cx="333.8" cy="499.8" r="1.75"/><circle cx="343.6" cy="512.0" r="1.75"/><circle cx="305.1" cy="501.6" r="1.75"/><circle cx="261.8" cy="539.8" r="1.75"/><circle cx="335.1" cy="458.9" r="1.75"/><circle cx="286.3" cy="487.9" r="1.75"/><circle cx="279.9" cy="453.1" r="1.75"/><circle cx="294.7" cy="519.6" r="1.75"/><circle cx="275.2" cy="529.0" r="1.75"/><circle cx="323.4" cy="487.8" r="1.75"/><circle cx="314.5" cy="537.0" r="1.75"/><circle cx="327.8" cy="488.7" r="1.75"/><circle cx="308.7" cy="513.8" r="1.75"/><circle cx="267.5" cy="509.3" r="1.75"/><circle cx="286.5" cy="492.6" r="1.75"/><circle cx="317.5" cy="494.3" r="1.75"/><circle cx="279.1" cy="453.7" r="1.75"/><circle cx="284.1" cy="483.6" r="1.75"/><circle cx="273.8" cy="532.3" r="1.75"/><circle cx="325.7" cy="470.3" r="1.75"/><circle cx="313.7" cy="529.0" r="1.75"/><circle cx="290.5" cy="496.4" r="1.75"/><circle cx="284.4" cy="530.0" r="1.75"/><circle cx="304.1" cy="517.5" r="1.75"/><circle cx="316.3" cy="463.2" r="1.75"/><circle cx="314.1" cy="509.7" r="1.75"/><circle cx="282.3" cy="515.4" r="1.75"/><circle cx="304.3" cy="510.9" r="1.75"/><circle cx="316.6" cy="503.4" r="1.75"/><circle cx="314.2" cy="460.3" r="1.75"/><circle cx="264.7" cy="530.6" r="1.75"/><circle cx="268.1" cy="531.6" r="1.75"/><circle cx="284.4" cy="484.9" r="1.75"/><circle cx="296.7" cy="537.3" r="1.75"/><circle cx="318.9" cy="504.5" r="1.75"/><circle cx="309.8" cy="468.5" r="1.75"/><circle cx="287.5" cy="498.9" r="1.75"/><circle cx="292.0" cy="510.3" r="1.75"/><circle cx="344.0" cy="510.2" r="1.75"/><circle cx="273.0" cy="523.2" r="1.75"/><circle cx="300.4" cy="512.1" r="1.75"/><circle cx="338.2" cy="490.0" r="1.75"/><circle cx="301.7" cy="466.7" r="1.75"/><circle cx="230.2" cy="481.5" r="1.75"/><circle cx="302.5" cy="511.3" r="1.75"/><circle cx="279.7" cy="518.0" r="1.75"/><circle cx="287.9" cy="481.8" r="1.75"/><circle cx="322.8" cy="540.0" r="1.75"/><circle cx="305.4" cy="507.9" r="1.75"/><circle cx="283.4" cy="507.6" r="1.75"/><circle cx="318.0" cy="523.2" r="1.75"/><circle cx="304.4" cy="521.9" r="1.75"/><circle cx="294.5" cy="489.8" r="1.75"/><circle cx="300.3" cy="538.6" r="1.75"/><circle cx="298.9" cy="520.5" r="1.75"/><circle cx="281.2" cy="516.0" r="1.75"/><circle cx="277.6" cy="498.3" r="1.75"/><circle cx="292.1" cy="532.6" r="1.75"/><circle cx="262.8" cy="475.2" r="1.75"/><circle cx="253.7" cy="510.7" r="1.75"/><circle cx="330.3" cy="501.0" r="1.75"/><circle cx="284.2" cy="508.7" r="1.75"/><circle cx="290.6" cy="515.7" r="1.75"/><circle cx="287.3" cy="523.7" r="1.75"/><circle cx="292.0" cy="470.6" r="1.75"/><circle cx="292.0" cy="493.9" r="1.75"/><circle cx="293.3" cy="501.5" r="1.75"/><circle cx="267.2" cy="477.2" r="1.75"/><circle cx="319.2" cy="513.5" r="1.75"/><circle cx="270.6" cy="485.9" r="1.75"/><circle cx="322.3" cy="495.1" r="1.75"/><circle cx="233.9" cy="527.5" r="1.75"/><circle cx="259.6" cy="483.9" r="1.75"/><circle cx="321.0" cy="532.8" r="1.75"/><circle cx="286.9" cy="483.6" r="1.75"/><circle cx="271.2" cy="523.3" r="1.75"/><circle cx="302.6" cy="487.9" r="1.75"/><circle cx="260.0" cy="468.7" r="1.75"/><circle cx="293.6" cy="485.0" r="1.75"/><circle cx="225.0" cy="521.5" r="1.75"/><circle cx="277.8" cy="501.5" r="1.75"/><circle cx="271.9" cy="510.6" r="1.75"/><circle cx="307.5" cy="526.5" r="1.75"/><circle cx="317.5" cy="523.7" r="1.75"/><circle cx="265.8" cy="501.2" r="1.75"/><circle cx="339.5" cy="480.8" r="1.75"/><circle cx="273.6" cy="544.9" r="1.75"/><circle cx="229.8" cy="508.1" r="1.75"/><circle cx="337.4" cy="481.9" r="1.75"/><circle cx="288.7" cy="497.1" r="1.75"/><circle cx="272.0" cy="526.4" r="1.75"/><circle cx="268.9" cy="476.5" r="1.75"/><circle cx="258.6" cy="533.1" r="1.75"/><circle cx="331.8" cy="479.1" r="1.75"/><circle cx="288.8" cy="460.5" r="1.75"/><circle cx="344.9" cy="543.9" r="1.75"/><circle cx="285.4" cy="494.0" r="1.75"/><circle cx="316.6" cy="489.1" r="1.75"/><circle cx="280.3" cy="495.3" r="1.75"/><circle cx="284.2" cy="519.4" r="1.75"/><circle cx="338.2" cy="502.1" r="1.75"/><circle cx="283.4" cy="535.0" r="1.75"/><circle cx="326.1" cy="492.6" r="1.75"/><circle cx="291.2" cy="486.6" r="1.75"/><circle cx="268.8" cy="518.6" r="1.75"/><circle cx="306.5" cy="520.8" r="1.75"/><circle cx="273.3" cy="513.4" r="1.75"/><circle cx="328.1" cy="495.9" r="1.75"/><circle cx="320.0" cy="495.1" r="1.75"/><circle cx="293.2" cy="502.2" r="1.75"/><circle cx="309.6" cy="496.1" r="1.75"/><circle cx="308.2" cy="530.2" r="1.75"/><circle cx="283.1" cy="567.9" r="1.75"/><circle cx="318.1" cy="481.7" r="1.75"/><circle cx="284.5" cy="465.7" r="1.75"/><circle cx="309.8" cy="532.6" r="1.75"/><circle cx="262.9" cy="519.4" r="1.75"/><circle cx="294.4" cy="492.2" r="1.75"/><circle cx="303.8" cy="475.1" r="1.75"/><circle cx="267.7" cy="486.6" r="1.75"/><circle cx="278.9" cy="469.9" r="1.75"/><circle cx="275.4" cy="503.0" r="1.75"/><circle cx="313.2" cy="487.3" r="1.75"/><circle cx="269.9" cy="492.2" r="1.75"/><circle cx="304.5" cy="509.1" r="1.75"/><circle cx="337.1" cy="465.4" r="1.75"/><circle cx="302.1" cy="483.5" r="1.75"/><circle cx="243.2" cy="481.3" r="1.75"/><circle cx="295.2" cy="509.1" r="1.75"/><circle cx="322.6" cy="471.2" r="1.75"/><circle cx="282.9" cy="526.8" r="1.75"/><circle cx="324.7" cy="486.6" r="1.75"/><circle cx="310.0" cy="562.0" r="1.75"/><circle cx="304.1" cy="523.3" r="1.75"/><circle cx="283.7" cy="482.8" r="1.75"/><circle cx="276.2" cy="512.7" r="1.75"/><circle cx="283.9" cy="496.6" r="1.75"/><circle cx="293.5" cy="539.5" r="1.75"/><circle cx="307.2" cy="460.3" r="1.75"/><circle cx="304.2" cy="484.0" r="1.75"/><circle cx="282.6" cy="501.6" r="1.75"/><circle cx="293.6" cy="489.6" r="1.75"/><circle cx="303.2" cy="490.7" r="1.75"/><circle cx="243.0" cy="470.8" r="1.75"/><circle cx="268.7" cy="497.3" r="1.75"/><circle cx="267.8" cy="538.7" r="1.75"/><circle cx="285.6" cy="506.9" r="1.75"/><circle cx="283.4" cy="469.5" r="1.75"/><circle cx="284.0" cy="486.9" r="1.75"/><circle cx="265.6" cy="513.2" r="1.75"/><circle cx="311.9" cy="482.8" r="1.75"/><circle cx="300.0" cy="496.2" r="1.75"/><circle cx="242.6" cy="490.6" r="1.75"/><circle cx="292.1" cy="538.8" r="1.75"/><circle cx="258.1" cy="525.7" r="1.75"/><circle cx="342.7" cy="478.0" r="1.75"/><circle cx="278.1" cy="507.0" r="1.75"/><circle cx="280.0" cy="492.7" r="1.75"/><circle cx="294.3" cy="451.8" r="1.75"/><circle cx="285.8" cy="508.3" r="1.75"/><circle cx="290.1" cy="494.3" r="1.75"/><circle cx="338.1" cy="508.5" r="1.75"/><circle cx="298.6" cy="514.5" r="1.75"/><circle cx="316.8" cy="499.0" r="1.75"/><circle cx="325.6" cy="531.8" r="1.75"/><circle cx="262.7" cy="554.7" r="1.75"/><circle cx="342.4" cy="461.0" r="1.75"/><circle cx="312.4" cy="500.2" r="1.75"/><circle cx="320.5" cy="469.3" r="1.75"/><circle cx="266.0" cy="499.9" r="1.75"/><circle cx="316.3" cy="493.6" r="1.75"/><circle cx="304.2" cy="482.2" r="1.75"/><circle cx="275.8" cy="484.2" r="1.75"/><circle cx="360.2" cy="521.8" r="1.75"/><circle cx="308.8" cy="468.6" r="1.75"/><circle cx="284.7" cy="524.5" r="1.75"/><circle cx="297.7" cy="494.4" r="1.75"/><circle cx="319.1" cy="471.3" r="1.75"/><circle cx="325.7" cy="494.2" r="1.75"/><circle cx="309.3" cy="457.3" r="1.75"/><circle cx="328.3" cy="504.4" r="1.75"/><circle cx="335.9" cy="480.1" r="1.75"/><circle cx="254.9" cy="502.8" r="1.75"/><circle cx="277.4" cy="491.4" r="1.75"/><circle cx="263.8" cy="524.0" r="1.75"/><circle cx="294.8" cy="522.1" r="1.75"/><circle cx="335.1" cy="486.9" r="1.75"/><circle cx="311.5" cy="536.0" r="1.75"/><circle cx="260.6" cy="524.1" r="1.75"/><circle cx="283.1" cy="485.2" r="1.75"/><circle cx="322.7" cy="511.6" r="1.75"/><circle cx="276.0" cy="523.4" r="1.75"/><circle cx="289.0" cy="527.3" r="1.75"/><circle cx="301.0" cy="495.3" r="1.75"/><circle cx="237.4" cy="514.9" r="1.75"/><circle cx="315.3" cy="493.7" r="1.75"/><circle cx="302.2" cy="503.4" r="1.75"/><circle cx="308.9" cy="452.8" r="1.75"/><circle cx="262.6" cy="513.9" r="1.75"/><circle cx="268.9" cy="550.3" r="1.75"/><circle cx="274.1" cy="499.1" r="1.75"/><circle cx="299.4" cy="499.0" r="1.75"/><circle cx="294.0" cy="495.9" r="1.75"/><circle cx="295.7" cy="538.7" r="1.75"/><circle cx="345.5" cy="466.3" r="1.75"/><circle cx="331.0" cy="496.3" r="1.75"/><circle cx="270.4" cy="503.4" r="1.75"/><circle cx="272.4" cy="540.7" r="1.75"/><circle cx="343.3" cy="482.7" r="1.75"/><circle cx="282.4" cy="502.6" r="1.75"/><circle cx="333.2" cy="462.4" r="1.75"/><circle cx="339.8" cy="504.7" r="1.75"/><circle cx="275.7" cy="531.9" r="1.75"/><circle cx="283.9" cy="497.7" r="1.75"/><circle cx="294.4" cy="521.9" r="1.75"/><circle cx="266.1" cy="492.7" r="1.75"/><circle cx="262.7" cy="529.6" r="1.75"/><circle cx="279.9" cy="504.4" r="1.75"/><circle cx="317.4" cy="502.6" r="1.75"/><circle cx="278.5" cy="502.3" r="1.75"/><circle cx="285.7" cy="513.2" r="1.75"/><circle cx="278.0" cy="521.2" r="1.75"/><circle cx="251.1" cy="505.9" r="1.75"/><circle cx="336.3" cy="509.1" r="1.75"/><circle cx="221.8" cy="504.0" r="1.75"/><circle cx="272.4" cy="508.7" r="1.75"/><circle cx="308.6" cy="552.7" r="1.75"/><circle cx="250.2" cy="506.1" r="1.75"/><circle cx="310.0" cy="464.1" r="1.75"/><circle cx="329.4" cy="488.4" r="1.75"/><circle cx="266.2" cy="488.2" r="1.75"/><circle cx="298.2" cy="488.2" r="1.75"/><circle cx="258.7" cy="515.0" r="1.75"/><circle cx="307.1" cy="530.6" r="1.75"/><circle cx="294.6" cy="480.0" r="1.75"/><circle cx="298.4" cy="473.6" r="1.75"/><circle cx="332.8" cy="481.6" r="1.75"/><circle cx="306.0" cy="488.1" r="1.75"/><circle cx="332.2" cy="485.9" r="1.75"/><circle cx="310.9" cy="498.5" r="1.75"/><circle cx="256.0" cy="497.3" r="1.75"/><circle cx="299.7" cy="498.8" r="1.75"/><circle cx="306.6" cy="490.4" r="1.75"/><circle cx="248.6" cy="527.6" r="1.75"/><circle cx="331.8" cy="510.7" r="1.75"/><circle cx="293.9" cy="485.9" r="1.75"/><circle cx="302.9" cy="506.9" r="1.75"/><circle cx="265.1" cy="561.4" r="1.75"/><circle cx="294.1" cy="496.7" r="1.75"/><circle cx="300.9" cy="554.2" r="1.75"/><circle cx="282.1" cy="454.8" r="1.75"/><circle cx="294.3" cy="482.3" r="1.75"/><circle cx="228.5" cy="490.7" r="1.75"/><circle cx="332.7" cy="511.4" r="1.75"/><circle cx="258.6" cy="530.8" r="1.75"/><circle cx="226.6" cy="512.3" r="1.75"/><circle cx="263.2" cy="502.6" r="1.75"/><circle cx="266.9" cy="521.2" r="1.75"/><circle cx="308.2" cy="494.2" r="1.75"/><circle cx="264.5" cy="486.4" r="1.75"/><circle cx="300.4" cy="484.5" r="1.75"/><circle cx="263.2" cy="528.1" r="1.75"/><circle cx="357.9" cy="544.5" r="1.75"/><circle cx="308.2" cy="497.9" r="1.75"/><circle cx="350.4" cy="509.1" r="1.75"/><circle cx="261.5" cy="492.5" r="1.75"/><circle cx="311.7" cy="458.1" r="1.75"/><circle cx="263.2" cy="463.5" r="1.75"/><circle cx="309.2" cy="491.0" r="1.75"/><circle cx="312.1" cy="470.9" r="1.75"/><circle cx="244.1" cy="465.6" r="1.75"/><circle cx="257.8" cy="502.4" r="1.75"/><circle cx="256.9" cy="497.1" r="1.75"/><circle cx="246.8" cy="484.3" r="1.75"/><circle cx="269.9" cy="503.0" r="1.75"/><circle cx="263.1" cy="514.9" r="1.75"/><circle cx="248.6" cy="522.5" r="1.75"/><circle cx="294.7" cy="499.2" r="1.75"/><circle cx="308.1" cy="512.7" r="1.75"/><circle cx="252.4" cy="484.9" r="1.75"/><circle cx="275.1" cy="509.5" r="1.75"/><circle cx="292.0" cy="464.5" r="1.75"/><circle cx="284.8" cy="471.4" r="1.75"/><circle cx="270.8" cy="531.6" r="1.75"/><circle cx="316.0" cy="471.0" r="1.75"/><circle cx="317.1" cy="506.4" r="1.75"/><circle cx="312.1" cy="464.5" r="1.75"/><circle cx="285.5" cy="488.0" r="1.75"/><circle cx="351.1" cy="494.0" r="1.75"/><circle cx="343.8" cy="477.6" r="1.75"/><circle cx="279.7" cy="514.1" r="1.75"/><circle cx="288.1" cy="492.0" r="1.75"/><circle cx="327.2" cy="486.3" r="1.75"/><circle cx="267.7" cy="505.6" r="1.75"/><circle cx="303.6" cy="488.9" r="1.75"/><circle cx="293.0" cy="523.1" r="1.75"/><circle cx="270.6" cy="488.4" r="1.75"/><circle cx="284.7" cy="529.1" r="1.75"/><circle cx="244.6" cy="489.7" r="1.75"/><circle cx="275.4" cy="489.9" r="1.75"/><circle cx="231.9" cy="489.1" r="1.75"/><circle cx="359.9" cy="505.0" r="1.75"/><circle cx="336.7" cy="526.7" r="1.75"/><circle cx="328.4" cy="500.6" r="1.75"/><circle cx="300.6" cy="494.6" r="1.75"/><circle cx="321.5" cy="513.9" r="1.75"/><circle cx="329.7" cy="460.9" r="1.75"/><circle cx="322.0" cy="507.0" r="1.75"/><circle cx="319.0" cy="472.4" r="1.75"/><circle cx="264.3" cy="524.7" r="1.75"/><circle cx="304.4" cy="490.3" r="1.75"/><circle cx="275.5" cy="509.7" r="1.75"/><circle cx="256.2" cy="480.8" r="1.75"/><circle cx="257.4" cy="509.8" r="1.75"/><circle cx="304.3" cy="518.1" r="1.75"/><circle cx="323.0" cy="484.7" r="1.75"/><circle cx="250.6" cy="531.9" r="1.75"/><circle cx="343.7" cy="515.9" r="1.75"/><circle cx="335.4" cy="475.8" r="1.75"/><circle cx="280.1" cy="544.7" r="1.75"/><circle cx="277.6" cy="482.4" r="1.75"/><circle cx="289.3" cy="508.7" r="1.75"/><circle cx="320.8" cy="517.3" r="1.75"/><circle cx="280.0" cy="494.3" r="1.75"/><circle cx="258.3" cy="487.5" r="1.75"/><circle cx="301.7" cy="511.5" r="1.75"/><circle cx="229.6" cy="509.9" r="1.75"/><circle cx="295.6" cy="479.3" r="1.75"/><circle cx="326.1" cy="477.0" r="1.75"/><circle cx="300.5" cy="498.9" r="1.75"/><circle cx="314.7" cy="514.4" r="1.75"/><circle cx="306.1" cy="519.5" r="1.75"/><circle cx="313.1" cy="510.4" r="1.75"/><circle cx="295.7" cy="482.1" r="1.75"/><circle cx="266.5" cy="487.7" r="1.75"/><circle cx="284.6" cy="492.2" r="1.75"/><circle cx="289.1" cy="465.9" r="1.75"/><circle cx="329.0" cy="501.5" r="1.75"/><circle cx="340.0" cy="502.1" r="1.75"/><circle cx="303.9" cy="506.2" r="1.75"/><circle cx="268.8" cy="455.8" r="1.75"/><circle cx="269.5" cy="549.6" r="1.75"/><circle cx="285.7" cy="492.2" r="1.75"/><circle cx="332.9" cy="483.3" r="1.75"/><circle cx="301.3" cy="495.8" r="1.75"/><circle cx="289.7" cy="443.4" r="1.75"/><circle cx="268.4" cy="473.3" r="1.75"/><circle cx="317.7" cy="477.2" r="1.75"/><circle cx="300.0" cy="518.6" r="1.75"/><circle cx="289.8" cy="486.7" r="1.75"/><circle cx="294.4" cy="506.7" r="1.75"/><circle cx="341.8" cy="491.6" r="1.75"/><circle cx="286.5" cy="494.1" r="1.75"/><circle cx="341.9" cy="504.0" r="1.75"/><circle cx="328.5" cy="479.1" r="1.75"/><circle cx="292.9" cy="459.6" r="1.75"/><circle cx="317.8" cy="470.8" r="1.75"/><circle cx="287.6" cy="493.5" r="1.75"/><circle cx="266.5" cy="546.5" r="1.75"/><circle cx="283.3" cy="473.4" r="1.75"/><circle cx="264.2" cy="475.7" r="1.75"/><circle cx="306.6" cy="500.9" r="1.75"/><circle cx="291.8" cy="509.3" r="1.75"/><circle cx="308.3" cy="480.6" r="1.75"/><circle cx="316.1" cy="514.3" r="1.75"/><circle cx="300.6" cy="478.2" r="1.75"/><circle cx="237.4" cy="529.4" r="1.75"/><circle cx="296.3" cy="519.1" r="1.75"/><circle cx="265.1" cy="500.5" r="1.75"/><circle cx="294.4" cy="531.9" r="1.75"/><circle cx="332.2" cy="493.3" r="1.75"/><circle cx="240.2" cy="491.1" r="1.75"/><circle cx="297.0" cy="528.2" r="1.75"/><circle cx="289.0" cy="476.4" r="1.75"/><circle cx="234.7" cy="517.4" r="1.75"/><circle cx="310.7" cy="482.8" r="1.75"/><circle cx="292.3" cy="492.7" r="1.75"/><circle cx="276.1" cy="510.3" r="1.75"/><circle cx="269.7" cy="512.5" r="1.75"/><circle cx="279.5" cy="539.3" r="1.75"/><circle cx="237.5" cy="520.2" r="1.75"/><circle cx="263.5" cy="519.0" r="1.75"/><circle cx="280.4" cy="460.4" r="1.75"/><circle cx="279.8" cy="475.1" r="1.75"/><circle cx="289.0" cy="530.2" r="1.75"/><circle cx="260.0" cy="482.4" r="1.75"/><circle cx="307.5" cy="490.7" r="1.75"/><circle cx="276.8" cy="508.3" r="1.75"/><circle cx="250.6" cy="491.4" r="1.75"/><circle cx="266.9" cy="481.9" r="1.75"/><circle cx="279.8" cy="512.4" r="1.75"/><circle cx="316.7" cy="501.3" r="1.75"/><circle cx="305.8" cy="492.2" r="1.75"/><circle cx="281.2" cy="521.9" r="1.75"/><circle cx="291.9" cy="493.3" r="1.75"/><circle cx="297.8" cy="498.9" r="1.75"/><circle cx="352.3" cy="506.8" r="1.75"/><circle cx="272.8" cy="519.5" r="1.75"/><circle cx="305.3" cy="489.0" r="1.75"/><circle cx="313.1" cy="474.7" r="1.75"/><circle cx="262.8" cy="493.1" r="1.75"/></g>
<path d="M223.2,497.5 226.8,497.5 230.3,497.4 233.9,497.4 237.4,497.3 241.0,497.3 244.5,497.2 248.1,497.1 251.6,497.1 255.2,497.0 258.7,496.9 262.3,496.8 265.8,496.7 269.4,496.6 272.9,496.5 276.5,496.3 280.0,496.1 283.6,495.9 287.1,495.7 290.7,495.4 294.2,495.1 297.8,494.7 301.3,494.4 304.9,493.9 308.4,493.5 312.0,493.0 315.5,492.6 319.1,492.0 322.6,491.5 326.2,491.0 329.7,490.5 333.3,489.9 336.8,489.4 340.4,488.8 343.9,488.3 347.5,487.7 351.0,487.1 354.6,486.5 358.1,486.0 361.7,485.4 L361.7,497.4 358.1,497.4 354.6,497.5 351.0,497.5 347.5,497.6 343.9,497.6 340.4,497.7 336.8,497.8 333.3,497.8 329.7,497.9 326.2,498.0 322.6,498.1 319.1,498.2 315.5,498.3 312.0,498.4 308.4,498.6 304.9,498.8 301.3,499.0 297.8,499.2 294.2,499.5 290.7,499.8 287.1,500.2 283.6,500.5 280.0,501.0 276.5,501.4 272.9,501.9 269.4,502.3 265.8,502.9 262.3,503.4 258.7,503.9 255.2,504.4 251.6,505.0 248.1,505.5 244.5,506.1 241.0,506.6 237.4,507.2 233.9,507.8 230.3,508.4 226.8,508.9 223.2,509.5Z" fill="#fccf98" fill-opacity="0.75"/>
<path d="M223.2,503.5 L361.7,491.4" stroke="#e8312a" stroke-width="2.8"/>
<text x="215.7" y="574.1" font-size="7.8" fill="#444" text-anchor="end">2.0</text>
<text x="215.7" y="546.3" font-size="7.8" fill="#444" text-anchor="end">2.5</text>
<text x="215.7" y="518.5" font-size="7.8" fill="#444" text-anchor="end">3.0</text>
<text x="215.7" y="490.7" font-size="7.8" fill="#444" text-anchor="end">3.5</text>
<text x="215.7" y="462.9" font-size="7.8" fill="#444" text-anchor="end">4.0</text>
<text x="221.5" y="589.2" font-size="7.8" fill="#444" text-anchor="middle">40</text>
<text x="261.4" y="589.2" font-size="7.8" fill="#444" text-anchor="middle">60</text>
<text x="301.3" y="589.2" font-size="7.8" fill="#444" text-anchor="middle">80</text>
<text x="341.2" y="589.2" font-size="7.8" fill="#444" text-anchor="middle">100</text>
<text x="285.8" y="432.5" font-size="10.4" fill="#1a1a1a" text-anchor="middle" textLength="146.0" lengthAdjust="spacingAndGlyphs">Spearman's rho = 0.14 , p = 0.003</text>
<text x="289.3" y="602.0" font-size="10.8" fill="#1a1a1a" text-anchor="middle">CCDI in ASD</text>
<text x="201.0" y="507.3" font-size="10.8" fill="#1a1a1a" text-anchor="middle" transform="rotate(-90 201 507.3)">Shannon index</text>
<path d="M46.2,624 V768.7 M89.4,624 V768.7 M132.6,624 V768.7 M175.8,624 V768.7 M34.5,744.8 H188.3 M34.5,701.9 H188.3 M34.5,659.0 H188.3 " stroke="#f2f2f2" stroke-width="0.7"/>
<path d="M67.8,624 V768.7 M111.0,624 V768.7 M154.2,624 V768.7 M34.5,766.3 H188.3 M34.5,723.4 H188.3 M34.5,680.5 H188.3 M34.5,637.6 H188.3 " stroke="#e6e6e6" stroke-width="1.1"/>
<g fill="#4a64b4" fill-opacity="0.85"><circle cx="122.8" cy="727.9" r="1.6"/><circle cx="178.1" cy="694.5" r="1.6"/><circle cx="66.4" cy="721.7" r="1.6"/><circle cx="85.6" cy="675.9" r="1.6"/><circle cx="153.9" cy="743.9" r="1.6"/><circle cx="125.0" cy="747.8" r="1.6"/><circle cx="106.7" cy="720.8" r="1.6"/><circle cx="119.7" cy="702.5" r="1.6"/><circle cx="96.0" cy="721.6" r="1.6"/><circle cx="123.7" cy="727.2" r="1.6"/><circle cx="158.5" cy="690.8" r="1.6"/><circle cx="110.8" cy="729.3" r="1.6"/><circle cx="124.1" cy="723.1" r="1.6"/><circle cx="151.1" cy="718.7" r="1.6"/><circle cx="171.1" cy="750.7" r="1.6"/><circle cx="105.6" cy="678.4" r="1.6"/><circle cx="128.2" cy="738.2" r="1.6"/><circle cx="106.3" cy="735.1" r="1.6"/><circle cx="104.2" cy="750.6" r="1.6"/><circle cx="110.4" cy="729.0" r="1.6"/><circle cx="104.5" cy="748.2" r="1.6"/><circle cx="76.6" cy="686.8" r="1.6"/><circle cx="70.0" cy="709.2" r="1.6"/><circle cx="102.0" cy="733.0" r="1.6"/><circle cx="123.9" cy="707.5" r="1.6"/><circle cx="151.4" cy="722.4" r="1.6"/><circle cx="107.1" cy="735.3" r="1.6"/><circle cx="116.3" cy="763.4" r="1.6"/><circle cx="137.3" cy="745.6" r="1.6"/><circle cx="139.4" cy="745.2" r="1.6"/><circle cx="117.6" cy="765.2" r="1.6"/><circle cx="119.2" cy="716.5" r="1.6"/><circle cx="168.1" cy="664.7" r="1.6"/><circle cx="112.1" cy="720.3" r="1.6"/><circle cx="108.1" cy="741.0" r="1.6"/><circle cx="79.3" cy="731.6" r="1.6"/><circle cx="131.6" cy="738.0" r="1.6"/><circle cx="113.9" cy="755.3" r="1.6"/><circle cx="169.0" cy="747.3" r="1.6"/><circle cx="112.1" cy="703.7" r="1.6"/><circle cx="141.2" cy="723.1" r="1.6"/><circle cx="144.2" cy="747.2" r="1.6"/><circle cx="162.4" cy="739.3" r="1.6"/><circle cx="87.3" cy="708.5" r="1.6"/><circle cx="160.3" cy="730.1" r="1.6"/><circle cx="120.9" cy="678.6" r="1.6"/><circle cx="117.9" cy="754.9" r="1.6"/><circle cx="112.7" cy="732.5" r="1.6"/><circle cx="110.5" cy="697.1" r="1.6"/><circle cx="111.8" cy="745.1" r="1.6"/><circle cx="61.4" cy="726.4" r="1.6"/><circle cx="133.5" cy="752.0" r="1.6"/><circle cx="122.1" cy="726.0" r="1.6"/><circle cx="96.4" cy="750.6" r="1.6"/><circle cx="118.9" cy="718.6" r="1.6"/><circle cx="178.8" cy="755.1" r="1.6"/><circle cx="130.2" cy="733.6" r="1.6"/><circle cx="110.7" cy="723.7" r="1.6"/><circle cx="163.9" cy="738.0" r="1.6"/><circle cx="100.4" cy="717.6" r="1.6"/><circle cx="116.7" cy="710.9" r="1.6"/><circle cx="106.5" cy="745.8" r="1.6"/><circle cx="114.5" cy="732.1" r="1.6"/><circle cx="139.1" cy="739.4" r="1.6"/><circle cx="135.2" cy="723.8" r="1.6"/><circle cx="102.0" cy="686.9" r="1.6"/><circle cx="117.3" cy="706.0" r="1.6"/><circle cx="122.7" cy="721.6" r="1.6"/><circle cx="110.2" cy="725.1" r="1.6"/><circle cx="119.6" cy="728.1" r="1.6"/><circle cx="102.3" cy="734.4" r="1.6"/><circle cx="101.9" cy="725.8" r="1.6"/><circle cx="121.6" cy="739.6" r="1.6"/><circle cx="94.4" cy="744.1" r="1.6"/><circle cx="131.1" cy="716.8" r="1.6"/><circle cx="115.6" cy="720.6" r="1.6"/><circle cx="97.2" cy="736.6" r="1.6"/><circle cx="105.0" cy="743.8" r="1.6"/><circle cx="108.4" cy="717.1" r="1.6"/><circle cx="116.4" cy="747.8" r="1.6"/><circle cx="123.3" cy="737.1" r="1.6"/><circle cx="115.2" cy="711.1" r="1.6"/><circle cx="98.5" cy="720.8" r="1.6"/><circle cx="156.6" cy="717.7" r="1.6"/><circle cx="143.3" cy="754.5" r="1.6"/><circle cx="123.2" cy="723.8" r="1.6"/><circle cx="144.4" cy="760.9" r="1.6"/><circle cx="128.7" cy="707.8" r="1.6"/><circle cx="113.9" cy="733.2" r="1.6"/><circle cx="122.6" cy="727.8" r="1.6"/><circle cx="145.4" cy="723.4" r="1.6"/><circle cx="146.7" cy="719.1" r="1.6"/><circle cx="110.5" cy="739.0" r="1.6"/><circle cx="135.5" cy="736.7" r="1.6"/><circle cx="177.3" cy="719.6" r="1.6"/><circle cx="131.2" cy="714.3" r="1.6"/><circle cx="147.4" cy="723.3" r="1.6"/><circle cx="152.1" cy="695.4" r="1.6"/><circle cx="136.6" cy="735.4" r="1.6"/><circle cx="160.1" cy="730.1" r="1.6"/><circle cx="126.2" cy="748.5" r="1.6"/><circle cx="132.9" cy="733.5" r="1.6"/><circle cx="104.6" cy="723.0" r="1.6"/><circle cx="128.1" cy="704.2" r="1.6"/><circle cx="123.2" cy="747.6" r="1.6"/><circle cx="155.3" cy="664.4" r="1.6"/><circle cx="108.1" cy="704.2" r="1.6"/><circle cx="120.3" cy="697.3" r="1.6"/><circle cx="100.7" cy="687.0" r="1.6"/><circle cx="120.9" cy="727.1" r="1.6"/><circle cx="110.6" cy="731.6" r="1.6"/><circle cx="134.0" cy="754.8" r="1.6"/><circle cx="117.2" cy="735.2" r="1.6"/><circle cx="105.3" cy="718.1" r="1.6"/><circle cx="113.0" cy="722.1" r="1.6"/><circle cx="117.4" cy="731.9" r="1.6"/><circle cx="107.5" cy="751.4" r="1.6"/><circle cx="143.9" cy="713.5" r="1.6"/><circle cx="137.2" cy="710.6" r="1.6"/><circle cx="124.0" cy="719.8" r="1.6"/><circle cx="90.5" cy="699.5" r="1.6"/><circle cx="133.3" cy="715.0" r="1.6"/><circle cx="88.3" cy="709.0" r="1.6"/><circle cx="125.0" cy="759.0" r="1.6"/><circle cx="121.5" cy="717.9" r="1.6"/><circle cx="105.6" cy="722.6" r="1.6"/><circle cx="99.5" cy="681.9" r="1.6"/><circle cx="102.9" cy="729.7" r="1.6"/><circle cx="171.8" cy="727.9" r="1.6"/><circle cx="113.7" cy="713.3" r="1.6"/><circle cx="115.2" cy="740.3" r="1.6"/><circle cx="144.4" cy="741.0" r="1.6"/><circle cx="130.8" cy="677.2" r="1.6"/><circle cx="146.8" cy="739.3" r="1.6"/><circle cx="89.6" cy="729.3" r="1.6"/><circle cx="93.1" cy="714.5" r="1.6"/><circle cx="119.3" cy="731.6" r="1.6"/><circle cx="113.1" cy="720.7" r="1.6"/><circle cx="124.4" cy="695.4" r="1.6"/><circle cx="145.1" cy="755.6" r="1.6"/><circle cx="90.6" cy="721.7" r="1.6"/><circle cx="127.4" cy="709.4" r="1.6"/><circle cx="119.6" cy="736.7" r="1.6"/><circle cx="137.2" cy="737.3" r="1.6"/><circle cx="124.7" cy="729.9" r="1.6"/><circle cx="107.0" cy="719.4" r="1.6"/><circle cx="98.7" cy="659.6" r="1.6"/><circle cx="59.4" cy="727.5" r="1.6"/><circle cx="144.8" cy="690.1" r="1.6"/><circle cx="83.6" cy="701.3" r="1.6"/><circle cx="110.2" cy="745.2" r="1.6"/><circle cx="161.9" cy="736.2" r="1.6"/><circle cx="109.9" cy="738.1" r="1.6"/><circle cx="135.6" cy="736.8" r="1.6"/><circle cx="115.1" cy="745.2" r="1.6"/><circle cx="137.8" cy="710.0" r="1.6"/><circle cx="121.1" cy="716.8" r="1.6"/><circle cx="107.6" cy="714.7" r="1.6"/><circle cx="154.0" cy="743.5" r="1.6"/><circle cx="113.7" cy="706.2" r="1.6"/><circle cx="86.9" cy="712.8" r="1.6"/><circle cx="112.1" cy="719.9" r="1.6"/><circle cx="133.8" cy="760.7" r="1.6"/><circle cx="92.5" cy="692.0" r="1.6"/><circle cx="139.9" cy="703.6" r="1.6"/><circle cx="139.4" cy="708.2" r="1.6"/><circle cx="173.2" cy="733.0" r="1.6"/><circle cx="104.3" cy="733.3" r="1.6"/><circle cx="136.8" cy="751.8" r="1.6"/><circle cx="78.7" cy="719.7" r="1.6"/><circle cx="109.9" cy="739.1" r="1.6"/><circle cx="122.9" cy="728.2" r="1.6"/><circle cx="130.5" cy="690.7" r="1.6"/><circle cx="118.9" cy="720.3" r="1.6"/><circle cx="118.0" cy="746.6" r="1.6"/><circle cx="105.0" cy="711.5" r="1.6"/><circle cx="109.2" cy="717.6" r="1.6"/><circle cx="127.9" cy="702.5" r="1.6"/><circle cx="134.2" cy="757.5" r="1.6"/><circle cx="136.2" cy="719.4" r="1.6"/><circle cx="145.1" cy="724.6" r="1.6"/><circle cx="149.9" cy="760.2" r="1.6"/><circle cx="75.4" cy="742.8" r="1.6"/><circle cx="107.3" cy="747.4" r="1.6"/><circle cx="116.3" cy="749.8" r="1.6"/><circle cx="104.3" cy="708.6" r="1.6"/><circle cx="146.4" cy="702.6" r="1.6"/><circle cx="138.9" cy="723.2" r="1.6"/><circle cx="117.6" cy="746.5" r="1.6"/><circle cx="123.3" cy="735.9" r="1.6"/><circle cx="151.7" cy="713.9" r="1.6"/><circle cx="111.7" cy="736.4" r="1.6"/><circle cx="112.5" cy="741.4" r="1.6"/><circle cx="142.8" cy="696.4" r="1.6"/><circle cx="132.0" cy="726.2" r="1.6"/><circle cx="155.6" cy="745.2" r="1.6"/><circle cx="129.5" cy="681.8" r="1.6"/><circle cx="138.9" cy="693.3" r="1.6"/><circle cx="106.8" cy="672.8" r="1.6"/><circle cx="97.0" cy="724.0" r="1.6"/><circle cx="120.1" cy="715.3" r="1.6"/><circle cx="54.4" cy="734.3" r="1.6"/><circle cx="130.5" cy="733.7" r="1.6"/><circle cx="144.4" cy="736.4" r="1.6"/><circle cx="122.2" cy="700.5" r="1.6"/><circle cx="114.8" cy="735.7" r="1.6"/><circle cx="147.3" cy="635.7" r="1.6"/><circle cx="119.3" cy="711.8" r="1.6"/><circle cx="144.7" cy="666.1" r="1.6"/><circle cx="174.8" cy="737.6" r="1.6"/><circle cx="138.3" cy="699.7" r="1.6"/><circle cx="143.6" cy="732.2" r="1.6"/><circle cx="132.6" cy="751.2" r="1.6"/><circle cx="126.6" cy="722.8" r="1.6"/><circle cx="127.2" cy="747.8" r="1.6"/><circle cx="122.0" cy="721.7" r="1.6"/><circle cx="147.2" cy="726.9" r="1.6"/><circle cx="80.3" cy="728.5" r="1.6"/><circle cx="113.7" cy="732.2" r="1.6"/><circle cx="136.6" cy="740.4" r="1.6"/><circle cx="99.4" cy="649.1" r="1.6"/><circle cx="117.7" cy="748.5" r="1.6"/><circle cx="103.1" cy="717.8" r="1.6"/><circle cx="131.3" cy="733.8" r="1.6"/><circle cx="141.7" cy="705.4" r="1.6"/><circle cx="156.4" cy="752.0" r="1.6"/><circle cx="132.8" cy="704.2" r="1.6"/><circle cx="102.5" cy="711.3" r="1.6"/><circle cx="126.6" cy="738.5" r="1.6"/><circle cx="134.4" cy="699.4" r="1.6"/><circle cx="155.3" cy="748.3" r="1.6"/><circle cx="67.2" cy="704.4" r="1.6"/><circle cx="129.5" cy="747.9" r="1.6"/><circle cx="75.0" cy="723.0" r="1.6"/><circle cx="138.0" cy="713.9" r="1.6"/><circle cx="131.4" cy="726.8" r="1.6"/><circle cx="132.7" cy="732.7" r="1.6"/><circle cx="142.3" cy="704.5" r="1.6"/><circle cx="129.9" cy="692.8" r="1.6"/><circle cx="104.3" cy="710.1" r="1.6"/><circle cx="129.0" cy="704.2" r="1.6"/><circle cx="150.1" cy="681.7" r="1.6"/><circle cx="117.5" cy="755.7" r="1.6"/><circle cx="121.0" cy="702.8" r="1.6"/><circle cx="90.3" cy="742.6" r="1.6"/><circle cx="149.1" cy="725.1" r="1.6"/><circle cx="107.8" cy="749.5" r="1.6"/><circle cx="101.9" cy="730.7" r="1.6"/><circle cx="109.3" cy="719.4" r="1.6"/><circle cx="99.0" cy="740.3" r="1.6"/><circle cx="114.1" cy="718.4" r="1.6"/><circle cx="151.9" cy="716.9" r="1.6"/><circle cx="140.0" cy="721.3" r="1.6"/><circle cx="155.6" cy="755.8" r="1.6"/><circle cx="157.1" cy="723.6" r="1.6"/><circle cx="98.2" cy="712.9" r="1.6"/><circle cx="132.2" cy="748.1" r="1.6"/><circle cx="157.4" cy="725.9" r="1.6"/><circle cx="177.2" cy="744.1" r="1.6"/><circle cx="85.3" cy="738.7" r="1.6"/><circle cx="85.1" cy="693.2" r="1.6"/><circle cx="131.9" cy="737.7" r="1.6"/><circle cx="112.0" cy="716.6" r="1.6"/><circle cx="95.7" cy="736.1" r="1.6"/><circle cx="129.7" cy="737.9" r="1.6"/><circle cx="100.8" cy="706.1" r="1.6"/><circle cx="64.2" cy="714.1" r="1.6"/><circle cx="119.7" cy="725.6" r="1.6"/><circle cx="123.4" cy="734.8" r="1.6"/><circle cx="136.0" cy="737.3" r="1.6"/><circle cx="143.5" cy="699.9" r="1.6"/><circle cx="124.8" cy="751.7" r="1.6"/><circle cx="114.4" cy="737.6" r="1.6"/><circle cx="103.8" cy="747.7" r="1.6"/><circle cx="79.5" cy="725.3" r="1.6"/><circle cx="109.4" cy="708.9" r="1.6"/><circle cx="144.9" cy="724.0" r="1.6"/><circle cx="136.4" cy="743.1" r="1.6"/><circle cx="171.0" cy="722.0" r="1.6"/><circle cx="116.5" cy="749.4" r="1.6"/><circle cx="76.1" cy="752.1" r="1.6"/><circle cx="140.7" cy="722.5" r="1.6"/><circle cx="145.9" cy="720.5" r="1.6"/><circle cx="91.3" cy="674.7" r="1.6"/><circle cx="80.3" cy="679.7" r="1.6"/><circle cx="124.0" cy="727.2" r="1.6"/><circle cx="137.8" cy="724.4" r="1.6"/><circle cx="92.5" cy="754.8" r="1.6"/><circle cx="111.8" cy="745.0" r="1.6"/><circle cx="101.0" cy="685.3" r="1.6"/><circle cx="90.9" cy="726.7" r="1.6"/><circle cx="87.6" cy="717.6" r="1.6"/><circle cx="123.6" cy="748.3" r="1.6"/><circle cx="110.9" cy="716.5" r="1.6"/><circle cx="103.5" cy="702.0" r="1.6"/><circle cx="55.6" cy="696.3" r="1.6"/><circle cx="163.4" cy="740.6" r="1.6"/><circle cx="96.8" cy="692.2" r="1.6"/><circle cx="116.7" cy="728.4" r="1.6"/><circle cx="92.0" cy="704.0" r="1.6"/><circle cx="129.5" cy="737.7" r="1.6"/><circle cx="82.7" cy="703.9" r="1.6"/><circle cx="122.4" cy="667.9" r="1.6"/><circle cx="115.4" cy="732.1" r="1.6"/><circle cx="142.8" cy="742.7" r="1.6"/><circle cx="92.9" cy="735.0" r="1.6"/><circle cx="104.0" cy="696.3" r="1.6"/><circle cx="114.2" cy="718.5" r="1.6"/><circle cx="171.9" cy="719.4" r="1.6"/><circle cx="83.6" cy="691.2" r="1.6"/><circle cx="127.2" cy="748.1" r="1.6"/><circle cx="103.8" cy="697.7" r="1.6"/><circle cx="127.7" cy="736.3" r="1.6"/><circle cx="136.2" cy="742.8" r="1.6"/><circle cx="123.5" cy="717.3" r="1.6"/><circle cx="126.5" cy="724.4" r="1.6"/><circle cx="126.9" cy="703.7" r="1.6"/><circle cx="105.4" cy="715.1" r="1.6"/><circle cx="114.6" cy="716.8" r="1.6"/><circle cx="78.9" cy="746.7" r="1.6"/><circle cx="111.1" cy="706.4" r="1.6"/><circle cx="100.9" cy="699.0" r="1.6"/><circle cx="113.6" cy="726.0" r="1.6"/><circle cx="138.1" cy="706.3" r="1.6"/><circle cx="129.4" cy="711.6" r="1.6"/><circle cx="131.5" cy="693.6" r="1.6"/><circle cx="147.2" cy="708.4" r="1.6"/><circle cx="60.9" cy="723.8" r="1.6"/><circle cx="130.5" cy="690.8" r="1.6"/><circle cx="119.3" cy="742.8" r="1.6"/><circle cx="117.4" cy="709.4" r="1.6"/><circle cx="87.5" cy="734.5" r="1.6"/><circle cx="133.4" cy="764.0" r="1.6"/><circle cx="148.2" cy="750.2" r="1.6"/><circle cx="145.3" cy="739.6" r="1.6"/><circle cx="117.7" cy="738.6" r="1.6"/><circle cx="135.6" cy="743.3" r="1.6"/><circle cx="142.6" cy="724.0" r="1.6"/><circle cx="164.9" cy="751.0" r="1.6"/><circle cx="150.2" cy="740.1" r="1.6"/><circle cx="123.3" cy="711.4" r="1.6"/><circle cx="122.1" cy="719.7" r="1.6"/><circle cx="123.9" cy="714.3" r="1.6"/><circle cx="125.4" cy="724.7" r="1.6"/><circle cx="107.5" cy="719.0" r="1.6"/><circle cx="138.9" cy="735.6" r="1.6"/><circle cx="102.7" cy="729.0" r="1.6"/><circle cx="99.9" cy="709.0" r="1.6"/><circle cx="128.5" cy="703.8" r="1.6"/><circle cx="105.6" cy="723.0" r="1.6"/><circle cx="113.7" cy="648.0" r="1.6"/><circle cx="68.4" cy="745.3" r="1.6"/><circle cx="139.4" cy="709.8" r="1.6"/><circle cx="119.6" cy="720.1" r="1.6"/><circle cx="116.6" cy="742.6" r="1.6"/><circle cx="131.2" cy="742.7" r="1.6"/></g>
<path d="M40.8,711.5 44.4,712.1 48.0,712.6 51.6,713.2 55.3,713.7 58.9,714.3 62.5,714.8 66.1,715.3 69.7,715.9 73.3,716.4 76.9,716.9 80.5,717.4 84.2,718.0 87.8,718.4 91.4,718.9 95.0,719.4 98.6,719.9 102.2,720.3 105.8,720.7 109.4,721.1 113.1,721.4 116.7,721.8 120.3,722.0 123.9,722.3 127.5,722.5 131.1,722.7 134.7,722.8 138.3,722.9 142.0,723.0 145.6,723.1 149.2,723.2 152.8,723.2 156.4,723.3 160.0,723.3 163.6,723.3 167.2,723.4 170.9,723.4 174.5,723.4 178.1,723.4 181.7,723.4 L181.7,735.0 178.1,734.5 174.5,733.9 170.9,733.4 167.2,732.8 163.6,732.3 160.0,731.8 156.4,731.3 152.8,730.8 149.2,730.3 145.6,729.8 142.0,729.3 138.3,728.9 134.7,728.5 131.1,728.1 127.5,727.7 123.9,727.3 120.3,727.0 116.7,726.8 113.1,726.5 109.4,726.3 105.8,726.2 102.2,726.0 98.6,725.9 95.0,725.8 91.4,725.7 87.8,725.7 84.2,725.6 80.5,725.6 76.9,725.6 73.3,725.5 69.7,725.5 66.1,725.5 62.5,725.5 58.9,725.5 55.3,725.5 51.6,725.5 48.0,725.5 44.4,725.5 40.8,725.5Z" fill="#7584cc" fill-opacity="0.7"/>
<path d="M40.8,718.5 L181.7,729.2" stroke="#e8312a" stroke-width="2.8"/>
<text x="32.7" y="768.9" font-size="7.8" fill="#444" text-anchor="end">0.6</text>
<text x="32.7" y="726.0" font-size="7.8" fill="#444" text-anchor="end">0.7</text>
<text x="32.7" y="683.1" font-size="7.8" fill="#444" text-anchor="end">0.8</text>
<text x="32.7" y="640.2" font-size="7.8" fill="#444" text-anchor="end">0.9</text>
<text x="67.8" y="776.9" font-size="7.8" fill="#444" text-anchor="middle">50</text>
<text x="111.0" y="776.9" font-size="7.8" fill="#444" text-anchor="middle">75</text>
<text x="154.2" y="776.9" font-size="7.8" fill="#444" text-anchor="middle">100</text>
<text x="96.9" y="622.6" font-size="10.4" fill="#1a1a1a" text-anchor="middle" textLength="151.8" lengthAdjust="spacingAndGlyphs">Spearman's rho = −0.07 , p = 0.167</text>
<text x="111.0" y="787.7" font-size="10.8" fill="#1a1a1a" text-anchor="middle">CCDI in non−ASD</text>
<text x="19.0" y="691.0" font-size="10.8" fill="#1a1a1a" text-anchor="middle" textLength="75.7" lengthAdjust="spacingAndGlyphs" transform="rotate(-90 19 691)">Dysbiosis score</text>
<path d="M225.6,624 V768.7 M269.4,624 V768.7 M313.2,624 V768.7 M357.0,624 V768.7 M213.2,758.3 H370.4 M213.2,725.5 H370.4 M213.2,692.7 H370.4 M213.2,659.9 H370.4 " stroke="#f2f2f2" stroke-width="0.7"/>
<path d="M247.5,624 V768.7 M291.3,624 V768.7 M335.1,624 V768.7 M213.2,741.9 H370.4 M213.2,709.1 H370.4 M213.2,676.3 H370.4 M213.2,643.5 H370.4 " stroke="#e6e6e6" stroke-width="1.1"/>
<g fill="#4a64b4" fill-opacity="0.85"><circle cx="303.3" cy="716.1" r="1.6"/><circle cx="359.4" cy="652.8" r="1.6"/><circle cx="246.1" cy="702.6" r="1.6"/><circle cx="265.6" cy="684.5" r="1.6"/><circle cx="334.8" cy="653.9" r="1.6"/><circle cx="305.4" cy="632.0" r="1.6"/><circle cx="286.9" cy="656.0" r="1.6"/><circle cx="300.2" cy="720.1" r="1.6"/><circle cx="276.1" cy="673.1" r="1.6"/><circle cx="304.1" cy="676.8" r="1.6"/><circle cx="339.5" cy="676.1" r="1.6"/><circle cx="291.1" cy="640.5" r="1.6"/><circle cx="304.6" cy="729.7" r="1.6"/><circle cx="332.0" cy="664.8" r="1.6"/><circle cx="352.2" cy="667.5" r="1.6"/><circle cx="285.8" cy="703.6" r="1.6"/><circle cx="308.7" cy="626.3" r="1.6"/><circle cx="286.5" cy="718.9" r="1.6"/><circle cx="284.4" cy="680.6" r="1.6"/><circle cx="290.7" cy="678.1" r="1.6"/><circle cx="284.7" cy="746.8" r="1.6"/><circle cx="256.4" cy="728.3" r="1.6"/><circle cx="249.7" cy="715.6" r="1.6"/><circle cx="282.2" cy="658.3" r="1.6"/><circle cx="304.4" cy="650.2" r="1.6"/><circle cx="332.3" cy="656.6" r="1.6"/><circle cx="287.3" cy="673.9" r="1.6"/><circle cx="296.7" cy="745.3" r="1.6"/><circle cx="318.0" cy="670.0" r="1.6"/><circle cx="320.0" cy="691.5" r="1.6"/><circle cx="298.0" cy="644.5" r="1.6"/><circle cx="299.6" cy="639.0" r="1.6"/><circle cx="349.2" cy="667.2" r="1.6"/><circle cx="292.4" cy="659.1" r="1.6"/><circle cx="288.4" cy="656.6" r="1.6"/><circle cx="259.1" cy="716.1" r="1.6"/><circle cx="312.1" cy="675.0" r="1.6"/><circle cx="294.2" cy="717.0" r="1.6"/><circle cx="350.1" cy="644.9" r="1.6"/><circle cx="292.4" cy="716.0" r="1.6"/><circle cx="321.9" cy="682.3" r="1.6"/><circle cx="325.0" cy="700.0" r="1.6"/><circle cx="343.4" cy="686.8" r="1.6"/><circle cx="267.3" cy="670.5" r="1.6"/><circle cx="341.3" cy="689.9" r="1.6"/><circle cx="301.3" cy="672.5" r="1.6"/><circle cx="298.3" cy="709.5" r="1.6"/><circle cx="293.0" cy="638.5" r="1.6"/><circle cx="290.8" cy="699.9" r="1.6"/><circle cx="292.1" cy="650.2" r="1.6"/><circle cx="241.0" cy="673.2" r="1.6"/><circle cx="314.1" cy="750.1" r="1.6"/><circle cx="302.6" cy="708.6" r="1.6"/><circle cx="276.5" cy="689.0" r="1.6"/><circle cx="299.3" cy="644.4" r="1.6"/><circle cx="360.1" cy="684.8" r="1.6"/><circle cx="310.8" cy="666.4" r="1.6"/><circle cx="291.0" cy="702.5" r="1.6"/><circle cx="344.9" cy="655.8" r="1.6"/><circle cx="280.5" cy="718.6" r="1.6"/><circle cx="297.0" cy="654.7" r="1.6"/><circle cx="286.8" cy="707.2" r="1.6"/><circle cx="294.9" cy="736.8" r="1.6"/><circle cx="319.8" cy="689.3" r="1.6"/><circle cx="315.9" cy="671.8" r="1.6"/><circle cx="282.2" cy="708.9" r="1.6"/><circle cx="297.6" cy="686.1" r="1.6"/><circle cx="303.1" cy="647.4" r="1.6"/><circle cx="290.5" cy="646.9" r="1.6"/><circle cx="300.0" cy="692.1" r="1.6"/><circle cx="282.4" cy="663.4" r="1.6"/><circle cx="282.1" cy="666.9" r="1.6"/><circle cx="302.1" cy="728.9" r="1.6"/><circle cx="274.5" cy="665.4" r="1.6"/><circle cx="311.6" cy="683.2" r="1.6"/><circle cx="296.0" cy="641.4" r="1.6"/><circle cx="277.3" cy="643.6" r="1.6"/><circle cx="285.2" cy="701.0" r="1.6"/><circle cx="288.7" cy="699.3" r="1.6"/><circle cx="296.8" cy="674.2" r="1.6"/><circle cx="303.8" cy="659.2" r="1.6"/><circle cx="295.5" cy="692.5" r="1.6"/><circle cx="278.7" cy="686.1" r="1.6"/><circle cx="337.5" cy="655.5" r="1.6"/><circle cx="324.0" cy="663.1" r="1.6"/><circle cx="303.7" cy="643.9" r="1.6"/><circle cx="325.2" cy="668.5" r="1.6"/><circle cx="309.2" cy="704.8" r="1.6"/><circle cx="294.3" cy="733.5" r="1.6"/><circle cx="303.0" cy="654.6" r="1.6"/><circle cx="326.2" cy="685.6" r="1.6"/><circle cx="327.5" cy="685.9" r="1.6"/><circle cx="290.8" cy="689.6" r="1.6"/><circle cx="316.2" cy="724.5" r="1.6"/><circle cx="358.5" cy="682.5" r="1.6"/><circle cx="311.7" cy="756.3" r="1.6"/><circle cx="328.2" cy="687.4" r="1.6"/><circle cx="332.9" cy="701.6" r="1.6"/><circle cx="317.3" cy="713.1" r="1.6"/><circle cx="341.0" cy="659.9" r="1.6"/><circle cx="306.7" cy="685.0" r="1.6"/><circle cx="313.5" cy="672.6" r="1.6"/><circle cx="284.8" cy="659.8" r="1.6"/><circle cx="308.6" cy="701.1" r="1.6"/><circle cx="303.7" cy="686.0" r="1.6"/><circle cx="336.2" cy="684.9" r="1.6"/><circle cx="288.4" cy="689.6" r="1.6"/><circle cx="300.7" cy="677.3" r="1.6"/><circle cx="280.9" cy="741.9" r="1.6"/><circle cx="301.4" cy="655.3" r="1.6"/><circle cx="290.9" cy="687.3" r="1.6"/><circle cx="314.6" cy="706.3" r="1.6"/><circle cx="297.6" cy="684.9" r="1.6"/><circle cx="285.6" cy="683.7" r="1.6"/><circle cx="293.3" cy="650.3" r="1.6"/><circle cx="297.8" cy="697.0" r="1.6"/><circle cx="287.8" cy="689.6" r="1.6"/><circle cx="324.6" cy="713.2" r="1.6"/><circle cx="317.9" cy="709.0" r="1.6"/><circle cx="304.5" cy="743.9" r="1.6"/><circle cx="270.5" cy="649.4" r="1.6"/><circle cx="313.9" cy="712.4" r="1.6"/><circle cx="268.3" cy="673.2" r="1.6"/><circle cx="305.5" cy="668.8" r="1.6"/><circle cx="302.0" cy="699.1" r="1.6"/><circle cx="285.8" cy="680.4" r="1.6"/><circle cx="279.7" cy="685.6" r="1.6"/><circle cx="283.1" cy="697.3" r="1.6"/><circle cx="352.9" cy="670.3" r="1.6"/><circle cx="294.0" cy="679.1" r="1.6"/><circle cx="295.5" cy="711.4" r="1.6"/><circle cx="325.1" cy="715.3" r="1.6"/><circle cx="311.4" cy="703.8" r="1.6"/><circle cx="327.6" cy="671.9" r="1.6"/><circle cx="269.6" cy="642.3" r="1.6"/><circle cx="273.1" cy="639.1" r="1.6"/><circle cx="299.7" cy="670.2" r="1.6"/><circle cx="293.4" cy="651.9" r="1.6"/><circle cx="304.9" cy="675.3" r="1.6"/><circle cx="325.9" cy="642.3" r="1.6"/><circle cx="270.6" cy="680.3" r="1.6"/><circle cx="307.9" cy="666.6" r="1.6"/><circle cx="300.0" cy="688.4" r="1.6"/><circle cx="317.8" cy="677.3" r="1.6"/><circle cx="305.2" cy="715.1" r="1.6"/><circle cx="287.3" cy="718.2" r="1.6"/><circle cx="278.8" cy="682.9" r="1.6"/><circle cx="239.0" cy="707.0" r="1.6"/><circle cx="325.6" cy="646.7" r="1.6"/><circle cx="263.5" cy="630.0" r="1.6"/><circle cx="290.5" cy="690.7" r="1.6"/><circle cx="342.9" cy="757.9" r="1.6"/><circle cx="290.2" cy="662.6" r="1.6"/><circle cx="316.2" cy="658.6" r="1.6"/><circle cx="295.4" cy="731.9" r="1.6"/><circle cx="318.4" cy="684.5" r="1.6"/><circle cx="301.5" cy="681.7" r="1.6"/><circle cx="287.9" cy="752.3" r="1.6"/><circle cx="334.9" cy="654.1" r="1.6"/><circle cx="294.0" cy="667.4" r="1.6"/><circle cx="266.9" cy="677.6" r="1.6"/><circle cx="292.4" cy="713.4" r="1.6"/><circle cx="314.4" cy="699.5" r="1.6"/><circle cx="272.6" cy="703.4" r="1.6"/><circle cx="320.6" cy="662.2" r="1.6"/><circle cx="320.1" cy="707.0" r="1.6"/><circle cx="354.4" cy="627.1" r="1.6"/><circle cx="284.5" cy="670.7" r="1.6"/><circle cx="317.5" cy="744.0" r="1.6"/><circle cx="258.5" cy="634.7" r="1.6"/><circle cx="290.2" cy="676.6" r="1.6"/><circle cx="303.4" cy="696.3" r="1.6"/><circle cx="311.0" cy="675.2" r="1.6"/><circle cx="299.3" cy="736.0" r="1.6"/><circle cx="298.4" cy="674.4" r="1.6"/><circle cx="285.3" cy="757.5" r="1.6"/><circle cx="289.5" cy="712.9" r="1.6"/><circle cx="308.5" cy="637.3" r="1.6"/><circle cx="314.8" cy="639.2" r="1.6"/><circle cx="316.9" cy="688.0" r="1.6"/><circle cx="325.9" cy="705.8" r="1.6"/><circle cx="330.7" cy="646.9" r="1.6"/><circle cx="255.3" cy="688.3" r="1.6"/><circle cx="287.6" cy="675.5" r="1.6"/><circle cx="296.7" cy="661.4" r="1.6"/><circle cx="284.5" cy="715.5" r="1.6"/><circle cx="327.1" cy="651.7" r="1.6"/><circle cx="319.6" cy="742.1" r="1.6"/><circle cx="298.0" cy="635.6" r="1.6"/><circle cx="303.8" cy="727.8" r="1.6"/><circle cx="332.6" cy="694.6" r="1.6"/><circle cx="292.0" cy="701.9" r="1.6"/><circle cx="292.8" cy="658.9" r="1.6"/><circle cx="323.6" cy="653.8" r="1.6"/><circle cx="312.6" cy="667.3" r="1.6"/><circle cx="336.5" cy="658.1" r="1.6"/><circle cx="310.1" cy="664.4" r="1.6"/><circle cx="319.6" cy="679.6" r="1.6"/><circle cx="287.0" cy="740.9" r="1.6"/><circle cx="277.1" cy="754.6" r="1.6"/><circle cx="300.5" cy="750.9" r="1.6"/><circle cx="233.9" cy="691.7" r="1.6"/><circle cx="311.0" cy="685.7" r="1.6"/><circle cx="325.2" cy="680.9" r="1.6"/><circle cx="302.7" cy="673.0" r="1.6"/><circle cx="295.2" cy="688.3" r="1.6"/><circle cx="328.1" cy="706.9" r="1.6"/><circle cx="299.7" cy="726.7" r="1.6"/><circle cx="325.4" cy="735.0" r="1.6"/><circle cx="355.9" cy="634.6" r="1.6"/><circle cx="319.0" cy="649.6" r="1.6"/><circle cx="324.4" cy="718.5" r="1.6"/><circle cx="313.2" cy="686.9" r="1.6"/><circle cx="307.1" cy="665.8" r="1.6"/><circle cx="307.7" cy="630.2" r="1.6"/><circle cx="302.5" cy="698.7" r="1.6"/><circle cx="328.0" cy="670.9" r="1.6"/><circle cx="260.2" cy="650.8" r="1.6"/><circle cx="294.0" cy="734.9" r="1.6"/><circle cx="317.3" cy="700.5" r="1.6"/><circle cx="279.5" cy="684.8" r="1.6"/><circle cx="298.1" cy="703.0" r="1.6"/><circle cx="283.3" cy="657.2" r="1.6"/><circle cx="311.8" cy="652.0" r="1.6"/><circle cx="322.5" cy="671.1" r="1.6"/><circle cx="337.3" cy="704.6" r="1.6"/><circle cx="313.4" cy="651.8" r="1.6"/><circle cx="282.7" cy="663.7" r="1.6"/><circle cx="307.1" cy="695.4" r="1.6"/><circle cx="315.1" cy="691.7" r="1.6"/><circle cx="336.2" cy="720.3" r="1.6"/><circle cx="246.9" cy="691.0" r="1.6"/><circle cx="310.1" cy="652.4" r="1.6"/><circle cx="254.8" cy="656.5" r="1.6"/><circle cx="318.7" cy="659.9" r="1.6"/><circle cx="311.9" cy="653.4" r="1.6"/><circle cx="313.3" cy="696.8" r="1.6"/><circle cx="323.0" cy="691.7" r="1.6"/><circle cx="310.4" cy="642.0" r="1.6"/><circle cx="284.5" cy="669.1" r="1.6"/><circle cx="309.6" cy="703.7" r="1.6"/><circle cx="330.9" cy="660.6" r="1.6"/><circle cx="297.8" cy="655.4" r="1.6"/><circle cx="301.5" cy="658.7" r="1.6"/><circle cx="270.3" cy="681.8" r="1.6"/><circle cx="329.9" cy="692.1" r="1.6"/><circle cx="288.1" cy="670.2" r="1.6"/><circle cx="282.1" cy="631.2" r="1.6"/><circle cx="289.5" cy="677.8" r="1.6"/><circle cx="279.1" cy="704.4" r="1.6"/><circle cx="294.4" cy="671.1" r="1.6"/><circle cx="332.8" cy="713.8" r="1.6"/><circle cx="320.7" cy="670.6" r="1.6"/><circle cx="336.5" cy="684.5" r="1.6"/><circle cx="338.1" cy="645.6" r="1.6"/><circle cx="278.3" cy="680.9" r="1.6"/><circle cx="312.8" cy="646.5" r="1.6"/><circle cx="338.4" cy="698.5" r="1.6"/><circle cx="358.4" cy="678.8" r="1.6"/><circle cx="265.3" cy="711.7" r="1.6"/><circle cx="265.0" cy="671.9" r="1.6"/><circle cx="312.5" cy="681.6" r="1.6"/><circle cx="292.3" cy="677.6" r="1.6"/><circle cx="275.8" cy="703.0" r="1.6"/><circle cx="310.3" cy="662.2" r="1.6"/><circle cx="281.0" cy="681.5" r="1.6"/><circle cx="243.8" cy="755.7" r="1.6"/><circle cx="300.1" cy="688.1" r="1.6"/><circle cx="303.9" cy="670.0" r="1.6"/><circle cx="316.7" cy="642.1" r="1.6"/><circle cx="324.3" cy="695.0" r="1.6"/><circle cx="305.3" cy="704.7" r="1.6"/><circle cx="294.8" cy="646.3" r="1.6"/><circle cx="284.0" cy="702.0" r="1.6"/><circle cx="259.4" cy="683.7" r="1.6"/><circle cx="289.7" cy="667.9" r="1.6"/><circle cx="325.7" cy="654.4" r="1.6"/><circle cx="317.0" cy="678.1" r="1.6"/><circle cx="352.1" cy="707.2" r="1.6"/><circle cx="296.8" cy="650.3" r="1.6"/><circle cx="255.9" cy="700.8" r="1.6"/><circle cx="321.4" cy="693.7" r="1.6"/><circle cx="326.7" cy="670.9" r="1.6"/><circle cx="271.3" cy="658.2" r="1.6"/><circle cx="260.2" cy="719.4" r="1.6"/><circle cx="304.5" cy="695.0" r="1.6"/><circle cx="318.5" cy="685.7" r="1.6"/><circle cx="272.5" cy="708.0" r="1.6"/><circle cx="292.1" cy="740.9" r="1.6"/><circle cx="281.1" cy="659.1" r="1.6"/><circle cx="270.9" cy="661.5" r="1.6"/><circle cx="267.6" cy="678.3" r="1.6"/><circle cx="304.1" cy="692.6" r="1.6"/><circle cx="291.2" cy="675.8" r="1.6"/><circle cx="283.7" cy="663.8" r="1.6"/><circle cx="235.1" cy="722.6" r="1.6"/><circle cx="344.4" cy="684.5" r="1.6"/><circle cx="276.9" cy="701.6" r="1.6"/><circle cx="297.1" cy="660.1" r="1.6"/><circle cx="272.0" cy="677.2" r="1.6"/><circle cx="310.0" cy="719.3" r="1.6"/><circle cx="262.7" cy="705.5" r="1.6"/><circle cx="302.9" cy="626.4" r="1.6"/><circle cx="295.8" cy="711.4" r="1.6"/><circle cx="323.5" cy="672.9" r="1.6"/><circle cx="273.0" cy="704.3" r="1.6"/><circle cx="284.2" cy="645.2" r="1.6"/><circle cx="294.6" cy="683.8" r="1.6"/><circle cx="353.0" cy="686.5" r="1.6"/><circle cx="263.5" cy="722.5" r="1.6"/><circle cx="307.7" cy="687.4" r="1.6"/><circle cx="284.0" cy="658.1" r="1.6"/><circle cx="308.2" cy="659.2" r="1.6"/><circle cx="316.8" cy="719.0" r="1.6"/><circle cx="303.9" cy="632.7" r="1.6"/><circle cx="307.0" cy="687.6" r="1.6"/><circle cx="307.4" cy="712.2" r="1.6"/><circle cx="285.6" cy="679.3" r="1.6"/><circle cx="294.9" cy="700.9" r="1.6"/><circle cx="258.8" cy="705.0" r="1.6"/><circle cx="291.4" cy="701.7" r="1.6"/><circle cx="281.1" cy="686.7" r="1.6"/><circle cx="293.9" cy="697.3" r="1.6"/><circle cx="318.8" cy="730.6" r="1.6"/><circle cx="309.9" cy="663.7" r="1.6"/><circle cx="312.1" cy="695.3" r="1.6"/><circle cx="328.0" cy="640.4" r="1.6"/><circle cx="240.5" cy="673.7" r="1.6"/><circle cx="311.1" cy="660.7" r="1.6"/><circle cx="299.7" cy="675.7" r="1.6"/><circle cx="297.8" cy="641.9" r="1.6"/><circle cx="267.5" cy="696.1" r="1.6"/><circle cx="314.1" cy="709.4" r="1.6"/><circle cx="329.1" cy="666.3" r="1.6"/><circle cx="326.0" cy="760.4" r="1.6"/><circle cx="298.1" cy="692.8" r="1.6"/><circle cx="316.3" cy="672.2" r="1.6"/><circle cx="323.4" cy="690.4" r="1.6"/><circle cx="346.0" cy="636.0" r="1.6"/><circle cx="331.0" cy="655.2" r="1.6"/><circle cx="303.8" cy="677.2" r="1.6"/><circle cx="302.6" cy="693.1" r="1.6"/><circle cx="304.4" cy="647.2" r="1.6"/><circle cx="305.9" cy="701.1" r="1.6"/><circle cx="287.8" cy="695.8" r="1.6"/><circle cx="319.6" cy="655.5" r="1.6"/><circle cx="282.8" cy="665.7" r="1.6"/><circle cx="280.1" cy="664.9" r="1.6"/><circle cx="309.1" cy="686.5" r="1.6"/><circle cx="285.8" cy="740.8" r="1.6"/><circle cx="294.1" cy="662.1" r="1.6"/><circle cx="248.1" cy="650.7" r="1.6"/><circle cx="320.1" cy="683.3" r="1.6"/><circle cx="300.0" cy="633.8" r="1.6"/><circle cx="297.0" cy="627.5" r="1.6"/><circle cx="311.8" cy="699.9" r="1.6"/></g>
<path d="M220.1,683.4 223.8,683.3 227.4,683.3 231.1,683.2 234.8,683.2 238.5,683.1 242.1,683.0 245.8,682.9 249.5,682.9 253.1,682.8 256.8,682.7 260.5,682.6 264.2,682.4 267.8,682.3 271.5,682.2 275.2,682.0 278.8,681.8 282.5,681.6 286.2,681.4 289.9,681.1 293.5,680.7 297.2,680.3 300.9,679.9 304.6,679.4 308.2,678.9 311.9,678.3 315.6,677.7 319.2,677.0 322.9,676.4 326.6,675.7 330.3,674.9 333.9,674.2 337.6,673.4 341.3,672.7 344.9,671.9 348.6,671.1 352.3,670.4 356.0,669.6 359.6,668.8 363.3,668.0 L363.3,683.2 359.6,683.3 356.0,683.3 352.3,683.4 348.6,683.5 344.9,683.6 341.3,683.7 337.6,683.8 333.9,683.9 330.3,684.0 326.6,684.2 322.9,684.3 319.2,684.5 315.6,684.7 311.9,685.0 308.2,685.2 304.6,685.6 300.9,685.9 297.2,686.4 293.5,686.8 289.9,687.4 286.2,687.9 282.5,688.5 278.8,689.2 275.2,689.9 271.5,690.6 267.8,691.3 264.2,692.0 260.5,692.8 256.8,693.5 253.1,694.3 249.5,695.1 245.8,695.8 242.1,696.6 238.5,697.4 234.8,698.2 231.1,699.0 227.4,699.8 223.8,700.6 220.1,701.4Z" fill="#7584cc" fill-opacity="0.7"/>
<path d="M220.1,692.4 L363.3,675.6" stroke="#e8312a" stroke-width="2.8"/>
<text x="211.9" y="744.5" font-size="7.8" fill="#444" text-anchor="end">2.5</text>
<text x="211.9" y="711.7" font-size="7.8" fill="#444" text-anchor="end">3.0</text>
<text x="211.9" y="678.9" font-size="7.8" fill="#444" text-anchor="end">3.5</text>
<text x="211.9" y="646.1" font-size="7.8" fill="#444" text-anchor="end">4.0</text>
<text x="247.5" y="776.9" font-size="7.8" fill="#444" text-anchor="middle">50</text>
<text x="291.3" y="776.9" font-size="7.8" fill="#444" text-anchor="middle">75</text>
<text x="335.1" y="776.9" font-size="7.8" fill="#444" text-anchor="middle">100</text>
<text x="284.9" y="622.6" font-size="10.4" fill="#1a1a1a" text-anchor="middle" textLength="146.0" lengthAdjust="spacingAndGlyphs">Spearman's rho = 0.11 , p = 0.043</text>
<text x="290.7" y="787.7" font-size="10.8" fill="#1a1a1a" text-anchor="middle">CCDI in non−ASD</text>
<text x="197.8" y="696.1" font-size="10.8" fill="#1a1a1a" text-anchor="middle" transform="rotate(-90 197.8 696.1)">Shannon index</text>
<text x="379.0" y="431.9" font-size="23.2" fill="#1a1a1a" font-weight="bold" text-anchor="start">D</text>
<path d="M425.1,725.2 H552.8 M425.1,645.8 H552.8 M425.1,566.2 H552.8 M425.1,486.8 H552.8 " stroke="#f2f2f2" stroke-width="0.7"/>
<path d="M427.2,765.0 H552.8 M427.2,685.5 H552.8 M427.2,606.0 H552.8 M427.2,526.5 H552.8 M433.5,447.0 H552.8 " stroke="#e6e6e6" stroke-width="1.1"/>
<text x="397.8" y="768.8" font-size="10.3" fill="#4d4d4d" text-anchor="start">0.00%</text>
<text x="397.8" y="689.4" font-size="10.3" fill="#4d4d4d" text-anchor="start">3.00%</text>
<text x="397.8" y="609.9" font-size="10.3" fill="#4d4d4d" text-anchor="start">6.00%</text>
<text x="397.8" y="530.3" font-size="10.3" fill="#4d4d4d" text-anchor="start">9.00%</text>
<text x="397.8" y="453.3" font-size="10.3" fill="#4d4d4d" text-anchor="start">12.00%</text>
<rect x="434" y="458.13" width="52.1" height="47.73" fill="#c3dbf0"/>
<rect x="434" y="505.56" width="52.1" height="41.91" fill="#b2d0eb"/>
<rect x="434" y="547.17" width="52.1" height="41.11" fill="#a1c5e6"/>
<rect x="434" y="587.98" width="52.1" height="37.93" fill="#91bae1"/>
<rect x="434" y="625.61" width="52.1" height="34.48" fill="#80aedb"/>
<rect x="434" y="659.80" width="52.1" height="29.72" fill="#70a3d5"/>
<rect x="434" y="689.21" width="52.1" height="21.24" fill="#6097cf"/>
<rect x="434" y="710.14" width="52.1" height="17.00" fill="#508bc9"/>
<rect x="434" y="726.84" width="52.1" height="14.88" fill="#417fc2"/>
<rect x="434" y="741.42" width="52.1" height="12.49" fill="#3473bb"/>
<rect x="434" y="753.61" width="52.1" height="6.13" fill="#2967b3"/>
<rect x="434" y="759.44" width="52.1" height="5.86" fill="#205aa9"/>
<rect x="492.1" y="458.66" width="52.2" height="49.33" fill="#c3dbf0"/>
<rect x="492.1" y="507.68" width="52.2" height="37.40" fill="#b2d0eb"/>
<rect x="492.1" y="544.78" width="52.2" height="38.19" fill="#a1c5e6"/>
<rect x="492.1" y="582.68" width="52.2" height="49.06" fill="#91bae1"/>
<rect x="492.1" y="631.44" width="52.2" height="37.13" fill="#80aedb"/>
<rect x="492.1" y="668.27" width="52.2" height="29.45" fill="#70a3d5"/>
<rect x="492.1" y="697.42" width="52.2" height="17.26" fill="#6097cf"/>
<rect x="492.1" y="714.38" width="52.2" height="21.50" fill="#508bc9"/>
<rect x="492.1" y="735.59" width="52.2" height="17.79" fill="#417fc2"/>
<rect x="492.1" y="753.08" width="52.2" height="6.13" fill="#2967b3"/>
<rect x="492.1" y="758.91" width="52.2" height="6.40" fill="#205aa9"/>
<text x="460.1" y="486.2" font-size="11.4" fill="#111" text-anchor="middle" textLength="33.3" lengthAdjust="spacingAndGlyphs">1.79%</text>
<text x="476.6" y="478.0" font-size="8.5" fill="#111" text-anchor="start">**</text>
<text x="460.1" y="531.3" font-size="11.4" fill="#111" text-anchor="middle" textLength="33.3" lengthAdjust="spacingAndGlyphs">1.57%</text>
<text x="476.6" y="523.1" font-size="8.5" fill="#111" text-anchor="start">**</text>
<text x="460.1" y="571.6" font-size="11.4" fill="#111" text-anchor="middle" textLength="33.3" lengthAdjust="spacingAndGlyphs">1.54%</text>
<text x="476.6" y="563.4" font-size="8.5" fill="#111" text-anchor="start">**</text>
<text x="460.1" y="612.7" font-size="11.4" fill="#111" text-anchor="middle" textLength="33.3" lengthAdjust="spacingAndGlyphs">1.42%</text>
<text x="476.6" y="603.8" font-size="8.5" fill="#111" text-anchor="start">*</text>
<text x="460.1" y="647.8" font-size="11.4" fill="#111" text-anchor="middle" textLength="33.3" lengthAdjust="spacingAndGlyphs">1.29%</text>
<text x="476.6" y="638.9" font-size="8.5" fill="#111" text-anchor="start">*</text>
<text x="460.1" y="679.4" font-size="11.4" fill="#111" text-anchor="middle" textLength="33.3" lengthAdjust="spacingAndGlyphs">1.11%</text>
<text x="460.1" y="704.8" font-size="11.4" fill="#111" text-anchor="middle" textLength="33.3" lengthAdjust="spacingAndGlyphs">0.79%</text>
<text x="460.1" y="723.0" font-size="11.4" fill="#111" text-anchor="middle" textLength="33.3" lengthAdjust="spacingAndGlyphs">0.63%</text>
<text x="476.6" y="718.6" font-size="8.5" fill="#111" text-anchor="start">*</text>
<text x="460.1" y="737.7" font-size="11.4" fill="#111" text-anchor="middle" textLength="33.3" lengthAdjust="spacingAndGlyphs">0.55%</text>
<text x="460.1" y="749.1" font-size="11.4" fill="#111" text-anchor="middle" textLength="33.3" lengthAdjust="spacingAndGlyphs">0.46%</text>
<text x="460.1" y="759.8" font-size="11.4" fill="#111" text-anchor="middle" textLength="33.3" lengthAdjust="spacingAndGlyphs">0.22%</text>
<text x="460.1" y="769.9" font-size="11.4" fill="#111" text-anchor="middle" textLength="33.3" lengthAdjust="spacingAndGlyphs">0.21%</text>
<text x="518.2" y="487.1" font-size="11.4" fill="#111" text-anchor="middle" textLength="33.3" lengthAdjust="spacingAndGlyphs">1.85%</text>
<text x="534.7" y="478.9" font-size="8.5" fill="#111" text-anchor="start">**</text>
<text x="518.2" y="531.3" font-size="11.4" fill="#111" text-anchor="middle" textLength="33.3" lengthAdjust="spacingAndGlyphs">1.40%</text>
<text x="518.2" y="571.6" font-size="11.4" fill="#111" text-anchor="middle" textLength="33.3" lengthAdjust="spacingAndGlyphs">1.43%</text>
<text x="518.2" y="612.7" font-size="11.4" fill="#111" text-anchor="middle" textLength="33.3" lengthAdjust="spacingAndGlyphs">1.84%</text>
<text x="518.2" y="654.3" font-size="11.4" fill="#111" text-anchor="middle" textLength="33.3" lengthAdjust="spacingAndGlyphs">1.39%</text>
<text x="518.2" y="687.4" font-size="11.4" fill="#111" text-anchor="middle" textLength="33.3" lengthAdjust="spacingAndGlyphs">1.10%</text>
<text x="518.2" y="712.4" font-size="11.4" fill="#111" text-anchor="middle" textLength="33.3" lengthAdjust="spacingAndGlyphs">0.64%</text>
<text x="518.2" y="731.4" font-size="11.4" fill="#111" text-anchor="middle" textLength="33.3" lengthAdjust="spacingAndGlyphs">0.80%</text>
<text x="518.2" y="749.1" font-size="11.4" fill="#111" text-anchor="middle" textLength="33.3" lengthAdjust="spacingAndGlyphs">0.66%</text>
<text x="518.2" y="760.4" font-size="11.4" fill="#111" text-anchor="middle" textLength="33.3" lengthAdjust="spacingAndGlyphs">0.22%</text>
<text x="518.2" y="771.3" font-size="11.4" fill="#111" text-anchor="middle" textLength="33.3" lengthAdjust="spacingAndGlyphs">0.23%</text>
<text x="459.6" y="792.2" font-size="11.2" fill="#1a1a1a" text-anchor="middle" textLength="23.7" lengthAdjust="spacingAndGlyphs">ASD</text>
<text x="519.9" y="792.2" font-size="11.2" fill="#1a1a1a" text-anchor="middle" textLength="51.2" lengthAdjust="spacingAndGlyphs">non−ASD</text>
<text x="560.3" y="463.2" font-size="10.6" fill="#111" font-weight="bold" text-anchor="start">Factor</text>
<rect x="560.3" y="469.0" width="12.8" height="12.5" fill="#c3dbf0"/>
<text x="578.0" y="479.2" font-size="10.7" fill="#1a1a1a" text-anchor="start">Bristol stool chart</text>
<rect x="560.3" y="482.6" width="12.8" height="12.5" fill="#b2d0eb"/>
<text x="578.0" y="492.8" font-size="10.7" fill="#1a1a1a" text-anchor="start">Dietary pattern</text>
<rect x="560.3" y="496.2" width="12.8" height="12.5" fill="#a1c5e6"/>
<text x="578.0" y="506.4" font-size="10.7" fill="#1a1a1a" text-anchor="start">Age</text>
<rect x="560.3" y="509.8" width="12.8" height="12.5" fill="#91bae1"/>
<text x="578.0" y="520.0" font-size="10.7" fill="#1a1a1a" text-anchor="start">Emulsifiers</text>
<rect x="560.3" y="523.4" width="12.8" height="12.5" fill="#80aedb"/>
<text x="578.0" y="533.6" font-size="10.7" fill="#1a1a1a" text-anchor="start">BMI</text>
<rect x="560.3" y="537.0" width="12.8" height="12.5" fill="#70a3d5"/>
<text x="578.0" y="547.2" font-size="10.7" fill="#1a1a1a" text-anchor="start">Eating behaviors</text>
<rect x="560.3" y="550.6" width="12.8" height="12.5" fill="#6097cf"/>
<text x="578.0" y="560.8" font-size="10.7" fill="#1a1a1a" text-anchor="start">GI symptoms</text>
<rect x="560.3" y="564.2" width="12.8" height="12.5" fill="#508bc9"/>
<text x="578.0" y="574.4" font-size="10.7" fill="#1a1a1a" text-anchor="start">Comorbidity</text>
<rect x="560.3" y="577.8" width="12.8" height="12.5" fill="#417fc2"/>
<text x="578.0" y="588.0" font-size="10.7" fill="#1a1a1a" text-anchor="start">Autistic symptoms</text>
<rect x="560.3" y="591.4" width="12.8" height="12.5" fill="#3473bb"/>
<text x="578.0" y="601.6" font-size="10.7" fill="#1a1a1a" text-anchor="start">Family medical history</text>
<rect x="560.3" y="605.0" width="12.8" height="12.5" fill="#2967b3"/>
<text x="578.0" y="615.2" font-size="10.7" fill="#1a1a1a" text-anchor="start">Sex</text>
<rect x="560.3" y="618.6" width="12.8" height="12.5" fill="#205aa9"/>
<text x="578.0" y="628.8" font-size="10.7" fill="#1a1a1a" text-anchor="start">Medication</text>
</svg></body></html>
